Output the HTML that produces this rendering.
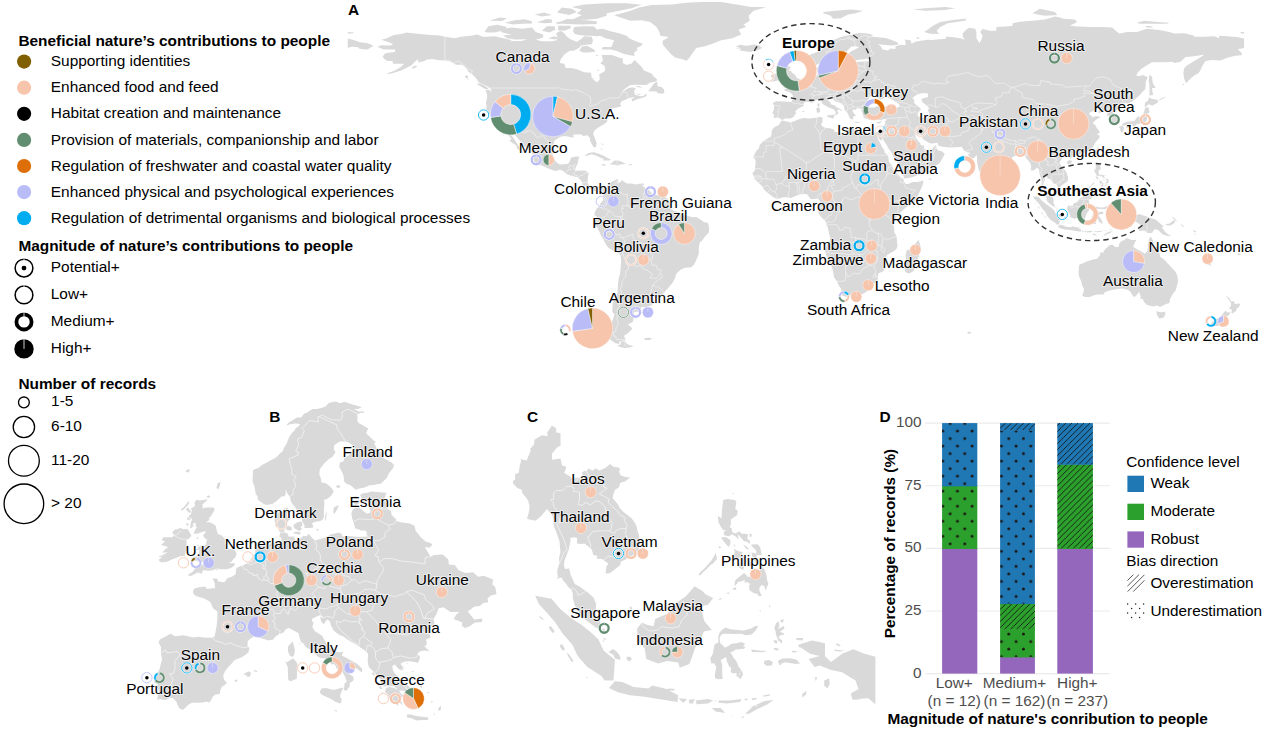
<!DOCTYPE html>
<html><head><meta charset="utf-8"><title>figure</title>
<style>
html,body{margin:0;padding:0;background:#fff;}
body{width:1268px;height:734px;overflow:hidden;position:relative;font-family:"Liberation Sans",sans-serif;}
svg{position:absolute;left:0;top:0;}
text{font-family:"Liberation Sans",sans-serif;fill:#000;}
.b{font-weight:bold;}
</style></head><body>
<svg width="1268" height="734" viewBox="0 0 1268 734">
<rect width="1268" height="734" fill="#fff"/>

<g id="world">
<path fill="#d9d9d9" d="M377.3 46.7 L381.8 45.2 L388.0 45.4 L393.0 44.9 L391.3 43.2 L388.0 41.9 L381.3 39.7 L386.3 38.4 L390.0 36.7 L393.8 35.0 L402.5 33.7 L406.2 32.5 L417.4 33.7 L427.4 34.7 L439.8 35.5 L444.8 36.7 L454.8 38.2 L461.0 36.7 L472.2 35.5 L477.2 34.5 L483.4 36.9 L494.6 36.2 L504.6 38.4 L512.0 40.2 L509.5 41.2 L522.0 40.9 L527.0 39.2 L532.0 38.7 L541.9 41.2 L551.9 41.2 L556.9 40.2 L557.4 36.9 L556.1 33.2 L560.6 30.7 L564.3 33.2 L566.8 36.4 L570.6 39.2 L576.8 41.7 L580.5 39.4 L584.2 36.2 L591.7 36.7 L593.0 40.7 L591.7 44.2 L584.2 44.9 L580.5 45.7 L579.3 47.7 L574.3 50.6 L569.3 51.1 L564.3 54.4 L560.6 59.4 L559.8 63.1 L564.3 63.8 L565.6 68.1 L571.8 68.1 L576.8 69.3 L584.2 72.3 L591.0 72.8 L591.7 78.0 L594.2 80.5 L597.4 82.3 L599.7 79.3 L599.2 74.3 L604.2 71.8 L605.4 69.3 L604.2 65.6 L600.4 63.6 L602.9 60.6 L601.7 54.9 L611.6 54.9 L619.1 57.4 L622.8 58.6 L622.8 63.1 L626.6 65.1 L631.6 63.6 L634.5 59.9 L641.5 66.8 L644.0 70.6 L651.5 73.5 L654.0 76.8 L657.0 79.3 L656.5 81.5 L650.2 82.5 L646.5 85.0 L636.5 84.8 L630.3 85.0 L625.3 88.5 L620.4 93.0 L624.1 90.7 L629.1 87.7 L634.0 87.5 L635.8 88.5 L634.0 91.0 L634.8 94.5 L639.0 96.0 L642.8 96.2 L646.5 93.5 L646.5 96.0 L643.5 97.5 L637.8 98.9 L632.1 101.4 L631.6 99.2 L635.3 97.0 L629.1 97.9 L625.3 99.7 L621.6 101.2 L619.9 104.2 L621.6 105.9 L617.9 107.2 L612.1 108.4 L611.6 109.7 L610.4 112.1 L607.9 114.1 L606.7 117.9 L607.4 121.4 L604.2 124.1 L601.7 125.6 L597.9 127.8 L594.2 130.8 L593.2 134.1 L595.5 139.8 L596.7 143.3 L596.0 147.0 L593.7 147.5 L592.2 144.8 L590.0 140.8 L590.0 137.8 L587.2 135.3 L583.5 136.0 L580.5 134.3 L576.8 134.6 L573.0 134.8 L573.8 137.5 L570.6 137.3 L566.8 136.3 L561.8 136.3 L558.9 137.8 L554.4 140.8 L553.4 145.3 L552.4 150.2 L552.4 154.5 L553.9 159.0 L556.9 162.7 L559.8 164.4 L564.3 164.2 L568.1 163.7 L569.8 161.4 L570.8 157.7 L575.5 156.5 L579.3 156.5 L578.0 161.4 L577.3 164.7 L576.0 166.4 L574.8 170.4 L578.0 170.7 L581.8 170.4 L585.5 170.7 L588.7 172.7 L588.0 176.4 L587.5 181.4 L588.0 183.9 L590.5 186.8 L594.2 188.1 L597.2 186.3 L600.4 186.6 L603.4 188.8 L604.7 189.6 L607.2 186.1 L608.4 183.1 L611.1 182.1 L615.4 180.1 L617.9 179.1 L618.1 181.9 L616.9 185.1 L618.4 183.1 L621.1 181.4 L621.6 179.9 L624.6 181.9 L626.6 183.6 L631.6 183.6 L635.3 184.6 L641.5 183.4 L642.0 185.1 L644.5 187.6 L645.3 188.6 L649.0 190.1 L652.7 194.6 L657.7 195.3 L661.4 195.6 L666.4 198.0 L668.4 199.5 L671.4 205.5 L671.4 209.5 L675.1 211.2 L677.6 211.7 L685.1 215.7 L687.6 216.0 L692.6 217.2 L696.3 217.0 L700.0 219.2 L703.8 222.0 L708.0 222.9 L709.2 227.9 L708.8 232.4 L705.0 236.4 L702.5 239.9 L699.8 242.4 L698.8 247.3 L698.8 253.6 L697.0 258.6 L694.3 264.3 L691.3 267.3 L685.1 267.8 L680.6 269.8 L676.4 273.5 L674.9 278.5 L672.6 282.7 L668.9 287.2 L665.7 290.4 L662.7 294.7 L659.2 296.9 L655.2 296.7 L650.7 295.2 L653.2 298.4 L654.0 300.9 L652.0 305.1 L646.5 306.9 L641.0 307.1 L640.8 311.6 L634.0 312.1 L634.0 315.3 L637.3 315.8 L633.6 318.3 L632.8 322.1 L627.8 324.5 L631.6 327.5 L632.1 329.0 L627.8 333.3 L624.1 335.7 L625.6 340.2 L622.8 340.7 L619.6 341.5 L619.1 344.0 L615.4 343.2 L611.6 340.7 L609.1 338.2 L607.9 332.0 L607.7 326.5 L611.6 323.3 L613.4 318.3 L614.6 314.6 L612.4 312.1 L612.4 308.4 L612.9 302.6 L614.9 298.4 L617.4 293.4 L617.9 285.9 L618.4 279.7 L620.1 273.5 L620.6 268.0 L621.1 261.0 L620.6 255.6 L617.9 253.1 L612.9 250.6 L608.4 247.8 L605.9 244.4 L603.7 239.9 L600.9 234.9 L598.4 229.9 L596.7 226.7 L593.7 224.7 L593.5 221.0 L596.0 218.5 L596.9 216.2 L594.5 215.5 L594.7 212.5 L596.5 208.8 L597.9 207.5 L599.7 206.0 L600.4 203.5 L602.9 200.5 L603.2 196.3 L602.9 193.1 L601.9 192.1 L600.7 190.1 L597.9 187.6 L596.0 189.3 L596.2 191.6 L593.7 191.1 L592.5 189.8 L589.7 189.3 L587.7 188.8 L587.5 187.6 L585.0 186.1 L582.5 185.1 L582.3 182.6 L580.5 180.1 L578.3 177.9 L577.3 176.9 L573.8 176.6 L570.6 175.4 L566.3 173.9 L563.1 170.7 L559.8 169.7 L555.6 170.9 L550.6 169.4 L546.9 167.7 L542.4 165.7 L538.2 164.4 L534.4 161.4 L533.0 159.0 L533.7 156.5 L532.0 152.7 L528.2 149.0 L524.5 146.3 L523.2 143.5 L520.8 141.5 L518.3 139.0 L515.8 135.8 L514.0 132.3 L510.0 131.1 L510.3 134.1 L513.3 137.8 L515.8 141.5 L518.3 145.3 L520.8 149.0 L523.2 152.2 L522.2 153.0 L520.8 151.5 L517.0 148.5 L516.3 145.3 L512.0 142.8 L509.5 140.8 L511.5 139.0 L508.3 135.3 L505.6 130.8 L504.1 128.8 L501.1 125.3 L495.9 124.1 L492.6 119.1 L490.9 116.1 L487.6 111.6 L486.4 109.4 L486.6 105.4 L485.9 102.9 L487.1 97.9 L487.1 95.0 L485.6 89.7 L490.1 90.2 L490.9 92.2 L491.4 89.7 L489.6 88.0 L485.9 85.5 L479.7 83.0 L478.4 81.8 L475.9 78.0 L472.2 74.3 L468.5 71.8 L466.0 68.1 L462.2 64.8 L456.0 64.8 L453.5 63.1 L448.5 61.1 L443.6 60.6 L437.3 60.1 L432.4 58.9 L427.4 59.4 L423.6 61.3 L417.9 62.6 L418.7 58.6 L422.4 57.6 L416.2 60.6 L413.7 63.1 L411.2 65.6 L406.2 68.1 L401.2 70.6 L396.3 72.1 L391.3 73.5 L386.3 74.3 L390.0 72.3 L395.0 70.6 L401.2 66.8 L404.2 63.8 L400.0 63.8 L393.0 63.8 L392.5 61.1 L387.5 61.1 L384.3 59.1 L382.6 56.4 L385.0 53.6 L390.0 52.6 L395.0 51.9 L395.0 49.4 L390.0 49.4 L383.8 49.4 L381.3 48.6 L377.3 46.7Z M488.6 89.5 L484.2 88.5 L476.4 83.8 L479.7 83.5 L484.6 85.5 L488.1 88.2Z M469.2 80.0 L464.7 76.8 L466.0 75.3 L468.0 76.0 L467.7 78.0Z M411.2 68.1 L414.9 65.6 L417.4 66.6 L413.7 68.6Z M648.2 91.2 L650.7 88.0 L654.0 83.5 L657.2 81.8 L657.7 85.5 L656.5 86.0 L661.4 87.0 L663.9 89.2 L664.4 92.2 L662.7 93.7 L657.7 93.2 L656.5 91.5Z M635.3 85.7 L640.3 86.5 L642.3 87.7 L637.8 87.2Z M636.0 93.5 L641.5 94.5 L639.0 95.2Z M584.5 155.5 L589.2 152.7 L594.2 152.2 L599.2 154.0 L604.2 156.0 L607.9 158.2 L611.1 159.7 L609.1 160.4 L602.9 160.4 L603.7 158.7 L600.4 157.7 L596.7 155.7 L591.7 154.2 L586.7 155.7Z M610.6 163.7 L614.6 160.4 L619.1 160.7 L622.1 161.9 L625.6 163.7 L622.8 164.2 L619.1 164.7 L617.4 165.7 L615.4 164.7 L610.6 164.4Z M600.9 164.4 L604.2 163.9 L606.2 165.2 L603.7 165.7Z M628.6 164.2 L632.3 164.2 L632.1 165.2 L628.6 165.2Z M600.4 143.8 L603.7 143.8 L604.2 144.8 L601.7 144.3Z M601.2 147.8 L602.4 149.7 L601.9 150.2 L600.9 148.7Z M642.0 183.4 L644.0 183.4 L644.0 184.9 L642.0 184.9Z M644.0 338.2 L649.0 337.7 L652.0 338.5 L650.2 340.0 L645.3 340.0Z M625.1 341.2 L626.1 342.7 L627.8 344.5 L633.6 346.2 L630.3 347.2 L625.3 347.9 L621.6 347.4 L617.1 345.7 L620.4 344.5 L620.9 342.7 L620.9 341.5Z M634.5 55.9 L631.6 55.6 L624.1 53.9 L616.6 51.1 L610.4 49.4 L601.7 49.4 L602.9 46.9 L611.6 46.9 L612.9 43.2 L614.1 40.2 L605.4 38.2 L600.4 35.7 L596.7 36.2 L591.7 35.7 L585.5 35.7 L579.3 35.0 L574.3 33.7 L573.0 30.7 L574.3 27.0 L584.2 26.2 L594.2 26.5 L596.7 29.5 L602.9 28.7 L610.4 31.2 L619.1 33.2 L626.6 35.7 L629.1 38.2 L636.5 41.4 L642.8 43.7 L641.5 45.7 L636.5 48.1 L637.8 49.4 L634.0 53.1Z M543.2 37.4 L536.9 39.4 L527.0 39.2 L514.5 39.4 L507.1 38.2 L503.3 35.2 L512.0 35.0 L500.8 32.0 L503.3 28.7 L512.0 27.5 L522.0 28.7 L532.0 27.5 L535.7 32.0 L543.2 34.5Z M484.6 32.0 L488.4 26.2 L497.1 24.7 L507.1 27.0 L502.1 30.7 L494.6 32.5 L488.4 32.5Z M504.6 22.8 L514.5 20.3 L524.5 19.3 L532.0 21.3 L532.0 23.5 L522.0 23.7 L513.3 24.5Z M489.6 20.8 L499.6 17.5 L507.1 18.3 L502.1 21.0Z M536.9 22.3 L546.9 19.0 L551.9 19.5 L551.9 22.8 L544.4 23.2Z M541.9 30.7 L546.9 26.2 L554.4 26.2 L555.6 29.5 L549.4 32.5Z M558.1 30.2 L558.1 25.7 L570.6 25.7 L570.6 28.2 L564.3 30.7Z M548.1 38.2 L554.4 36.2 L558.1 37.7 L555.6 39.4Z M556.9 23.2 L566.8 19.0 L576.8 19.5 L596.7 21.3 L596.7 24.0 L581.8 24.5 L566.8 24.0Z M555.6 22.5 L560.6 21.5 L563.1 23.2 L558.1 24.2Z M571.8 19.8 L581.8 15.3 L576.8 13.3 L581.8 9.6 L571.8 7.1 L584.2 4.6 L606.7 3.3 L626.6 3.3 L641.5 4.8 L631.6 8.3 L616.6 11.3 L606.7 13.3 L606.7 15.8 L596.7 18.8 L586.7 19.8Z M556.9 12.5 L561.8 7.6 L571.8 8.8 L576.8 12.0 L569.3 15.0Z M534.4 14.5 L544.4 12.5 L551.9 15.0 L541.9 16.5Z M579.3 50.6 L581.8 46.4 L586.7 45.7 L594.2 49.4 L595.5 51.4 L589.2 52.6 L583.0 52.6Z M595.5 54.6 L598.4 55.6 L596.7 56.6Z M591.7 78.0 L595.5 78.0 L593.7 78.8Z M596.7 69.3 L599.2 70.6 L597.7 71.1Z M614.1 15.3 L629.1 11.3 L639.0 7.6 L651.5 5.1 L671.4 4.6 L686.3 2.8 L701.3 2.1 L721.2 2.1 L741.1 5.3 L751.1 7.1 L766.0 7.1 L753.6 10.8 L748.6 15.8 L749.8 20.8 L743.6 24.5 L746.1 27.0 L738.6 29.5 L741.1 34.5 L732.4 38.2 L721.2 40.2 L713.7 43.2 L705.0 46.2 L696.3 48.1 L692.6 53.1 L689.3 58.1 L686.6 60.8 L681.4 58.9 L675.1 57.4 L671.4 54.4 L667.7 50.6 L662.7 44.4 L662.7 40.7 L668.9 36.9 L660.2 35.7 L659.4 32.0 L656.5 27.0 L650.2 22.0 L641.5 20.3 L630.3 20.8 L622.8 18.3 L614.1 15.3Z M735.4 46.9 L739.9 44.7 L746.1 45.7 L754.8 44.4 L759.8 45.7 L762.0 48.1 L758.5 49.9 L749.8 51.9 L743.6 51.1 L739.4 50.6 L741.1 48.6 L736.1 48.4 L739.9 47.2Z M781.2 120.9 L782.7 120.6 L788.4 122.1 L790.9 122.6 L795.9 120.6 L799.6 119.1 L803.4 118.1 L809.6 118.4 L814.6 117.9 L820.3 117.1 L823.3 117.9 L822.0 119.6 L822.8 121.6 L821.0 124.8 L823.3 127.1 L827.0 128.3 L828.8 128.1 L833.7 129.6 L834.5 131.6 L839.5 133.1 L843.7 134.6 L845.7 132.8 L845.7 129.6 L849.4 128.1 L853.2 128.8 L858.1 130.8 L863.1 132.1 L868.1 132.8 L870.6 131.8 L873.1 131.3 L876.3 132.1 L877.1 135.3 L878.1 139.8 L880.1 142.8 L881.8 146.5 L884.3 150.2 L884.8 152.7 L887.8 155.2 L888.5 157.7 L888.8 161.4 L891.8 165.2 L893.8 170.9 L896.7 173.1 L900.5 176.9 L903.5 178.9 L903.7 181.1 L905.5 183.9 L908.0 183.9 L912.9 182.1 L917.9 181.9 L923.4 180.4 L922.9 184.1 L921.6 187.6 L919.2 192.6 L916.7 197.6 L914.2 201.3 L910.4 204.5 L906.7 207.0 L903.0 210.0 L900.5 212.5 L898.0 215.0 L896.0 217.5 L894.5 221.2 L893.0 224.9 L894.3 227.4 L894.3 232.4 L896.5 236.1 L897.0 241.1 L897.5 246.1 L896.7 248.6 L894.3 251.1 L890.5 253.1 L887.5 254.8 L883.8 259.3 L883.8 263.5 L884.3 268.5 L883.8 271.0 L878.1 273.5 L877.8 278.5 L876.6 281.7 L873.1 284.7 L870.6 287.9 L866.9 291.4 L863.1 293.7 L859.9 294.7 L854.4 294.9 L850.7 295.2 L845.7 296.7 L842.0 295.4 L841.5 292.2 L841.2 288.9 L839.0 285.9 L837.0 281.2 L834.0 277.2 L833.2 272.2 L832.0 267.3 L829.5 262.3 L827.0 256.8 L825.3 252.8 L825.3 249.3 L827.0 244.9 L829.5 241.1 L830.3 237.4 L828.8 232.4 L827.8 227.4 L826.5 224.9 L826.3 222.4 L825.3 220.7 L823.3 219.2 L820.1 215.7 L818.3 212.5 L819.1 209.3 L819.8 207.0 L820.3 203.8 L820.1 201.0 L818.1 198.8 L816.6 198.8 L813.3 199.0 L810.8 199.3 L808.4 196.1 L807.1 194.3 L804.4 194.1 L799.6 194.6 L795.9 195.8 L790.9 198.0 L787.2 197.3 L783.4 197.3 L777.2 199.0 L773.0 197.1 L769.0 193.8 L767.3 192.8 L763.5 188.8 L762.3 186.3 L759.3 183.4 L757.3 181.4 L754.3 179.1 L754.1 176.4 L752.3 173.4 L754.8 170.2 L755.3 165.2 L755.8 161.7 L754.8 158.5 L753.3 158.0 L753.6 156.5 L756.1 151.0 L758.8 148.5 L759.8 144.8 L763.5 141.0 L768.0 138.3 L771.0 136.5 L771.7 134.1 L771.5 131.6 L772.7 129.1 L774.7 127.1 L778.5 125.3 L780.2 122.8Z M918.7 239.9 L921.1 248.6 L919.9 252.3 L918.7 256.1 L916.7 262.3 L913.7 271.0 L909.2 273.5 L905.5 272.2 L903.7 266.0 L906.2 259.8 L905.5 254.8 L906.7 250.3 L911.2 249.1 L915.4 243.6Z M772.7 102.9 L776.0 101.2 L782.2 101.4 L787.2 101.7 L791.4 101.9 L792.7 99.2 L792.9 95.5 L790.4 92.5 L784.7 90.7 L784.2 89.2 L788.4 88.5 L791.9 88.7 L792.2 86.2 L795.4 87.2 L796.4 86.2 L799.6 85.0 L799.9 83.3 L802.1 82.8 L804.6 81.8 L806.4 80.0 L807.9 78.0 L810.8 76.8 L813.3 76.5 L816.6 76.0 L817.8 74.8 L817.3 71.8 L816.1 69.3 L817.1 67.6 L822.0 66.3 L821.5 69.3 L822.8 70.1 L820.8 72.3 L819.6 73.0 L820.8 74.3 L823.3 75.5 L826.5 74.8 L829.5 74.5 L831.5 75.8 L836.5 74.5 L842.0 73.5 L843.2 74.8 L845.5 74.3 L848.2 72.6 L848.2 68.6 L850.2 66.6 L852.2 66.3 L854.4 68.1 L856.4 67.6 L856.7 64.8 L854.4 63.8 L854.4 62.6 L858.1 61.8 L865.6 61.6 L871.1 60.8 L867.4 59.1 L860.6 59.6 L853.2 60.8 L849.4 59.1 L848.9 56.4 L848.9 53.1 L851.9 51.1 L856.9 48.6 L858.9 46.9 L855.2 46.2 L851.4 46.4 L848.9 48.9 L846.9 51.1 L842.0 53.1 L839.0 55.1 L838.7 58.1 L839.5 59.4 L842.0 60.1 L842.7 61.6 L840.2 63.6 L837.5 64.3 L837.0 67.3 L835.7 70.1 L832.0 70.6 L831.3 72.1 L828.0 72.1 L827.5 70.1 L825.3 66.8 L823.8 63.6 L822.3 62.3 L822.0 61.1 L819.6 63.3 L815.8 65.3 L813.3 65.6 L809.8 63.6 L808.4 60.6 L808.4 56.9 L808.8 55.1 L813.3 53.4 L817.1 51.9 L820.8 50.6 L823.3 48.6 L826.5 46.2 L828.3 43.7 L832.0 41.4 L833.2 39.9 L837.0 38.7 L840.7 36.9 L845.7 35.7 L850.7 35.0 L855.7 33.5 L860.1 33.0 L865.6 33.2 L870.6 34.2 L873.1 35.0 L870.6 36.4 L878.1 37.2 L885.5 37.9 L891.8 39.9 L898.0 42.7 L898.0 44.7 L891.8 45.4 L883.0 44.7 L878.1 43.9 L880.6 46.2 L882.6 49.4 L888.0 50.6 L890.5 48.6 L895.5 49.1 L895.5 46.2 L900.5 44.7 L905.5 45.2 L905.5 41.2 L904.2 39.4 L910.4 40.2 L911.7 43.7 L915.4 41.7 L920.4 40.7 L927.9 39.7 L931.6 39.9 L939.1 39.2 L945.3 38.9 L946.5 36.4 L955.3 37.4 L960.2 38.2 L965.2 39.7 L962.7 36.9 L962.7 33.2 L966.5 29.5 L969.0 27.7 L975.2 28.7 L976.4 32.0 L976.4 38.2 L979.7 43.2 L981.4 39.4 L982.6 35.7 L980.2 32.0 L982.6 29.0 L990.1 30.7 L996.3 30.7 L996.3 27.0 L1005.1 26.5 L1012.5 26.0 L1012.5 23.2 L1020.0 21.8 L1032.5 20.8 L1044.9 19.5 L1054.9 16.5 L1059.8 17.5 L1063.6 18.8 L1074.8 19.5 L1077.3 22.0 L1069.8 25.7 L1077.3 26.5 L1089.7 27.0 L1102.2 27.0 L1112.1 27.5 L1117.1 32.0 L1119.6 33.5 L1127.1 32.0 L1137.0 32.0 L1144.5 29.5 L1147.0 28.7 L1159.4 30.0 L1169.4 32.0 L1174.4 33.5 L1184.3 33.2 L1194.3 35.7 L1194.3 36.7 L1204.3 36.7 L1214.2 36.2 L1219.2 38.2 L1219.2 35.7 L1226.7 36.2 L1236.6 36.9 L1244.1 38.4 L1244.1 48.1 L1241.6 48.6 L1237.9 48.9 L1241.6 53.1 L1242.1 54.9 L1234.1 56.1 L1226.7 58.1 L1220.4 60.6 L1211.7 59.9 L1205.5 61.1 L1202.5 65.6 L1200.5 70.1 L1198.8 73.0 L1194.3 75.5 L1191.1 78.0 L1186.1 83.3 L1184.3 79.3 L1183.3 73.0 L1184.3 68.1 L1186.8 65.6 L1191.8 62.6 L1196.8 59.4 L1201.8 56.6 L1204.3 54.4 L1199.3 55.6 L1195.0 56.1 L1191.8 56.4 L1185.6 56.9 L1180.6 61.8 L1174.4 63.1 L1171.9 61.8 L1165.7 62.3 L1158.2 62.3 L1152.0 62.3 L1145.7 66.1 L1140.8 69.3 L1137.0 73.5 L1136.5 76.0 L1139.5 76.0 L1143.3 75.0 L1147.7 77.5 L1145.7 81.8 L1145.7 85.5 L1145.2 89.2 L1142.0 92.2 L1139.5 95.5 L1135.8 98.4 L1132.0 101.7 L1127.1 103.7 L1124.6 102.4 L1121.3 104.7 L1119.1 106.7 L1118.9 108.4 L1115.9 110.4 L1113.4 111.6 L1113.1 112.4 L1115.9 114.6 L1118.1 117.9 L1118.4 120.9 L1117.1 122.6 L1113.9 123.3 L1110.9 124.3 L1110.4 121.6 L1111.4 118.4 L1111.1 116.4 L1108.4 115.9 L1106.9 115.4 L1107.9 112.1 L1105.7 110.6 L1102.2 111.4 L1098.4 113.4 L1098.9 110.4 L1100.2 108.9 L1097.2 108.2 L1093.5 110.9 L1089.7 112.4 L1089.0 114.1 L1091.7 115.9 L1092.7 117.4 L1095.9 116.1 L1100.9 116.9 L1097.2 118.9 L1095.2 120.4 L1093.0 122.4 L1093.0 123.3 L1095.4 125.3 L1096.9 128.3 L1099.2 130.8 L1099.4 133.1 L1096.7 134.6 L1099.7 135.5 L1099.2 138.3 L1097.2 140.3 L1094.7 143.5 L1093.5 146.5 L1091.0 148.7 L1088.0 151.2 L1084.7 153.0 L1080.5 154.2 L1078.5 155.0 L1074.8 156.0 L1071.8 157.0 L1070.5 159.2 L1069.3 156.7 L1066.1 156.0 L1062.3 157.7 L1061.1 160.2 L1059.3 162.7 L1061.1 165.7 L1063.6 168.9 L1066.1 171.4 L1067.8 176.4 L1068.1 180.1 L1066.8 182.1 L1063.6 183.9 L1061.6 185.6 L1058.1 188.3 L1057.1 185.6 L1056.1 183.9 L1053.6 183.4 L1051.9 180.9 L1049.9 178.9 L1047.4 178.4 L1047.1 176.4 L1044.9 176.9 L1044.9 180.1 L1043.7 182.6 L1042.9 185.6 L1044.4 187.1 L1045.6 189.3 L1046.1 191.8 L1048.6 193.1 L1050.6 194.6 L1052.9 197.6 L1053.6 200.0 L1053.4 203.0 L1055.4 206.3 L1053.4 206.5 L1050.6 204.5 L1048.4 202.8 L1046.6 200.0 L1045.9 196.3 L1045.4 193.8 L1043.9 192.6 L1041.7 189.6 L1040.7 187.6 L1041.4 183.9 L1041.7 180.1 L1040.4 176.4 L1039.4 172.7 L1038.9 168.9 L1036.9 167.7 L1033.7 170.4 L1030.7 170.2 L1031.2 166.4 L1030.0 162.7 L1028.0 160.2 L1025.7 157.7 L1024.5 154.5 L1021.2 154.7 L1017.5 155.7 L1015.0 156.0 L1012.5 156.7 L1012.0 159.0 L1008.8 160.9 L1005.6 163.9 L1001.3 167.7 L998.3 169.7 L995.6 171.4 L995.3 176.4 L994.6 181.4 L993.9 184.4 L992.6 186.8 L990.6 188.1 L988.9 189.8 L986.4 187.1 L985.1 183.9 L983.1 180.1 L981.4 175.1 L978.9 170.2 L977.7 165.7 L977.2 162.2 L976.9 157.7 L976.7 154.7 L973.9 158.2 L970.9 158.0 L967.7 154.5 L970.9 153.0 L967.2 152.2 L964.0 150.5 L962.7 148.2 L961.5 146.8 L956.5 147.3 L949.0 147.5 L942.8 146.8 L938.6 145.8 L937.3 142.8 L932.9 143.5 L930.4 143.5 L926.6 141.5 L922.9 139.0 L920.9 135.3 L917.9 134.3 L915.4 135.3 L915.4 136.8 L917.4 140.3 L920.4 143.5 L921.1 145.8 L923.6 145.0 L924.1 147.0 L924.4 149.5 L927.9 150.0 L931.6 149.2 L935.3 145.5 L936.3 144.5 L936.3 148.0 L937.8 150.2 L941.8 151.2 L944.8 154.0 L942.1 159.0 L939.8 162.7 L936.6 165.2 L932.9 167.7 L927.9 168.9 L924.1 171.9 L917.9 175.1 L912.9 176.9 L908.0 178.1 L904.2 178.4 L903.0 175.1 L902.2 171.4 L901.7 168.2 L899.2 165.2 L896.7 161.4 L893.5 157.0 L891.8 152.7 L888.8 149.0 L886.8 145.3 L883.8 140.8 L882.6 138.3 L883.0 136.5 L881.6 140.3 L881.1 140.8 L879.3 139.0 L877.1 135.5 L876.3 132.3 L880.6 132.1 L882.3 130.3 L883.0 127.8 L885.0 124.1 L885.3 120.9 L886.0 118.9 L883.8 118.9 L880.6 119.9 L876.8 120.1 L872.1 118.4 L869.4 119.9 L866.1 118.6 L863.9 117.9 L863.1 114.9 L861.9 112.1 L861.1 110.4 L864.4 109.4 L868.1 109.2 L868.6 107.4 L874.3 107.4 L879.3 105.4 L883.0 105.4 L886.8 107.2 L891.8 108.2 L896.7 107.9 L899.5 106.4 L899.2 104.2 L895.5 101.7 L891.8 99.4 L888.8 97.9 L887.3 97.2 L890.5 95.0 L893.0 92.5 L889.3 93.0 L884.3 94.2 L883.0 96.2 L886.8 97.2 L883.8 97.9 L880.6 99.4 L879.3 98.9 L876.8 97.0 L879.8 95.5 L875.6 94.7 L873.1 94.0 L870.1 96.7 L867.4 100.4 L865.6 102.9 L865.1 104.7 L866.1 106.7 L868.1 107.4 L865.6 107.9 L863.1 108.9 L861.1 109.7 L860.6 108.4 L856.9 108.2 L855.2 109.9 L852.7 109.2 L852.7 111.6 L854.4 114.1 L855.7 115.4 L855.7 116.1 L853.2 116.6 L853.2 119.1 L851.9 119.4 L849.9 118.4 L848.7 115.9 L848.2 114.1 L846.4 111.6 L844.5 109.7 L844.2 106.7 L843.2 104.9 L840.2 102.9 L835.7 101.4 L833.2 99.2 L831.5 97.2 L829.8 97.9 L830.0 96.2 L826.5 97.0 L826.8 99.7 L829.8 101.7 L831.3 104.4 L835.7 105.7 L835.7 106.9 L838.2 107.9 L842.0 109.9 L841.7 110.9 L838.2 109.2 L837.2 110.9 L838.5 112.9 L837.0 114.6 L835.0 115.6 L835.0 114.6 L836.0 112.9 L835.0 110.4 L832.8 108.9 L831.3 108.4 L828.3 107.2 L826.3 105.9 L823.3 104.4 L822.0 102.9 L821.3 100.7 L819.6 99.7 L817.6 99.4 L814.6 100.9 L812.1 102.7 L808.4 101.9 L805.9 101.7 L803.9 102.4 L803.6 104.4 L803.9 105.7 L801.4 106.9 L797.9 108.7 L795.2 111.6 L796.4 113.4 L794.7 114.6 L794.2 116.4 L791.4 117.9 L790.4 118.6 L784.9 118.6 L782.5 120.1 L780.5 119.1 L780.0 118.1 L777.5 117.4 L773.7 117.9 L774.0 114.1 L772.2 113.4 L773.7 109.9 L774.2 106.7 L773.5 104.2Z M347.7 38.4 L352.7 39.7 L360.1 42.2 L367.6 43.2 L372.6 45.2 L373.1 45.9 L367.6 49.4 L365.1 49.6 L358.9 48.6 L357.7 46.9 L351.4 46.7 L347.7 48.1Z M781.7 85.3 L787.2 84.8 L790.9 84.0 L795.9 83.5 L799.4 82.5 L797.9 81.8 L800.1 79.0 L796.6 78.0 L795.9 76.5 L795.4 75.0 L792.4 73.0 L790.9 71.1 L788.4 70.6 L789.7 69.3 L790.9 66.8 L787.2 66.3 L785.9 66.6 L787.9 64.1 L783.4 64.1 L782.2 66.1 L781.5 68.6 L782.2 70.6 L783.4 72.6 L783.9 73.5 L787.2 73.3 L787.9 75.5 L788.4 77.0 L784.7 77.3 L785.2 78.5 L785.4 80.0 L783.0 80.8 L785.4 81.5 L788.4 82.0 L787.2 82.5 L784.7 82.8Z M780.0 80.0 L780.7 77.3 L782.2 74.3 L780.2 72.6 L777.2 72.3 L774.7 74.0 L771.0 75.0 L771.0 77.0 L772.7 78.0 L770.3 80.5 L771.5 81.8 L775.2 81.0Z M823.3 12.0 L835.7 10.8 L850.7 9.6 L863.1 10.8 L855.7 13.3 L848.2 14.5 L840.7 18.3 L833.2 18.8 L830.8 15.8 L823.3 13.3Z M912.9 9.6 L925.4 8.3 L945.3 7.1 L955.3 8.3 L945.3 10.1 L925.4 10.8Z M924.1 32.0 L927.9 29.5 L932.9 25.7 L940.3 22.0 L952.8 20.0 L966.5 18.5 L965.2 20.8 L947.8 23.2 L940.3 27.0 L936.6 30.7 L939.1 34.0 L930.4 33.7Z M1032.5 13.3 L1039.9 8.8 L1054.9 12.0 L1057.3 15.0 L1044.9 15.8 L1037.4 14.5Z M1137.0 22.5 L1144.5 20.8 L1157.0 22.0 L1169.4 22.8 L1166.9 23.7 L1152.0 23.7 L1139.5 23.7Z M1144.5 26.0 L1150.7 26.0 L1153.2 27.5 L1147.0 27.5Z M1240.4 32.0 L1244.1 32.0 L1244.1 33.5 L1241.1 33.5Z M347.7 32.0 L353.9 32.5 L352.7 33.5 L347.7 33.5Z M916.7 36.9 L919.2 37.4 L919.2 38.7 L916.7 38.7Z M1149.5 74.8 L1152.0 76.8 L1152.7 83.0 L1155.7 88.0 L1152.0 88.0 L1152.7 93.0 L1153.2 95.0 L1149.5 95.5 L1149.5 91.7 L1149.5 85.5 L1148.7 80.5Z M1144.5 106.7 L1147.0 105.9 L1148.2 104.2 L1152.7 105.4 L1158.2 102.2 L1157.7 99.9 L1150.7 98.4 L1149.0 97.0 L1148.2 100.4 L1145.2 102.4Z M1148.2 107.2 L1149.5 111.6 L1147.0 115.4 L1147.0 118.4 L1146.5 121.1 L1144.5 122.8 L1142.0 122.8 L1139.5 123.8 L1137.0 123.8 L1136.5 124.6 L1134.5 126.6 L1132.5 126.3 L1132.5 124.1 L1128.3 124.6 L1124.6 125.3 L1122.1 125.3 L1122.1 124.1 L1125.8 121.9 L1129.6 121.4 L1134.5 121.1 L1136.5 117.9 L1137.8 116.6 L1140.8 117.1 L1143.3 114.1 L1144.5 110.4 L1145.2 107.4Z M1121.8 125.6 L1124.1 127.1 L1123.3 131.6 L1121.1 132.3 L1120.1 129.1 L1118.9 127.3Z M1125.8 125.8 L1130.8 124.8 L1130.1 127.1 L1127.1 128.3 L1125.8 127.1Z M1098.4 147.3 L1099.7 148.7 L1097.2 154.0 L1096.7 155.2 L1094.9 152.7 L1096.7 149.0Z M1069.8 160.2 L1072.3 160.9 L1071.0 163.4 L1068.6 164.7 L1066.6 162.7 L1068.1 160.4Z M995.1 185.6 L998.1 188.8 L999.8 191.8 L998.3 194.6 L995.6 195.1 L994.4 191.3 L994.9 187.6Z M1068.8 205.0 L1070.5 205.8 L1072.8 206.3 L1073.3 203.8 L1077.3 202.0 L1079.8 198.8 L1083.5 196.3 L1086.5 192.8 L1089.0 194.3 L1090.2 195.6 L1092.7 196.8 L1091.0 199.0 L1088.7 199.5 L1089.2 202.5 L1089.7 204.5 L1092.2 207.5 L1089.5 208.0 L1088.5 211.2 L1086.7 213.2 L1085.7 216.2 L1084.7 219.0 L1081.5 220.2 L1081.0 218.5 L1077.3 218.0 L1074.3 218.7 L1070.3 217.2 L1069.8 213.7 L1067.6 211.2 L1067.3 209.3 L1067.3 207.0Z M1033.2 196.1 L1038.7 197.1 L1041.7 200.5 L1045.6 203.8 L1048.6 205.8 L1052.4 208.8 L1054.4 210.7 L1056.1 214.5 L1059.8 217.5 L1059.6 221.2 L1059.3 224.4 L1056.4 224.4 L1055.4 222.9 L1050.6 220.0 L1047.4 216.2 L1045.6 212.5 L1042.4 208.8 L1039.9 205.0 L1037.4 202.0 L1034.4 198.8Z M1057.8 226.9 L1059.8 224.7 L1062.3 224.9 L1066.1 226.7 L1071.0 227.2 L1072.3 226.2 L1076.5 227.2 L1081.0 229.4 L1080.8 231.7 L1076.0 230.9 L1069.8 229.9 L1064.8 229.4 L1060.8 228.4Z M1081.0 230.4 L1084.0 230.7 L1082.7 231.9Z M1084.5 230.9 L1086.5 230.7 L1086.0 232.2 L1084.7 232.2Z M1086.7 231.2 L1091.0 230.7 L1092.7 231.2 L1091.0 232.2 L1087.2 232.4Z M1094.5 231.2 L1098.4 231.2 L1102.2 230.7 L1101.7 231.7 L1097.2 232.2 L1094.5 231.9Z M1092.2 233.7 L1095.2 233.7 L1096.7 235.4 L1093.5 234.9Z M1103.4 235.6 L1105.9 233.2 L1109.6 231.4 L1112.9 230.9 L1110.9 232.4 L1107.2 234.2 L1104.7 235.6Z M1121.8 212.2 L1125.8 211.0 L1130.1 212.0 L1130.1 216.2 L1132.0 218.2 L1135.8 215.5 L1139.5 214.0 L1143.3 215.5 L1147.0 216.5 L1152.0 218.5 L1155.7 219.5 L1158.9 222.4 L1161.9 224.9 L1163.9 226.2 L1161.9 227.2 L1163.7 229.9 L1165.7 232.4 L1168.2 234.4 L1171.4 235.6 L1168.2 235.9 L1163.9 235.1 L1161.4 233.2 L1158.2 229.9 L1155.0 229.2 L1153.2 230.9 L1152.0 232.9 L1147.5 232.9 L1144.5 230.4 L1140.8 230.7 L1138.8 228.7 L1141.3 227.4 L1140.3 224.4 L1135.8 221.7 L1132.0 221.0 L1128.3 219.5 L1126.6 220.0 L1124.6 217.2 L1128.3 216.2 L1125.1 215.5 L1122.1 213.5Z M1165.2 223.9 L1169.4 223.7 L1173.1 220.5 L1175.1 220.7 L1174.4 222.9 L1170.6 225.4 L1166.9 225.4Z M1171.4 216.5 L1174.4 218.0 L1176.9 221.2 L1176.1 221.5 L1173.1 218.2Z M1180.9 223.7 L1183.8 226.2 L1183.1 227.2 L1181.4 225.4Z M1193.1 229.9 L1196.3 231.4 L1195.5 232.4 L1193.3 231.2Z M1193.8 233.2 L1196.3 234.2 L1195.0 234.7Z M1210.7 247.3 L1212.2 248.6 L1213.0 251.1 L1211.7 249.8Z M1237.4 253.6 L1240.4 253.6 L1240.6 255.1 L1237.9 255.3Z M1241.1 250.8 L1244.1 250.3 L1242.9 251.8Z M1204.3 260.0 L1208.0 262.3 L1211.7 265.5 L1210.5 265.8 L1206.8 263.8 L1204.3 261.0Z M1150.7 236.6 L1153.2 241.1 L1154.0 245.6 L1157.7 247.3 L1159.4 253.1 L1160.2 256.8 L1164.4 259.8 L1167.7 263.5 L1171.4 267.3 L1175.6 271.8 L1177.4 276.0 L1178.1 281.0 L1176.9 285.9 L1175.6 290.4 L1172.6 294.2 L1170.1 299.1 L1169.4 302.9 L1164.9 304.4 L1160.2 307.1 L1157.0 305.4 L1153.2 306.6 L1147.0 304.9 L1144.0 302.1 L1142.8 299.1 L1140.0 298.6 L1140.8 296.7 L1139.0 291.7 L1137.0 294.7 L1134.5 296.9 L1132.8 295.9 L1130.8 292.2 L1128.3 289.9 L1122.6 288.4 L1115.9 289.2 L1109.6 290.4 L1104.7 292.2 L1103.4 294.4 L1097.2 294.4 L1093.5 295.4 L1089.7 297.1 L1084.7 296.9 L1082.2 295.4 L1083.5 292.2 L1084.0 289.2 L1082.2 285.4 L1081.0 281.0 L1079.0 276.0 L1078.5 272.2 L1078.8 268.5 L1079.3 264.8 L1080.3 264.3 L1083.5 263.0 L1087.2 261.3 L1092.2 259.8 L1097.2 258.8 L1100.2 254.8 L1100.2 252.3 L1103.4 252.8 L1103.7 251.1 L1105.9 248.6 L1109.1 245.6 L1112.1 244.4 L1115.4 246.9 L1118.4 246.9 L1119.6 243.1 L1121.6 240.9 L1124.6 239.9 L1126.1 237.9 L1132.0 239.9 L1136.5 239.9 L1134.5 243.1 L1133.3 246.9 L1137.0 249.3 L1142.0 251.8 L1144.5 253.8 L1147.0 251.8 L1148.2 247.3 L1148.2 242.4 L1149.5 238.1Z M1156.2 311.3 L1160.7 312.3 L1165.2 311.8 L1165.2 315.1 L1163.2 317.8 L1159.4 318.6 L1157.4 315.8Z M1225.9 295.7 L1229.2 297.9 L1231.2 301.6 L1233.6 301.1 L1234.9 303.9 L1239.1 303.6 L1240.4 303.9 L1238.6 307.6 L1236.6 308.4 L1236.4 310.8 L1232.4 313.6 L1231.2 312.8 L1232.1 310.1 L1228.7 307.9 L1230.7 306.6 L1231.2 303.4 L1229.7 300.9 L1226.7 297.1Z M1225.9 310.8 L1227.2 312.6 L1229.7 312.1 L1229.9 314.1 L1226.7 317.1 L1226.2 319.1 L1222.4 320.3 L1220.9 324.3 L1218.0 326.0 L1215.0 326.0 L1210.5 324.5 L1213.0 321.3 L1215.5 319.6 L1220.4 317.1 L1222.4 314.6 L1224.2 312.1Z M827.0 115.4 L834.7 114.6 L833.7 117.9 L833.2 118.6 L829.5 117.4 L827.0 116.4Z M816.3 107.9 L819.6 107.4 L820.1 111.6 L818.3 112.9 L816.8 112.4Z M817.3 104.2 L819.3 102.9 L819.6 105.4 L818.8 106.9 L817.6 105.9Z M854.4 121.6 L858.1 121.9 L861.4 122.4 L858.1 123.1 L854.7 122.4Z M876.3 122.8 L878.1 122.1 L882.1 121.1 L880.6 122.8 L878.1 123.8Z M801.9 111.4 L803.9 110.6 L804.4 111.6 L803.1 112.1Z M841.2 67.3 L843.2 65.6 L844.0 66.3 L842.0 68.1Z M823.8 71.3 L825.8 70.3 L827.3 71.3 L826.3 72.8 L824.0 72.6Z M820.3 71.8 L822.5 71.8 L822.5 72.8 L820.8 72.8Z M928.6 178.6 L931.6 178.6 L931.1 179.4 L929.1 179.4Z M1159.4 99.2 L1165.7 96.5 L1165.2 97.5 L1159.4 100.4Z M1181.8 84.8 L1184.3 83.5 L1183.8 85.0Z M893.5 224.4 L894.5 225.4 L894.0 226.2Z M903.5 238.6 L904.2 239.4 L903.7 239.9Z M933.6 262.0 L934.8 262.5 L934.1 263.3Z M938.8 259.8 L939.8 260.3 L939.1 261.0Z M1096.1 163.9 L1097.4 163.6 L1100.1 163.9 L1100.4 164.7 L1100.1 166.9 L1100.9 167.4 L1100.7 168.9 L1098.6 170.4 L1098.7 171.9 L1098.2 173.0 L1098.8 173.3 L1099.1 174.6 L1100.2 175.1 L1101.4 174.4 L1102.3 175.3 L1102.9 175.1 L1104.4 175.5 L1104.0 176.9 L1105.0 177.6 L1104.9 178.8 L1104.3 178.0 L1102.9 177.6 L1101.8 176.3 L1100.9 175.4 L1101.2 177.1 L1100.4 176.3 L1099.1 175.4 L1097.8 176.1 L1096.3 175.6 L1096.2 174.6 L1097.1 173.9 L1096.1 174.0 L1095.3 173.0 L1094.5 171.4 L1094.2 169.3 L1095.4 170.0 L1095.6 168.7 L1095.7 166.4Z M1095.4 176.4 L1097.1 176.4 L1098.4 177.4 L1098.4 178.6 L1097.8 179.6 L1096.7 178.4 L1095.7 177.1Z M1099.4 180.2 L1101.2 181.1 L1102.5 181.4 L1102.2 182.6 L1101.2 183.5 L1099.7 184.0 L1099.6 182.6 L1099.9 181.1Z M1101.8 182.7 L1103.5 183.0 L1102.9 184.6 L1102.9 186.6 L1102.7 187.5 L1101.2 186.3 L1100.7 185.6 L1101.8 184.9 L1101.7 183.9Z M1104.8 181.9 L1104.7 182.9 L1103.8 184.9 L1102.9 186.5 L1103.3 185.3 L1103.9 183.9Z M1104.2 185.3 L1105.0 184.7 L1106.2 185.1 L1105.7 186.0 L1104.7 186.1Z M1105.5 181.5 L1106.8 181.7 L1107.3 182.2 L1107.2 183.2 L1107.8 184.5 L1107.2 185.1 L1106.5 184.7 L1106.5 183.4 L1105.7 182.7Z M1105.4 178.9 L1107.5 178.8 L1108.4 179.7 L1108.9 182.4 L1107.2 182.2 L1107.0 180.7 L1105.5 179.4Z M1102.7 178.8 L1104.0 179.6 L1104.8 180.5 L1103.7 180.2Z M1099.8 192.8 L1099.9 191.3 L1100.3 190.6 L1101.3 189.8 L1103.0 188.3 L1104.3 189.7 L1105.3 189.6 L1106.3 188.8 L1106.7 187.7 L1107.6 187.3 L1108.4 187.6 L1108.3 185.7 L1109.8 187.1 L1110.5 189.1 L1110.8 191.1 L1111.1 191.9 L1110.1 194.3 L1109.9 192.9 L1108.9 192.3 L1108.1 193.3 L1108.1 194.3 L1108.9 196.1 L1107.9 196.2 L1107.5 195.4 L1106.2 195.1 L1104.8 194.1 L1104.7 192.6 L1105.2 192.1 L1103.9 191.4 L1103.3 191.7 L1103.2 190.7 L1101.7 191.3 L1101.2 191.2 L1100.6 192.1Z M1087.7 189.2 L1088.2 188.3 L1089.7 186.8 L1091.1 185.3 L1092.2 184.0 L1093.0 182.7 L1093.6 181.6 L1094.0 183.7 L1092.7 185.1 L1091.6 185.8 L1090.6 187.1 L1089.5 188.0 L1088.6 189.0Z M1099.2 193.6 L1100.4 193.2 L1100.2 194.1 L1099.3 193.9Z M1096.8 195.1 L1098.2 194.9 L1097.9 195.4Z M1094.2 197.3 L1095.3 196.7 L1095.4 197.3Z M1096.7 206.6 L1098.4 207.3 L1100.9 207.5 L1102.9 207.6 L1105.4 207.0 L1106.8 206.1 L1107.8 206.1 L1106.9 207.6 L1105.5 209.0 L1103.4 209.3 L1102.3 208.8 L1099.9 208.9 L1097.9 208.8 L1096.2 208.8 L1095.3 209.1 L1094.8 210.2 L1095.1 212.0 L1096.2 213.0 L1096.6 213.5 L1097.7 213.0 L1098.8 212.1 L1100.4 212.0 L1102.2 211.5 L1103.3 212.1 L1103.2 212.5 L1101.8 214.0 L1100.2 214.1 L1099.3 214.7 L1098.4 215.0 L1099.4 216.7 L1100.4 218.0 L1100.8 219.0 L1101.2 219.8 L1101.9 220.7 L1101.9 222.0 L1100.7 221.8 L1099.7 222.1 L1098.6 221.8 L1098.7 220.1 L1098.1 219.8 L1097.2 218.0 L1097.1 216.6 L1095.7 217.3 L1095.2 217.5 L1095.7 219.2 L1095.7 221.5 L1095.8 223.9 L1094.3 224.1 L1093.3 223.7 L1093.2 222.8 L1093.5 221.5 L1093.7 220.0 L1093.0 218.6 L1092.1 218.8 L1091.7 217.1 L1092.0 216.6 L1092.6 215.5 L1093.0 213.2 L1093.1 212.5 L1094.1 211.7 L1094.3 212.2 L1094.5 211.2 L1094.3 210.0 L1094.7 208.6 L1095.3 207.8Z M1113.7 205.3 L1114.5 204.5 L1114.9 206.0 L1114.4 207.1 L1116.4 206.1 L1116.5 207.0 L1115.0 208.1 L1116.2 208.6 L1116.4 209.1 L1115.1 209.3 L1114.5 210.0 L1115.7 211.0 L1115.6 212.1 L1114.4 210.9 L1113.7 209.3 L1113.5 207.8 L1113.1 206.8Z M1114.4 217.7 L1115.9 217.1 L1118.4 217.0 L1120.6 217.5 L1121.7 218.7 L1120.3 219.0 L1118.4 218.6 L1116.9 218.3 L1115.1 219.0 L1114.5 218.7Z M1109.8 217.8 L1111.4 217.6 L1112.6 218.2 L1112.4 219.3 L1110.6 219.6 L1109.6 218.7Z M1057.7 214.9 L1059.2 213.9 L1060.2 214.6 L1061.6 216.2 L1061.7 217.6 L1059.8 217.1 L1059.3 215.9 L1058.1 215.2Z M1037.7 206.5 L1038.4 206.3 L1039.7 207.9 L1039.2 208.6 L1038.3 207.6Z M1034.3 202.9 L1034.9 203.0 L1036.2 204.0 L1035.4 204.0Z M1041.4 212.5 L1042.3 212.4 L1043.2 214.0 L1042.5 214.5 L1041.7 213.5Z M1043.8 215.1 L1044.5 215.7 L1046.0 218.0 L1045.4 218.2 L1044.2 216.2Z M1050.1 223.2 L1050.9 223.4 L1050.5 223.7Z M1063.8 216.5 L1064.9 216.5 L1065.6 217.2 L1064.7 218.1 L1063.8 217.5Z M1055.6 207.0 L1056.4 207.0 L1056.5 207.8 L1055.7 207.8Z M1054.6 207.1 L1055.2 207.1 L1055.1 207.6 L1054.6 207.5Z M1055.9 210.1 L1057.1 210.5 L1056.4 210.9Z M1055.6 211.0 L1056.4 211.1 L1056.1 211.6Z M1064.8 199.5 L1065.7 200.0 L1065.3 200.8 L1064.8 200.4Z M1076.5 227.6 L1078.0 227.2 L1080.0 227.3 L1079.5 227.8 L1077.0 227.9Z M1102.3 221.0 L1102.7 222.4 L1101.8 224.1 L1101.2 223.4 L1101.8 222.0Z M1100.4 221.6 L1101.4 221.7 L1101.4 223.2 L1100.6 223.2Z M1101.8 213.0 L1103.5 213.1 L1102.9 213.9 L1101.9 213.7Z M1105.4 214.1 L1108.4 214.5 L1110.4 214.5 L1109.6 215.0 L1105.7 214.9Z M1112.9 213.5 L1114.6 213.7 L1114.4 214.4 L1113.1 214.2Z M1115.1 204.3 L1116.2 203.8 L1116.1 204.9 L1115.2 204.9Z M1112.9 210.9 L1114.2 211.1 L1113.9 212.1 L1113.0 211.7Z M1114.5 219.1 L1115.5 218.8 L1115.4 219.3Z M1126.6 223.4 L1127.4 223.3 L1127.1 224.8Z M1129.8 224.4 L1131.4 223.7 L1131.7 225.7 L1130.8 227.2 L1129.8 226.2Z M1122.3 229.2 L1123.8 227.8 L1123.7 229.2 L1122.6 230.2Z M1109.3 229.5 L1111.6 229.0 L1111.8 229.5 L1109.6 229.9Z M1105.5 230.4 L1107.4 230.3 L1106.9 230.9 L1105.7 231.0Z M1133.9 211.9 L1135.4 212.7 L1134.5 213.0 L1133.8 212.5Z M1133.2 214.1 L1136.7 214.5 L1135.3 214.7 L1133.3 214.6Z M1120.3 210.2 L1122.8 210.2 L1122.6 211.0 L1120.6 210.9Z M1118.9 214.5 L1120.6 214.6 L1120.3 215.1 L1119.1 215.0Z M1121.1 212.4 L1122.3 212.5 L1122.0 213.5 L1121.2 213.2Z M1138.6 228.9 L1140.3 228.3 L1141.8 229.5 L1141.6 230.8 L1139.3 230.9Z M1108.1 200.8 L1108.6 201.0 L1108.4 201.5Z M1111.4 199.0 L1111.9 199.5 L1111.5 200.0Z M1099.2 161.4 L1099.7 161.7 L1099.3 162.1Z M1104.9 175.1 L1105.7 175.4 L1105.4 176.3 L1104.8 176.1Z M1109.6 185.1 L1110.0 185.6 L1109.6 185.8Z M1108.4 184.1 L1108.8 184.9 L1108.5 185.2Z M1099.7 178.6 L1100.1 179.4 L1099.6 179.6Z M1094.5 179.4 L1095.4 179.7 L1094.7 180.2Z M1093.2 231.2 L1093.6 231.0 L1093.5 231.8Z M1101.9 237.1 L1103.2 236.1 L1102.7 237.0Z M1099.1 236.1 L1099.6 236.1 L1099.3 236.4Z M1102.9 230.7 L1104.4 230.5 L1103.7 231.3Z M967.2 332.0 L969.2 331.5 L971.4 332.5 L970.2 333.8 L967.7 333.5Z"/>
<path fill="#fff" d="M914.2 96.2 L917.9 94.2 L922.9 93.0 L927.9 93.5 L927.9 97.2 L923.6 97.9 L921.1 99.2 L922.9 102.4 L926.6 105.4 L929.1 107.9 L927.9 110.4 L929.1 112.9 L929.9 117.1 L925.4 118.4 L921.1 117.1 L917.9 116.4 L917.7 114.1 L918.7 111.6 L921.1 109.4 L919.2 107.2 L916.7 105.4 L914.2 102.9 L914.2 99.7 L912.4 98.4Z"/>
<path stroke="#f6f6f6" stroke-width="0.65" fill="none" stroke-linejoin="round" stroke-opacity="0.95" d="M489.6 88.0 L558.9 88.0 L559.8 87.2 L560.3 88.7 L566.8 89.7 L573.0 90.5 L575.5 89.7 L584.7 93.2 L585.7 94.2 L588.0 95.5 L590.5 97.2 L590.7 102.9 L589.0 104.9 L590.5 106.2 L599.2 103.4 L599.1 102.2 L600.4 101.4 L605.4 99.9 L609.1 97.9 L617.9 97.9 L619.6 97.2 L620.9 95.0 L623.6 91.8 L625.8 92.1 L627.1 92.8 L627.1 96.2 L628.1 97.5 L629.1 98.2 M444.8 36.7 L444.8 59.9 L449.3 60.4 L453.5 63.1 L456.0 61.8 L458.5 61.1 L462.2 63.3 L463.7 64.6 L467.7 68.8 L472.2 70.6 L472.0 72.6 L470.5 73.8 M504.3 129.1 L510.3 128.6 L519.5 132.1 L526.5 132.1 L526.5 130.8 L530.7 130.8 L534.7 133.8 L535.7 136.3 L538.9 137.8 L540.7 135.8 L543.4 135.8 L546.2 139.5 L548.1 141.5 L549.1 144.3 L553.9 145.5 M566.3 173.9 L566.3 171.9 L567.6 169.9 L570.8 169.9 L570.8 169.2 L568.3 167.2 L569.3 167.0 L569.3 165.7 L573.9 165.7 L576.0 163.9 M573.9 165.7 L573.8 170.4 M576.3 170.9 L573.4 174.1 L571.6 175.8 M573.4 174.1 L575.5 175.4 L577.5 175.4 L577.3 176.6 M578.5 177.6 L580.0 175.6 L582.5 175.4 L584.5 173.1 L588.7 172.7 M582.5 182.4 L585.0 182.5 L587.6 182.9 M589.5 190.0 L590.2 186.2 M601.9 192.1 L603.3 188.5 M617.4 160.9 L617.2 165.1 M618.4 180.5 L615.9 182.4 L614.1 185.6 L614.6 187.3 L615.6 189.1 L615.5 191.6 L616.9 192.6 L621.4 192.6 L623.0 194.8 L627.8 194.6 L627.1 196.8 L627.1 199.3 L628.3 201.5 L627.0 202.9 L628.8 207.0 L629.4 207.0 M629.4 207.0 L628.8 205.6 L626.8 205.6 L622.0 205.8 L622.0 207.3 L623.7 208.4 L621.5 208.6 L621.5 210.5 L623.0 212.5 L621.7 220.5 M621.7 220.5 L619.9 219.5 L621.5 216.7 L614.4 216.1 L612.5 213.2 L608.4 210.4 M608.4 210.4 L605.9 209.0 L603.2 209.0 L599.7 206.4 M608.4 210.4 L607.7 213.9 L605.2 216.5 L600.8 218.5 L599.9 221.5 L597.7 222.4 L595.6 221.1 L596.0 218.5 M646.5 188.8 L643.8 193.3 L643.0 195.2 L644.7 197.1 M644.7 197.1 L641.9 199.7 L639.7 199.9 L636.3 199.8 L635.0 199.7 L636.4 203.8 L638.0 204.6 L632.8 208.4 L629.4 207.0 M644.7 197.1 L646.5 197.6 L647.6 200.2 L646.6 203.5 L647.4 205.6 L649.5 207.0 L655.2 205.1 M653.6 195.2 L653.2 196.7 L651.4 200.0 L655.2 205.1 M661.4 195.7 L660.3 197.6 L661.4 201.0 L659.9 204.1 M655.2 205.1 L656.7 205.4 L659.9 204.1 M659.9 204.1 L664.2 204.5 L667.3 199.9 M621.7 220.5 L614.4 222.9 L611.6 228.4 L614.1 232.7 L616.1 234.9 L620.1 233.9 L620.1 237.4 L622.7 237.3 M622.7 237.3 L624.8 241.1 L624.1 243.9 L624.3 245.6 L623.2 246.9 L623.6 248.1 L621.8 248.1 L624.1 250.3 L622.6 253.1 L622.8 253.6 M622.8 253.6 L620.6 255.7 M622.7 237.3 L624.7 237.4 L633.1 234.2 L633.3 238.6 L635.5 241.0 L639.5 242.4 L644.0 243.6 L645.3 244.4 L646.0 250.5 L650.5 250.6 L650.6 253.0 L652.7 255.3 L651.9 259.7 L651.1 260.2 M651.1 260.2 L648.7 258.2 L642.1 258.9 L639.9 265.4 M639.9 265.4 L635.8 266.9 L633.6 265.0 L630.8 264.3 L628.6 266.8 M628.6 266.8 L626.1 263.5 L625.3 260.0 L624.6 258.3 L622.8 253.6 M628.6 266.8 L628.3 269.8 L625.6 271.0 L625.8 277.0 L622.3 280.7 L621.6 285.7 L620.4 288.4 L621.6 292.7 L622.1 295.4 L620.6 297.9 L619.1 300.9 L618.7 303.6 L619.5 306.1 L617.6 308.6 L617.0 313.6 L617.2 316.8 L616.9 319.8 L618.4 321.6 L617.4 326.0 L615.9 328.0 L615.9 331.3 L612.9 332.8 L613.9 336.2 L615.9 336.1 L615.9 338.7 L616.9 339.5 L621.7 339.5 L625.5 340.4 M625.1 341.1 L625.1 346.7 M639.9 265.4 L644.0 269.3 L646.5 269.9 L649.5 271.8 L652.5 273.7 L650.0 278.0 L655.5 278.4 L656.7 278.1 L659.9 273.7 M651.1 260.2 L651.9 265.0 L656.5 265.5 L657.5 269.5 L660.8 269.9 L659.9 273.7 M659.9 273.7 L662.3 275.2 L661.9 277.6 L657.2 280.7 L652.5 285.2 M652.5 285.2 L656.5 286.7 L657.5 286.8 L661.9 289.8 L663.4 291.4 L662.9 294.0 M652.5 285.2 L651.0 290.9 L650.5 294.4 M790.4 122.6 L791.7 126.1 L792.9 129.8 L786.9 132.3 L786.8 133.1 L783.0 135.5 L774.3 138.5 L774.3 141.1 M763.0 141.1 L774.3 141.1 M774.3 142.0 L774.3 145.3 L766.0 145.3 L766.0 151.6 L763.5 152.7 L763.3 156.9 L753.6 156.9 M774.3 142.0 L783.9 147.8 L798.8 157.5 L803.9 160.7 L804.1 162.3 L806.5 162.3 M806.5 162.3 L810.2 161.6 L814.5 158.1 L825.7 151.5 M825.7 151.5 L820.7 149.0 L820.8 144.0 L820.4 140.3 L819.7 134.8 M819.7 134.8 L818.4 130.1 L816.6 129.1 L814.6 125.8 L816.3 123.7 L816.7 119.2 L817.3 118.0 M819.7 134.8 L821.5 133.1 L821.5 131.1 L824.5 129.3 L824.7 127.5 M858.5 131.2 L857.4 134.9 L858.1 137.2 L858.1 155.2 M858.1 155.2 L858.1 160.2 L855.7 160.2 L855.7 161.4 M855.7 161.4 L835.7 151.6 L833.2 152.7 L831.3 153.7 L825.7 151.5 M858.1 155.2 L887.8 155.2 M783.9 147.8 L779.5 147.8 L781.1 160.2 L782.0 168.9 L782.6 169.4 L782.2 171.4 L772.6 171.4 L769.3 171.7 L767.3 171.2 L765.5 173.3 M765.5 173.3 L762.3 169.9 L759.8 168.5 L755.3 168.9 L754.8 170.0 M765.5 173.3 L766.0 176.4 L767.5 179.1 M767.5 179.1 L761.8 178.5 L754.3 179.2 M754.1 176.1 L758.5 175.6 L761.5 176.6 L758.5 176.9 L754.2 177.4 M761.8 178.5 L761.8 180.9 L758.5 182.6 M767.5 179.1 L773.5 179.1 L775.2 182.6 L776.0 184.6 M762.8 187.5 L767.3 185.1 L769.5 187.5 L770.3 188.8 M770.3 188.8 L772.5 191.6 L774.7 191.1 M770.3 188.8 L767.3 192.7 M774.7 191.1 L776.7 189.1 L776.0 184.6 M774.7 191.1 L777.2 195.6 L777.1 199.2 M776.0 184.6 L780.5 183.4 L782.2 184.0 M782.2 184.0 L782.2 181.6 L784.9 179.9 L785.9 176.6 L788.4 175.9 L790.9 174.6 L794.0 172.5 L796.5 172.7 M796.5 172.7 L804.6 171.8 L806.4 167.9 L806.5 162.3 M782.2 184.0 L784.4 185.8 L789.2 186.3 M789.2 186.3 L789.7 189.6 L787.9 193.1 L789.1 196.1 L788.2 197.3 M789.2 186.3 L788.8 182.6 L795.9 182.4 M795.9 182.4 L796.9 184.4 L797.4 189.3 L797.1 192.8 L798.9 194.8 M795.9 182.4 L798.1 182.6 L799.4 186.8 L799.9 192.8 L800.0 194.4 M798.1 182.6 L801.9 180.4 M801.9 180.4 L801.1 178.4 L798.4 176.6 L796.5 172.7 M802.6 194.2 L802.7 190.6 L804.9 184.6 L804.9 180.9 M801.9 180.4 L804.9 180.9 M804.9 180.9 L806.1 176.4 L812.8 177.4 L817.6 177.9 L822.5 176.8 L827.0 177.4 L829.8 175.9 M829.8 175.9 L829.3 174.1 L834.5 167.9 L834.6 160.2 L833.2 152.7 M817.1 198.3 L818.3 195.3 L820.3 193.1 L823.5 193.8 L825.3 192.3 L827.8 188.3 L830.3 182.6 L832.3 181.4 L831.0 178.9 L831.0 177.6 M831.0 177.6 L833.0 179.6 L833.2 182.6 L834.5 185.1 L830.8 185.3 L833.7 191.3 L834.5 191.3 M829.8 175.9 L831.0 177.6 M834.5 191.3 L842.2 190.1 L843.2 187.6 L848.2 185.6 L852.9 182.6 M855.7 161.4 L855.7 170.9 L852.9 171.4 L850.7 177.6 L852.9 182.6 M834.5 191.3 L831.8 195.1 L832.3 197.6 L836.2 204.5 M836.2 204.5 L829.0 204.5 L824.0 204.5 L820.3 204.3 M820.3 207.5 L824.0 207.5 L824.0 204.5 M829.0 204.5 L828.8 206.8 L832.0 211.2 L831.8 214.7 L828.3 216.0 L827.0 218.5 L823.5 219.8 M836.2 204.5 L842.2 201.3 M842.2 201.3 L841.0 204.5 L840.0 211.2 L836.2 215.5 L835.5 220.0 L833.7 220.7 L831.8 222.2 L828.5 221.5 L826.3 224.4 M842.2 201.3 L842.2 199.0 L844.5 197.3 L851.9 199.8 L856.9 197.3 L864.1 197.3 M852.9 182.6 L854.9 188.3 L856.2 188.3 M856.2 188.3 L858.9 191.8 L864.1 197.3 M856.2 188.3 L858.1 184.4 L865.6 186.6 L870.6 184.4 L875.6 180.1 L878.6 179.6 L878.1 185.1 L880.8 186.3 M880.8 186.3 L880.6 188.8 L878.1 190.6 L883.8 196.6 L885.4 198.5 M880.8 186.3 L881.3 183.6 L883.0 180.6 L885.8 178.4 L886.8 174.4 M886.8 174.4 L888.0 167.7 L892.0 165.2 M886.8 174.4 L890.5 173.4 L895.5 173.9 L899.2 176.4 L901.5 178.9 M901.5 178.9 L900.0 182.6 L903.0 182.6 L903.6 181.4 M903.0 182.6 L905.5 187.6 L912.9 190.1 L915.4 190.1 L908.0 197.6 L900.5 199.5 L900.2 200.2 M900.2 200.2 L894.3 201.5 L890.8 201.0 L885.5 198.9 L885.4 198.5 M900.2 200.2 L898.0 203.0 L898.0 212.2 L899.4 214.1 M885.4 198.5 L880.4 199.5 M880.4 199.5 L881.8 202.5 L883.0 205.8 L880.6 209.5 L880.3 212.5 M880.3 212.5 L889.8 217.6 L889.5 218.7 L893.5 221.6 M872.7 201.3 L875.6 201.0 L880.4 199.5 M872.7 201.3 L868.1 199.0 L864.1 197.3 M872.7 201.3 L873.8 204.6 L870.6 207.0 L869.9 210.2 L869.6 213.5 L868.1 216.7 L868.6 217.5 L869.1 221.1 M869.6 213.5 L871.8 212.6 L880.3 212.5 M871.8 212.6 L872.6 215.9 L871.6 217.1 L872.6 218.2 L870.6 220.7 L869.1 221.1 M868.1 216.7 L871.6 217.1 M869.1 221.1 L869.6 226.2 L872.5 230.4 M872.5 230.4 L873.1 231.4 L877.9 233.4 M877.9 233.4 L880.6 233.7 L882.9 238.8 M882.9 238.8 L889.3 239.1 L896.6 236.1 M872.5 230.4 L867.9 231.2 L866.6 233.2 L867.1 236.1 L866.5 239.6 L868.1 240.9 L870.1 240.3 L870.1 243.5 L867.4 242.4 L863.6 238.9 L856.7 238.4 L855.7 237.1 M855.7 237.1 L851.2 237.9 L851.4 236.1 L850.2 228.2 L844.5 227.4 L843.2 229.9 L839.7 230.2 L837.2 224.7 L828.3 224.7 L826.5 225.2 M855.7 237.1 L855.7 242.4 L850.7 242.4 L850.6 250.3 L853.9 253.8 M825.2 253.0 L829.5 252.3 L831.3 253.3 L842.0 253.3 L849.2 254.8 L853.9 253.8 L858.8 254.3 M848.2 255.6 L848.2 264.8 L845.7 264.8 L845.7 271.6 M845.7 271.6 L845.7 280.7 L839.2 281.5 L836.9 281.2 M845.7 271.6 L847.7 276.7 L852.2 275.0 L853.2 273.0 L859.4 274.0 L862.9 269.0 L869.0 265.3 M869.0 265.3 L864.9 261.0 L861.1 257.3 L858.8 254.3 M858.8 254.3 L863.1 254.7 L867.9 249.8 L871.6 249.0 M871.6 249.0 L871.1 247.2 L878.6 244.9 M878.6 244.9 L877.8 243.6 L878.1 241.1 L878.8 237.4 L878.1 233.9 L877.9 233.4 M871.6 249.0 L877.8 251.6 L877.8 256.1 L877.3 261.0 L873.8 265.8 M869.0 265.3 L873.8 265.8 M873.8 265.8 L875.6 271.0 L875.5 274.6 L875.8 276.9 L877.8 276.9 M882.9 238.8 L881.8 245.9 L885.0 249.8 L883.8 252.6 L881.3 250.6 L881.3 245.9 L878.6 244.9 M863.1 283.7 L865.6 281.5 L867.9 281.2 L869.1 283.2 L868.4 284.7 L866.1 286.2 L864.1 285.4 L863.1 283.7 M872.6 276.7 L874.1 274.1 L875.6 274.7 L875.8 276.9 L873.8 278.0 L872.6 276.7 M918.4 94.6 L916.7 91.7 L912.9 90.5 L911.7 89.5 L913.7 84.8 L917.2 85.5 L922.4 81.3 L929.1 82.5 L932.9 84.0 L939.1 83.0 L944.3 84.0 L949.0 82.5 L945.3 80.5 L947.8 76.5 L952.8 75.3 L958.2 74.8 L967.7 72.3 L972.7 75.0 L978.9 76.8 L986.4 75.5 L989.9 77.3 L995.1 83.5 L1003.6 83.0 L1008.8 86.5 L1013.3 87.5 M1013.3 87.5 L1018.8 85.7 L1025.0 83.5 L1031.2 85.5 L1039.9 85.5 L1040.7 80.5 L1050.4 82.3 L1050.6 84.0 L1061.6 84.8 L1066.1 87.2 L1077.3 86.5 L1086.5 85.9 M1086.5 85.9 L1089.2 86.7 L1094.0 80.3 L1096.4 78.0 L1103.4 76.8 L1109.6 79.0 L1113.4 85.5 L1121.1 88.2 L1122.1 91.2 L1131.3 89.5 L1127.6 97.7 L1122.6 98.2 L1122.6 101.9 L1121.1 104.4 M1013.3 87.5 L1015.0 89.0 L1022.2 93.2 L1022.5 97.5 L1033.4 99.7 L1035.9 103.7 L1044.9 103.9 L1057.3 106.4 L1068.6 104.2 L1074.5 101.2 L1073.3 99.4 L1078.8 98.4 L1084.7 96.2 L1083.5 93.2 L1094.2 93.7 L1089.2 91.2 L1083.5 90.7 L1086.5 85.9 M1013.3 87.5 L1009.5 89.5 L1009.3 93.0 L1002.6 92.5 L1000.8 96.7 L995.1 97.9 L997.1 102.4 L995.6 104.9 M995.6 104.9 L992.6 103.4 L984.4 103.4 L978.9 102.9 L972.7 104.2 L971.2 105.2 L965.2 108.7 L961.5 107.7 L960.2 102.9 L947.8 99.4 L941.8 96.7 L935.3 97.9 L935.3 107.2 M935.3 107.2 L930.4 104.7 L926.6 106.0 M935.3 107.2 L938.1 107.2 L941.8 103.4 L945.3 104.9 L950.0 107.7 L951.3 110.4 L956.3 113.0 L961.6 116.9 M930.1 117.0 L934.1 115.4 L938.3 114.8 L943.6 116.6 L948.3 118.9 L948.3 121.4 M948.3 121.4 L952.8 121.9 L956.5 119.6 L961.6 116.9 M961.6 116.9 L965.2 117.9 L969.0 116.4 L970.9 114.9 L973.9 115.6 L974.2 118.6 L978.4 116.7 L982.4 117.2 M971.2 105.2 L972.7 107.4 L977.7 108.4 L971.7 109.9 L971.2 111.4 L979.4 111.9 M965.2 108.7 L966.7 111.4 L963.7 112.1 L966.2 114.9 L965.2 117.9 M948.3 121.4 L946.5 125.3 L947.5 130.3 L949.5 131.8 L947.5 135.6 M947.5 135.6 L951.5 136.8 L961.0 135.5 L961.2 133.1 L964.7 131.8 L968.5 130.6 L969.0 127.8 L970.9 126.8 L972.9 124.6 L974.2 120.4 L977.7 118.2 L982.4 117.2 M947.5 135.6 L949.8 138.8 L953.3 142.3 L949.3 147.3 M965.7 151.0 L970.7 149.5 L972.7 149.2 L971.4 146.0 L969.0 142.8 L971.2 140.3 L977.7 135.5 L981.4 132.8 L981.7 129.1 L983.6 129.6 L980.2 127.8 L980.2 123.6 L989.6 121.6 M989.6 121.6 L992.6 124.6 L991.9 128.8 L992.6 132.3 L997.6 134.8 L1005.1 138.0 L1010.0 140.3 L1015.3 140.5 L1017.3 142.0 L1019.3 139.8 L1024.2 140.8 L1025.2 140.8 L1030.0 137.8 L1034.9 136.8 L1038.3 139.7 M997.6 134.8 L995.3 138.3 L1000.1 140.5 L1005.1 141.8 L1009.5 143.8 L1015.3 144.3 L1015.3 140.5 M1017.3 142.0 L1019.5 143.5 L1025.0 143.1 L1024.2 140.8 M1017.6 155.2 L1017.0 149.5 L1015.3 148.5 L1016.0 144.0 L1019.5 145.3 L1019.5 147.0 L1026.0 147.8 L1023.0 150.0 L1023.0 151.5 L1024.0 153.0 L1025.7 151.0 L1026.5 155.2 M995.6 104.9 L987.4 107.9 L979.7 110.6 L979.4 111.9 L982.4 114.1 L982.4 117.2 L984.9 118.9 L989.6 121.6 M1105.7 110.6 L1109.6 107.9 L1112.1 106.2 L1114.9 106.9 L1115.4 105.4 L1118.9 104.3 L1121.1 104.4 M1109.9 116.0 L1112.1 114.6 L1115.5 113.9 M916.7 135.4 L914.7 132.8 L915.0 130.8 L910.7 127.8 L908.9 125.3 L910.9 122.6 L908.9 120.4 L907.5 117.5 M907.5 117.5 L907.0 114.4 L905.6 111.9 L907.5 111.1 M907.5 117.5 L901.4 117.6 L897.5 117.6 L891.8 118.2 L887.2 118.4 L885.9 120.6 M901.4 117.6 L898.5 119.4 L898.0 124.3 L892.5 126.8 M892.5 126.8 L893.5 129.9 L888.0 131.6 L890.5 134.1 L889.3 135.3 L885.8 137.3 L883.0 136.9 M893.5 129.9 L896.5 130.6 L900.7 132.6 L907.2 137.3 L911.8 137.5 L914.1 137.8 L914.7 139.0 L916.4 138.9 M911.8 137.5 L914.7 135.1 L915.4 135.3 M881.2 132.3 L882.8 136.5 M883.0 136.5 L884.3 131.6 L884.5 128.6 L883.3 127.6 M884.5 128.6 L887.5 129.6 L892.5 126.8 M883.3 127.6 L884.5 127.1 L887.0 124.8 L885.5 123.7 M902.5 169.2 L903.5 166.7 L906.0 166.7 L912.2 167.0 L914.2 167.4 L915.9 164.7 L918.2 163.7 L925.4 162.7 M925.4 162.7 L932.9 160.2 L934.5 155.2 L933.3 153.5 M933.3 153.5 L926.9 152.9 L924.4 150.0 M933.3 153.5 L934.8 149.7 L935.5 148.0 L936.2 146.3 M925.4 162.7 L928.1 168.5 M922.9 148.7 L923.4 148.7 M895.5 101.9 L901.7 102.4 L906.7 103.7 L911.4 105.7 M911.4 105.7 L914.9 107.4 L916.9 105.8 M899.4 106.6 L902.5 106.5 L904.1 107.7 M904.1 107.7 L908.0 107.3 L911.4 105.7 M904.1 107.7 L904.7 110.2 L907.5 111.1 M907.5 111.1 L911.7 113.1 L915.4 111.3 L917.7 114.3 M908.0 107.3 L909.4 108.4 L910.4 111.1 L911.7 113.1 M1147.0 216.5 L1147.0 232.7 M1104.8 233.3 L1105.8 232.9 L1107.0 232.5 L1107.4 233.4 M773.8 105.7 L775.5 105.2 L775.9 105.9 L779.5 105.5 L780.5 106.4 L778.7 107.9 L779.0 109.7 L778.5 111.1 L777.2 111.3 L778.5 112.6 L777.7 114.3 L778.5 114.9 L777.2 116.5 L777.5 117.4 M791.4 102.0 L792.4 102.8 L794.0 103.1 L795.9 103.7 L797.6 103.3 L799.5 103.9 L800.3 104.2 L802.1 104.5 L803.9 104.3 M814.7 101.0 L815.1 100.2 L813.2 99.4 L813.3 97.9 L812.5 97.7 L813.6 96.8 L812.8 96.0 L813.5 95.7 M813.5 95.7 L812.8 94.5 L811.5 94.7 L810.8 95.0 L811.1 94.1 L812.0 93.6 L813.3 92.2 L814.8 91.5 M814.8 91.5 L814.7 90.2 L815.3 89.1 L816.3 88.1 L814.3 87.6 L812.7 87.6 L811.8 86.8 M811.8 86.8 L810.3 86.6 L809.5 86.7 L808.0 86.0 L808.0 85.1 L806.2 85.5 L806.4 84.9 L805.0 84.8 L804.0 83.8 L803.1 83.8 L802.2 82.8 M804.3 82.1 L805.6 82.5 L806.5 82.1 L807.9 81.8 L808.5 81.8 L810.5 82.6 L810.0 83.5 L810.9 83.6 M810.9 83.6 L811.6 84.3 L811.2 85.2 L811.5 85.9 L812.1 86.1 L811.8 86.8 M811.2 85.2 L810.2 85.9 L810.3 86.6 M810.9 83.6 L811.1 82.5 L811.3 82.0 L810.8 80.9 L812.7 80.8 L813.5 79.9 L812.6 79.3 L813.5 78.9 L813.8 77.5 L813.8 77.3 M817.4 73.3 L819.4 73.5 M831.4 75.7 L831.8 77.3 L831.1 78.4 L832.4 79.2 L832.6 80.4 L832.3 81.0 L833.1 82.3 L833.2 83.3 L832.8 83.3 M832.8 83.3 L831.5 83.0 L828.8 84.1 L826.7 84.9 L826.0 84.8 L827.0 85.7 L827.1 86.2 L828.3 87.2 L830.4 88.6 M830.4 88.6 L829.4 89.1 L827.6 90.2 L828.3 90.9 L828.4 91.5 L826.3 91.5 L823.3 92.0 L821.9 91.6 L821.3 92.2 L819.8 91.6 M819.8 91.6 L817.3 91.2 L816.8 91.5 L814.8 91.5 M819.8 91.6 L819.7 92.7 L821.9 93.2 L822.0 93.3 M813.5 95.7 L815.4 95.6 L816.2 94.7 L816.9 94.3 L817.7 95.2 L818.3 95.9 L819.1 94.2 L820.9 94.8 L821.9 94.1 L822.0 93.3 M822.0 93.3 L823.3 93.5 L823.8 93.0 L824.5 93.0 L826.3 92.8 L826.8 93.7 L830.0 94.2 M830.0 94.2 L829.3 95.0 L829.8 95.6 L829.8 96.0 L830.5 96.5 L830.1 96.5 M830.0 94.2 L832.1 94.5 L833.2 93.9 L834.9 93.7 L836.0 93.3 M836.0 93.3 L837.0 93.0 L836.9 92.0 L837.5 91.2 L838.5 91.2 L838.6 90.5 M838.6 90.5 L838.1 88.9 M838.1 88.9 L836.0 88.6 L833.2 88.0 L832.5 89.0 L830.4 88.6 M832.8 83.3 L834.0 83.4 L836.6 83.9 L836.2 84.5 L837.5 85.3 L838.0 84.4 L840.0 84.8 L839.8 85.3 L840.7 85.5 L842.2 85.7 L842.8 86.7 M842.8 86.7 L841.0 87.9 L838.7 88.3 L838.1 88.9 M842.8 86.7 L844.3 86.5 L845.2 87.5 L845.9 87.5 L847.2 87.0 L848.4 86.9 L850.7 87.5 L852.0 87.8 M852.0 87.8 L852.4 86.7 L854.4 85.0 L855.7 84.0 L855.9 83.4 L854.7 81.8 M854.7 81.8 L854.8 80.3 L853.7 79.9 L855.4 78.8 L855.5 78.0 L854.4 75.7 M854.4 75.7 L852.7 74.6 M854.4 75.7 L856.7 75.8 L859.4 74.8 L860.1 73.4 L862.6 72.4 L862.1 71.4 M848.3 70.4 L850.9 69.6 L855.7 69.8 L857.9 69.4 L860.6 70.7 L862.1 71.4 M862.1 71.4 L864.6 71.1 L866.0 70.2 M856.5 65.9 L858.9 65.5 L861.9 66.7 L864.0 66.8 M854.7 81.8 L856.9 80.8 L860.1 80.8 L863.6 81.5 L867.6 81.8 L872.0 82.3 L873.0 80.4 L875.0 80.3 M838.6 90.5 L840.2 91.1 L842.7 91.0 L843.2 90.4 L845.5 90.1 L846.9 89.2 L849.2 89.1 L851.1 89.5 M851.1 89.5 L852.0 87.8 M851.1 89.5 L852.9 90.5 M852.9 90.5 L854.4 90.6 L857.9 91.2 L858.9 90.7 L861.1 90.5 L862.3 89.9 M862.3 89.9 L863.6 91.0 L865.1 92.6 L865.9 94.5 L866.1 96.8 M862.3 89.9 L864.4 89.4 L866.6 90.1 L868.5 90.6 L868.6 91.8 L870.5 93.5 L870.8 94.5 L868.0 95.5 L866.9 96.7 L866.1 96.8 L869.7 97.1 M852.9 90.5 L850.7 92.0 L848.9 94.0 L848.6 94.7 L846.3 95.2 M846.3 95.2 L844.6 95.1 L842.8 95.7 M842.8 95.7 L839.8 95.8 L839.1 95.6 L837.0 94.2 L836.6 94.1 L836.0 93.3 M829.8 96.8 L830.8 96.7 L832.3 96.3 L834.0 96.8 L834.9 95.8 L835.0 95.0 L836.6 94.1 M835.1 97.6 L835.1 98.4 L836.1 99.9 L838.2 101.6 L839.8 102.9 L841.8 104.1 L842.1 104.3 M835.1 97.6 L836.5 97.9 L838.0 97.3 L840.3 97.8 L842.2 97.7 L843.3 98.3 M843.3 98.3 L843.2 97.0 L844.2 97.5 L842.8 95.7 M843.3 98.3 L844.1 99.7 L843.5 99.7 L844.7 100.6 L843.8 101.7 M843.8 101.7 L842.5 102.3 L841.8 104.1 M843.8 101.7 L846.6 103.3 L845.8 104.1 L844.7 104.1 L844.2 105.2 L844.1 105.8 M846.3 95.2 L848.9 97.5 L849.4 98.3 L851.1 99.2 L852.3 99.9 M852.3 99.9 L851.7 100.9 L853.2 102.4 L851.8 104.4 L851.6 104.7 M852.3 99.9 L853.0 100.8 L856.9 101.1 L859.1 101.3 L860.9 100.6 L863.1 100.1 L867.1 101.1 M851.6 104.7 L849.6 104.8 L847.2 105.7 L847.2 105.7 M845.8 104.1 L846.9 104.9 L847.2 105.7 M847.2 105.7 L846.9 107.2 L847.6 108.2 L848.1 108.3 M848.1 108.3 L847.3 110.2 L845.7 111.1 M848.1 108.3 L850.2 108.0 L852.4 107.5 L853.0 107.1 M853.0 107.1 L852.8 105.5 L851.6 104.7 M853.0 107.1 L855.7 106.7 L858.6 107.3 L860.9 107.0 L861.5 106.2 M823.7 63.1 L825.3 62.3 L825.5 61.1 L827.0 60.1 L826.5 58.1 L827.9 57.2 L826.2 56.4 L826.5 55.0 L826.0 53.1 L826.2 51.6 L830.6 50.5 L831.0 49.5 L829.9 49.1 L832.0 47.4 L832.3 45.3 L834.4 44.9 L836.7 42.7 L836.0 41.9 L839.0 40.4 L841.1 39.3 L845.6 39.8 L846.2 38.1 L847.1 38.0 M847.1 38.0 L849.7 38.9 L854.8 40.8 L854.2 42.0 L855.0 43.7 L855.7 45.7 L856.0 46.2 M847.1 38.0 L848.9 37.4 L851.6 38.6 L853.7 39.1 L857.9 39.2 L860.0 37.7 L860.6 36.4 L863.1 35.8 L865.4 35.5 L866.9 36.2 L868.9 36.9 L867.9 38.1 M777.8 72.9 L777.1 73.7 L775.6 74.4 L777.7 75.2 L779.3 75.4 L780.3 75.3 M865.7 61.9 L866.1 62.2 L865.4 62.4 L864.9 63.1 L864.2 63.6 L864.3 64.3 L864.5 65.2 L864.6 65.8 L864.0 66.8 L865.2 67.3 L864.9 68.4 L866.1 69.6 L866.0 70.2 L867.6 70.6 L869.1 70.7 L871.2 70.9 L872.8 71.6 L872.6 73.0 L873.1 73.8 L873.8 74.9 L875.1 76.0 L876.8 76.4 L877.3 76.9 L875.8 77.8 L874.1 77.5 L875.0 80.3 L876.6 79.8 L880.1 79.6 L881.6 81.0 L881.1 82.4 L883.3 82.5 L884.0 84.0 L886.3 84.8 L889.3 84.5 L890.5 85.7 L892.8 85.5 L895.7 86.5 L894.8 87.9 L895.5 88.5 L895.0 90.5 L892.8 90.9 L891.1 91.6 L891.0 92.7 M865.1 59.2 L868.6 57.5 L870.6 56.0 L873.6 54.4 L874.5 53.4 L873.6 52.6 L870.6 51.3 L872.0 50.4 L870.5 49.1 L869.9 48.6 L869.7 46.7 L870.8 46.4 L869.6 45.2 L868.1 43.4 L870.5 41.9 L868.1 40.7 L866.9 40.2 L866.7 39.3 L867.6 38.6 L867.9 38.1 L869.0 37.1 L871.0 36.7 L872.8 36.8 L872.7 36.2 M844.8 74.4 L845.2 74.5 L846.9 74.6 L849.4 74.7 L852.7 74.6 L852.4 73.8 L852.8 73.3 L852.2 72.9 L850.7 72.9 L849.2 72.4 L848.4 72.3 M865.7 105.5 L864.1 105.3 L863.0 105.4 L862.0 105.7 L861.5 106.2 L862.1 107.0 L861.4 108.0 L860.8 108.6 M1041.3 185.1 L1041.9 183.6 L1042.9 181.4 L1043.9 180.6 L1042.8 177.1 L1041.4 174.1 L1040.4 172.2 L1041.3 171.7 L1041.4 169.9 L1042.2 169.2 L1041.2 168.0 L1039.4 166.2 L1039.2 164.7 L1038.3 163.8 L1039.4 163.7 L1039.3 161.7 L1040.2 160.7 L1042.4 160.7 L1043.7 159.3 L1045.1 159.3 M1045.1 159.3 L1046.4 158.2 L1047.8 156.3 M1045.1 159.3 L1046.3 159.8 L1045.9 160.9 L1048.0 161.3 L1048.0 163.9 L1047.5 165.4 L1048.8 165.7 L1050.1 164.7 L1051.6 165.6 L1053.4 164.2 L1054.9 164.4 L1056.7 166.4 L1056.7 168.9 L1057.5 169.9 L1058.6 170.8 L1058.8 171.9 L1058.6 173.8 L1057.8 174.3 M1057.8 174.3 L1054.9 174.3 L1052.9 174.4 L1052.2 174.6 L1051.2 176.1 L1050.8 176.3 L1051.7 179.0 L1051.6 179.7 L1052.1 180.7 M1057.8 174.3 L1059.6 175.1 L1060.1 174.3 L1061.2 173.6 L1063.7 173.4 M1050.2 154.2 L1051.4 156.0 L1052.2 155.8 L1052.7 158.1 L1056.4 158.6 L1055.9 159.3 L1057.2 160.0 L1054.6 161.8 L1057.8 163.6 L1057.6 164.6 L1058.8 166.1 L1061.0 167.8 L1061.2 168.7 L1063.5 170.0 L1062.8 170.5 L1063.9 172.4 L1063.7 173.4 M1063.7 173.4 L1063.3 175.1 L1063.8 176.4 L1063.8 179.4 L1061.0 180.9 L1059.5 181.2 L1060.3 183.1 L1057.6 182.7 L1056.1 184.1 M1045.3 193.9 L1045.6 193.3 L1047.0 194.4 L1047.6 195.9 L1048.9 195.3 L1050.1 194.4 M1068.8 205.0 L1068.9 206.0 L1071.3 207.9 L1074.3 207.5 L1075.3 206.4 L1079.0 206.9 L1081.3 206.4 L1082.2 204.0 L1084.0 202.5 L1083.7 199.5 L1086.0 199.2 L1088.7 199.5 M1080.0 198.5 L1081.5 200.0 L1082.2 199.2 L1083.1 199.3 L1082.6 197.8 M1025.9 158.5 L1025.7 157.6 L1026.5 157.0 L1026.5 155.2 L1027.7 154.7 L1028.0 152.7 L1028.5 151.0 L1028.3 150.1 L1030.3 150.6 L1031.7 147.4 L1031.5 146.8 L1032.8 145.3 L1032.9 143.6 L1035.4 142.1 L1037.4 142.5 L1037.2 141.3 L1038.3 139.7 L1038.8 138.9 L1040.3 139.9 L1040.2 141.3 L1041.7 141.4 L1041.7 144.8 L1041.8 145.5 L1040.4 146.4 L1038.8 148.4 L1038.8 150.4 L1041.7 150.0 L1042.2 152.2 L1043.7 152.9 L1042.9 154.8 L1044.9 156.0 L1045.4 156.6 L1047.8 156.3 L1049.3 157.2 L1049.5 156.2 L1048.8 154.7 L1049.6 154.1 L1050.2 154.2 L1051.1 153.4 L1052.5 154.1 L1053.2 153.2 L1054.7 154.0 L1055.9 153.5 L1056.9 153.0 L1058.2 151.9 L1059.5 152.9 L1061.2 153.0 L1061.6 153.7 L1061.2 154.3 L1061.7 155.6 L1063.2 156.2 L1064.9 156.3"/>
</g>
<g id="europe">
<path fill="#d9d9d9" d="M157.1 699.8 L159.0 691.1 L156.3 686.1 L157.9 684.2 L154.2 682.7 L155.3 676.8 L159.6 669.0 L162.0 659.3 L160.8 652.3 L161.0 647.2 L158.6 642.4 L159.7 639.5 L166.0 636.2 L170.5 633.8 L175.3 636.2 L183.6 635.2 L193.2 637.6 L198.2 636.8 L203.9 637.6 L212.5 637.8 L214.7 636.2 L216.6 626.1 L217.4 617.6 L217.4 611.5 L213.0 608.2 L210.3 602.1 L208.3 600.7 L204.2 598.4 L195.8 596.1 L193.1 593.3 L193.1 590.5 L195.0 588.2 L201.8 586.8 L205.2 586.8 L207.2 589.1 L211.9 588.2 L215.0 588.2 L214.7 583.1 L212.5 578.4 L217.1 578.6 L218.1 581.5 L224.1 582.2 L226.1 580.4 L226.8 578.4 L232.8 576.3 L235.7 574.0 L236.0 569.0 L237.6 567.2 L242.1 565.8 L247.0 563.5 L249.5 561.3 L251.3 558.1 L254.7 553.6 L255.7 549.2 L260.0 546.5 L263.4 544.7 L269.1 544.7 L270.3 543.4 L275.9 542.3 L277.9 544.3 L279.2 540.7 L282.0 540.7 L280.7 537.2 L279.1 536.3 L280.6 532.8 L278.9 531.0 L278.2 527.1 L275.1 526.2 L274.6 518.0 L274.7 516.2 L276.8 512.8 L282.6 511.5 L284.3 508.7 L288.0 507.4 L288.0 509.8 L287.1 514.1 L287.1 517.1 L291.2 518.4 L287.9 521.0 L286.5 524.9 L285.2 526.6 L284.6 529.3 L284.0 532.3 L287.5 533.6 L288.8 536.7 L293.8 536.5 L295.1 539.8 L297.6 539.8 L301.2 538.2 L303.3 535.8 L306.5 536.3 L308.7 534.1 L311.3 537.2 L315.0 540.5 L318.3 539.4 L322.8 538.2 L326.6 537.2 L330.5 534.5 L338.8 532.5 L341.9 534.1 L341.8 536.3 L346.5 536.7 L347.9 535.8 L348.9 536.1 L353.3 536.5 L359.7 536.9 L367.7 536.6 L366.4 533.6 L366.9 531.9 L365.0 530.6 L361.2 530.4 L357.1 528.8 L355.2 528.4 L354.4 524.9 L353.3 521.7 L352.1 518.0 L351.3 513.6 L352.5 510.2 L354.1 508.5 L358.8 507.2 L362.7 510.6 L366.5 513.6 L369.4 513.2 L370.7 511.5 L368.8 506.2 L368.5 502.1 L363.8 502.1 L362.0 500.0 L361.2 497.0 L360.0 494.9 L362.9 493.2 L367.1 492.8 L371.5 491.6 L377.4 492.0 L385.1 492.8 L385.9 492.7 L387.0 493.5 L385.6 494.2 L385.4 496.6 L384.3 498.3 L385.3 500.8 L386.9 503.8 L387.9 505.9 L387.5 509.1 L391.1 511.1 L391.5 514.9 L395.8 518.8 L396.2 521.0 L400.5 522.3 L404.3 522.7 L409.8 523.6 L414.5 525.8 L415.7 531.0 L417.9 533.6 L421.1 537.6 L425.6 541.6 L430.5 542.9 L432.4 544.7 L429.6 547.8 L424.9 546.9 L430.5 556.8 L433.9 555.0 L442.8 554.5 L448.4 559.5 L448.8 564.4 L454.8 564.9 L458.6 570.3 L465.5 573.1 L473.1 572.2 L478.1 576.7 L483.8 575.8 L493.1 579.5 L492.3 584.5 L495.2 586.8 L496.5 594.2 L490.9 595.6 L487.4 598.4 L488.4 602.6 L483.7 602.8 L479.8 605.9 L473.9 606.8 L470.6 609.6 L467.6 611.3 L474.2 619.5 L482.4 618.6 L482.0 621.9 L475.1 622.4 L469.2 626.6 L465.0 628.0 L462.0 626.1 L462.4 622.4 L453.7 619.0 L456.1 614.8 L459.5 612.0 L450.4 612.0 L443.6 607.3 L438.6 608.2 L436.4 614.3 L433.7 619.0 L434.5 623.8 L429.7 629.0 L429.7 634.3 L430.6 637.6 L426.0 639.5 L427.0 644.3 L424.5 646.2 L429.4 651.2 L424.7 650.6 L421.5 651.0 L418.8 652.0 L417.7 653.9 L420.2 657.3 L418.7 661.2 L417.3 663.3 L416.0 662.2 L409.9 661.2 L404.8 661.4 L401.4 663.1 L400.5 664.1 L402.7 666.5 L406.1 669.2 L402.4 667.0 L403.5 670.9 L400.8 668.5 L401.6 671.1 L398.2 668.5 L394.7 664.6 L392.3 666.1 L393.0 670.4 L395.9 674.8 L399.8 678.3 L396.7 677.3 L396.9 681.2 L400.3 683.7 L402.9 685.6 L406.7 688.6 L407.6 693.5 L404.4 690.8 L400.6 690.6 L399.2 691.1 L401.1 694.0 L403.6 695.5 L401.3 697.5 L397.8 694.5 L401.5 701.9 L402.8 705.4 L399.2 701.9 L397.5 705.9 L394.0 700.0 L392.4 702.4 L390.8 701.9 L389.2 698.0 L386.7 693.5 L384.9 691.5 L386.3 688.1 L389.2 687.1 L394.2 688.1 L398.3 690.1 L393.9 686.1 L389.4 686.3 L386.0 686.1 L384.2 686.6 L381.0 682.2 L380.5 679.2 L378.0 677.3 L375.7 673.9 L374.1 673.4 L373.5 671.4 L368.8 667.0 L367.7 661.7 L367.9 657.8 L368.0 653.5 L366.6 652.5 L364.3 650.1 L359.9 647.2 L356.3 644.8 L352.3 642.4 L347.6 639.5 L343.3 636.6 L339.1 634.7 L333.6 630.4 L330.9 625.2 L330.0 621.4 L327.4 619.5 L325.5 621.4 L323.7 624.3 L321.2 621.4 L320.1 617.6 L321.7 616.2 L319.8 615.3 L317.2 616.2 L312.5 618.6 L311.6 620.5 L313.6 622.8 L312.3 627.1 L315.0 631.3 L322.1 635.7 L325.6 641.9 L328.3 646.7 L332.6 650.1 L336.9 652.0 L343.3 652.2 L341.6 655.4 L346.3 657.8 L349.2 659.5 L357.4 664.1 L362.4 669.0 L361.7 672.4 L358.8 670.0 L352.4 665.9 L350.0 667.0 L348.6 670.9 L348.5 673.4 L353.4 676.8 L353.6 680.2 L349.6 683.2 L349.9 686.1 L346.6 690.8 L343.5 690.1 L344.3 686.6 L344.4 683.7 L346.8 681.7 L345.2 677.3 L342.3 671.4 L341.0 669.8 L336.5 668.5 L335.8 666.1 L334.1 664.1 L331.3 664.6 L330.3 662.2 L327.0 659.3 L325.1 658.3 L321.1 658.3 L317.6 656.4 L314.8 653.5 L311.2 650.1 L305.9 647.2 L303.0 642.9 L301.1 641.9 L299.2 636.6 L298.6 633.3 L295.6 631.4 L290.8 629.0 L288.6 628.0 L285.5 629.5 L283.2 632.8 L279.4 634.0 L277.7 634.9 L274.9 637.1 L273.2 639.5 L268.3 640.5 L263.9 639.0 L260.3 638.1 L254.5 636.2 L250.6 638.5 L247.8 640.9 L247.5 645.7 L249.4 648.1 L248.4 652.5 L245.9 654.4 L241.6 657.3 L234.3 660.2 L231.7 663.6 L228.8 666.5 L225.1 670.9 L223.2 675.8 L224.0 679.7 L226.9 682.7 L224.7 685.1 L222.1 686.6 L220.2 690.6 L219.8 694.0 L215.6 694.5 L212.9 696.5 L211.0 700.4 L208.7 702.7 L206.8 701.6 L202.6 702.4 L198.0 702.7 L191.9 702.7 L188.0 704.9 L184.5 708.6 L182.5 709.9 L179.1 707.9 L177.3 704.4 L176.7 701.9 L172.7 698.0 L169.2 698.2 L165.3 700.0 L160.1 699.0Z M363.2 411.3 L359.6 411.7 L353.7 409.1 L358.1 409.1 L361.9 407.3 L358.0 405.9 L353.5 404.8 L348.1 403.0 L343.8 401.7 L341.7 403.0 L339.5 403.0 L335.8 401.6 L331.8 402.3 L328.8 403.0 L327.3 404.4 L325.9 406.2 L322.1 407.7 L319.4 408.4 L316.6 409.1 L313.0 409.1 L310.0 410.6 L306.4 413.1 L304.3 413.5 L301.0 417.6 L296.9 417.6 L292.5 420.2 L288.5 422.8 L286.3 425.4 L291.1 423.9 L295.7 423.5 L300.0 423.9 L298.8 426.2 L295.9 428.1 L294.6 430.3 L291.5 433.4 L289.3 436.8 L288.0 439.9 L286.7 443.4 L283.9 447.7 L282.9 450.9 L280.2 453.2 L277.6 456.0 L275.2 458.0 L271.3 460.0 L267.8 462.0 L262.8 464.4 L258.5 467.7 L253.1 470.1 L252.8 473.8 L252.8 477.5 L252.4 479.9 L253.1 483.2 L254.2 485.7 L255.0 489.5 L255.5 493.2 L257.5 496.6 L257.7 499.6 L260.5 501.7 L264.2 504.2 L266.9 505.1 L272.3 504.0 L276.4 501.3 L279.8 497.9 L281.4 496.6 L284.5 496.2 L285.7 494.1 L285.6 489.1 L287.0 492.8 L288.7 495.3 L289.8 496.6 L290.4 499.1 L291.1 502.1 L293.0 504.7 L295.4 507.6 L297.4 511.1 L300.0 514.5 L302.7 516.7 L301.7 519.7 L302.6 521.9 L304.7 525.8 L304.2 527.7 L307.8 527.9 L312.7 527.7 L313.3 526.2 L311.9 523.2 L314.7 521.9 L320.1 521.0 L322.5 519.7 L324.1 516.7 L323.9 512.8 L324.1 507.6 L324.4 503.4 L324.0 500.0 L327.5 498.7 L329.2 497.4 L331.8 494.9 L333.6 491.6 L332.4 489.1 L330.5 487.0 L328.4 485.3 L325.9 483.2 L321.5 482.4 L320.8 478.3 L319.3 474.2 L319.8 469.3 L321.7 466.4 L324.2 463.6 L327.3 460.4 L329.2 458.8 L331.7 457.6 L334.0 454.8 L335.6 451.7 L333.9 449.7 L334.0 445.4 L336.6 443.4 L339.7 441.6 L345.9 441.5 L348.2 442.2 L353.2 445.4 L354.8 447.7 L353.3 449.7 L351.5 451.7 L349.2 455.2 L346.1 456.8 L344.0 458.4 L343.6 461.2 L339.8 462.4 L339.3 466.9 L340.4 468.9 L342.0 472.1 L343.5 475.4 L343.9 478.7 L344.2 481.6 L346.6 484.1 L350.2 484.9 L353.2 487.4 L355.8 489.7 L359.2 488.6 L363.5 487.8 L366.2 486.8 L369.7 485.3 L374.0 484.9 L376.6 484.3 L379.6 484.1 L381.2 483.6 L386.7 477.9 L389.1 473.0 L393.3 467.7 L393.9 464.4 L390.8 462.0 L382.5 457.6 L384.1 454.8 L379.2 450.9 L377.2 449.3 L374.0 443.0 L375.9 442.2 L371.5 438.4 L366.0 433.0 L368.3 428.4 L361.9 424.7 L358.8 423.2 L357.2 420.5 L357.7 418.3 L357.5 416.8 L357.9 413.9 L360.9 412.8 L364.4 413.1Z M187.6 575.2 L190.9 576.1 L197.7 572.6 L201.6 573.8 L203.1 570.2 L209.3 570.8 L212.6 570.3 L216.9 568.5 L220.5 569.2 L227.1 569.2 L231.8 567.4 L234.6 565.3 L234.8 563.3 L231.3 563.3 L229.0 562.4 L231.6 561.7 L232.9 559.6 L235.6 556.9 L236.7 553.2 L233.7 549.3 L228.6 549.0 L226.1 550.0 L227.6 547.5 L224.8 543.4 L224.9 538.8 L221.7 535.4 L218.0 534.1 L216.8 531.0 L215.7 525.8 L213.3 524.0 L209.6 522.3 L206.0 522.3 L209.7 519.7 L208.6 518.4 L210.7 516.2 L213.2 512.4 L214.8 509.4 L213.6 507.6 L206.0 507.6 L201.8 508.5 L203.2 506.2 L201.9 505.1 L207.9 499.6 L205.7 499.4 L199.9 500.4 L196.4 499.8 L194.4 503.0 L195.1 505.9 L191.1 508.5 L191.8 511.1 L190.7 514.5 L188.2 516.2 L192.2 518.8 L190.7 523.2 L190.1 528.4 L192.3 527.5 L193.1 523.6 L195.6 522.7 L195.7 526.2 L196.9 527.1 L194.6 531.0 L193.8 534.1 L198.1 533.6 L203.5 531.5 L206.3 531.5 L203.0 535.4 L205.4 538.9 L207.6 539.4 L206.3 541.6 L206.2 544.7 L203.9 545.6 L199.5 546.0 L196.0 546.0 L198.1 547.8 L195.1 550.5 L199.3 549.6 L199.1 554.1 L195.1 556.8 L191.2 558.6 L192.3 560.8 L197.5 560.8 L198.1 561.7 L200.7 561.7 L204.6 562.6 L207.9 561.3 L205.9 564.0 L205.2 564.9 L200.6 564.6 L198.0 564.9 L195.6 566.7 L194.2 569.9 L192.1 572.2 L189.0 574.0Z M184.5 556.1 L185.8 551.8 L187.2 548.7 L186.8 545.6 L186.2 539.8 L188.5 538.9 L191.5 535.8 L190.1 533.2 L187.6 529.0 L183.0 529.3 L180.3 527.7 L177.4 529.3 L174.3 529.7 L172.1 533.2 L174.5 534.5 L172.4 537.2 L168.0 537.2 L163.0 537.2 L162.0 540.3 L165.0 541.6 L160.9 545.1 L168.3 546.9 L165.2 549.2 L162.0 552.7 L167.8 552.3 L162.0 555.4 L158.0 556.8 L162.2 557.2 L158.7 559.5 L159.5 561.3 L161.6 562.6 L166.9 561.7 L171.7 559.5 L176.3 557.7 L180.3 556.3Z M293.3 524.9 L296.6 522.7 L300.1 521.4 L302.0 522.0 L302.5 525.3 L300.3 527.1 L302.1 528.8 L299.6 531.0 L298.0 530.6 L294.0 528.1Z M285.5 526.6 L288.5 525.8 L291.4 527.1 L292.0 529.7 L290.3 530.6 L287.1 530.1 L285.4 528.4Z M293.6 532.3 L297.2 531.5 L300.7 532.3 L299.8 534.7 L296.3 534.1 L293.7 533.2Z M316.1 529.7 L316.5 528.4 L318.8 529.7 L318.1 531.0Z M333.2 511.5 L334.0 507.2 L336.7 505.9 L338.9 505.5 L337.0 509.8 L335.2 512.4 L334.1 514.3Z M324.8 520.6 L325.3 515.4 L327.1 510.6 L326.8 513.6 L325.9 519.7Z M352.7 500.8 L354.6 500.4 L359.1 500.0 L361.2 501.3 L358.3 503.4 L355.9 505.1 L355.2 505.9 L354.0 502.5Z M352.8 497.0 L355.6 495.8 L358.8 497.9 L356.0 499.1Z M336.0 486.6 L337.8 484.9 L340.3 485.7 L339.7 487.8 L336.9 487.8Z M287.8 647.2 L288.7 645.5 L292.8 641.4 L294.9 650.1 L294.1 654.9 L292.8 657.1 L289.7 655.4 L288.0 651.5Z M285.3 661.2 L287.2 662.2 L292.9 658.3 L296.4 661.7 L297.8 665.6 L297.1 671.4 L296.8 678.8 L292.8 680.2 L291.7 681.2 L288.3 680.2 L287.8 671.4 L287.9 667.5Z M319.6 692.0 L321.5 688.6 L326.0 688.1 L333.4 690.1 L339.3 688.6 L343.3 687.4 L340.5 694.0 L340.1 697.0 L341.8 699.5 L340.7 703.4 L335.6 701.9 L331.1 699.0 L325.6 696.5 L321.3 694.5Z M242.9 674.4 L248.5 671.2 L251.1 672.9 L249.7 676.8 L247.5 676.8 L245.5 674.8Z M253.6 670.0 L257.3 670.9 L257.0 672.2 L254.0 671.2Z M234.4 680.7 L237.4 679.2 L237.4 681.2 L235.6 681.9Z M406.7 714.4 L411.0 714.4 L415.8 715.9 L420.6 716.6 L424.1 716.9 L428.4 717.4 L428.0 719.9 L423.4 719.9 L416.9 720.4 L410.7 717.9 L407.2 717.4Z M396.9 681.2 L400.5 680.2 L406.3 683.7 L410.5 688.6 L411.2 690.6 L407.9 689.1 L403.6 685.6 L399.4 682.7Z M438.1 708.4 L441.0 705.4 L440.9 709.4 L438.5 710.9Z M418.8 677.8 L422.3 676.8 L424.4 679.7 L420.7 680.2Z M420.0 684.6 L421.9 684.6 L422.1 688.1 L420.5 687.6Z M426.5 692.0 L430.0 692.5 L428.3 693.5Z M418.4 698.0 L420.1 699.0 L419.2 700.4Z M411.9 690.6 L414.1 692.5 L413.1 693.0Z M430.8 701.4 L433.4 701.4 L431.4 702.9Z M433.6 711.4 L434.9 714.9 L434.2 715.4Z M411.3 670.9 L413.9 671.4 L412.6 672.4Z M406.2 663.1 L407.8 663.6 L407.2 664.6Z M371.5 672.9 L373.6 672.4 L375.3 676.3 L373.3 675.3Z M379.0 687.1 L380.3 685.6 L382.3 689.1 L380.4 689.1Z M381.5 691.5 L383.9 692.5 L382.9 693.5Z M185.3 470.9 L188.2 469.3 L190.2 470.1 L188.4 472.5 L186.3 472.1Z M216.4 488.2 L217.6 483.2 L220.4 482.0 L219.8 485.7 L218.4 489.1Z M206.4 497.0 L208.2 495.3 L210.4 496.6 L208.7 497.9Z M184.2 506.8 L188.8 500.8 L189.2 503.0 L187.2 505.9 L183.3 509.8 L181.4 511.1 L181.3 508.9Z M185.7 509.4 L188.2 507.6 L190.9 511.5 L189.6 513.2 L187.4 511.1Z M187.5 517.5 L191.1 518.0 L189.8 519.7 L187.0 519.7Z M185.8 523.6 L188.3 523.2 L188.5 525.3 L186.9 525.8Z M192.8 524.9 L194.2 525.8 L193.5 527.3Z M195.7 538.9 L198.3 536.3 L197.9 538.5Z M215.3 569.6 L218.2 569.2 L217.5 570.5Z M196.0 546.0 L197.6 545.0 L199.5 546.0 L198.1 547.4Z M255.7 548.3 L256.6 547.4 L256.3 548.7Z M307.4 535.8 L308.7 533.8 L310.9 536.3 L309.2 537.6Z M316.5 701.9 L317.3 702.4 L316.6 702.6Z M334.3 709.4 L336.7 710.4 L337.2 711.7 L335.6 711.2Z M298.3 643.3 L300.5 643.1 L300.2 644.1Z"/>
<path stroke="#f6f6f6" stroke-width="0.8" fill="none" stroke-linejoin="round" stroke-opacity="0.95" d="M160.8 652.3 L165.9 650.1 L166.8 653.0 L177.4 651.5 L180.2 654.9 L174.8 660.7 L175.2 667.5 L173.4 673.4 L169.7 673.9 L173.1 679.2 L170.6 685.6 L172.7 688.1 L168.6 694.5 L169.2 698.2 M212.5 637.8 L215.4 640.9 L220.0 641.9 L225.4 644.3 L230.5 642.9 L235.9 645.3 L238.1 646.2 L243.6 647.7 L248.6 646.9 M279.4 634.0 L280.3 630.9 L274.8 628.0 L274.8 622.4 L272.3 621.4 L275.3 618.1 L273.0 614.8 L274.7 613.7 M274.7 613.7 L272.6 609.2 L268.9 610.1 L267.0 611.0 L267.7 607.8 L270.0 605.9 L273.5 600.7 L277.5 598.1 M277.5 598.1 L276.8 593.3 L278.2 589.1 L280.6 585.3 L275.1 583.6 L270.8 583.6 L268.0 580.7 M268.0 580.7 L264.2 579.9 L261.9 580.4 L257.7 577.6 L257.6 574.4 L253.0 576.0 L253.2 573.5 L249.6 573.1 L246.8 569.4 L244.5 569.4 L242.1 566.0 M247.4 563.3 L250.9 564.9 L253.2 563.3 L256.7 562.2 L258.3 562.4 L263.7 565.3 L262.6 568.3 L265.0 569.0 M265.0 569.0 L267.0 571.2 L266.1 574.6 L267.0 577.2 L268.8 578.1 L268.0 580.7 M266.1 574.6 L263.7 577.2 L264.2 579.9 M265.0 569.0 L265.3 564.9 L265.9 563.1 L264.1 559.2 L269.1 558.6 L270.8 555.4 L268.4 553.2 L270.6 551.8 L271.2 546.9 L271.1 546.0 M279.0 531.9 L284.0 532.6 M315.0 540.5 L316.8 546.0 L315.8 550.0 L319.4 552.7 L320.7 557.2 L320.1 559.5 L323.0 564.0 L323.9 567.6 L322.7 567.9 M322.7 567.9 L319.1 566.7 L312.5 570.8 L307.2 573.5 L305.5 573.1 L308.6 576.7 L309.1 578.6 L312.6 582.2 L318.9 587.1 M318.9 587.1 L316.4 589.1 L312.2 593.3 L314.1 595.6 L314.8 597.9 L308.9 597.9 L300.9 599.8 L297.0 598.4 L295.5 600.7 L291.2 598.4 M291.2 598.4 L284.2 597.0 L282.9 597.9 L277.5 598.1 M291.2 598.4 L291.2 602.6 L297.6 604.5 L297.7 604.8 M274.7 613.7 L280.2 613.6 L282.1 610.1 L284.1 608.7 L286.4 612.0 L288.3 614.5 L289.9 608.2 L295.3 610.6 L297.9 607.8 L297.7 604.8 M297.7 604.8 L301.5 605.7 L302.6 603.5 L304.7 603.5 L309.5 602.8 L311.2 606.3 L320.4 608.0 M320.4 608.0 L318.7 611.0 L320.3 613.4 L320.5 614.8 L322.8 616.7 L321.5 616.7 M320.4 608.0 L326.4 609.2 L329.3 607.1 L333.7 606.3 L336.6 604.8 M336.6 604.8 L339.2 603.5 L338.3 599.8 L339.6 597.0 L342.3 597.0 L342.2 594.2 M342.2 594.2 L340.0 588.5 M340.0 588.5 L334.1 587.3 L326.3 585.0 L324.8 588.7 L318.9 587.1 M322.7 567.9 L325.9 568.1 L333.1 569.9 L332.5 572.2 L336.2 574.9 L337.0 571.7 L342.5 573.1 L342.5 574.9 L345.0 575.8 L349.1 576.7 L351.4 580.2 M351.4 580.2 L347.1 584.5 L341.3 586.2 L340.0 588.5 M351.4 580.2 L355.3 579.5 L358.3 583.1 L360.3 583.1 L363.3 581.3 L366.6 581.0 L373.1 583.1 L377.0 584.2 M377.0 584.2 L377.2 580.4 L381.1 574.0 L383.6 570.3 L383.7 568.1 L379.0 562.2 M379.0 562.2 L378.1 556.8 L374.8 555.4 L378.3 551.4 L378.0 548.7 L373.0 540.3 M373.0 540.3 L367.7 536.6 M373.0 540.3 L378.8 540.7 L384.7 537.2 L385.2 532.3 L390.4 528.8 L388.0 525.1 M353.3 521.7 L358.9 518.8 L370.6 519.7 L375.7 518.4 L383.7 522.7 L388.0 525.1 M388.0 525.1 L393.8 524.0 L396.2 521.0 M368.8 506.2 L374.0 504.7 L382.4 508.9 L387.5 509.1 M379.0 562.2 L384.0 558.6 L392.4 558.6 L402.2 561.3 L412.9 562.2 L424.8 564.0 L425.3 557.2 L430.5 556.8 M342.2 594.2 L347.0 596.5 L353.8 596.1 L354.8 593.8 L360.7 592.8 L364.2 589.6 L370.2 589.1 L375.6 590.5 M375.6 590.5 L377.0 584.2 M375.6 590.5 L381.4 594.2 M381.4 594.2 L385.6 594.7 L395.6 596.8 L398.0 595.2 L403.9 594.2 L406.4 591.9 M406.4 591.9 L411.1 596.1 L416.7 602.1 L420.5 609.2 L423.3 618.1 M406.4 591.9 L411.7 590.1 L418.5 592.8 L424.1 594.7 L425.6 599.3 L432.4 605.4 L434.4 609.2 L427.3 612.9 L425.3 617.6 L423.3 618.1 L433.7 619.0 M381.4 594.2 L376.4 599.8 L373.0 607.3 L372.4 610.1 L366.5 611.8 M366.5 611.8 L361.5 611.5 L357.0 613.9 M357.0 613.9 L348.7 614.3 L346.5 613.4 L339.8 608.2 L338.7 607.8 L336.6 604.8 M320.8 617.8 L323.6 617.6 L327.7 616.2 L332.8 618.1 L334.8 614.3 L334.7 611.0 L338.7 607.8 M336.3 620.9 L336.7 624.3 L340.3 630.0 L347.2 636.2 L352.6 641.4 L358.9 645.7 L359.8 646.7 M336.3 620.9 L340.4 622.4 L344.3 620.0 L351.2 621.9 L356.5 621.4 L360.0 623.6 M360.0 623.6 L358.8 618.6 L361.9 620.5 L357.0 613.9 M360.0 623.6 L362.9 629.0 L361.2 629.0 L365.2 632.3 L363.4 636.6 M363.4 636.6 L359.8 639.0 L358.9 645.7 M363.4 636.6 L372.2 642.9 L370.5 645.7 L367.3 645.7 L366.4 650.1 L366.6 652.5 M366.5 611.8 L375.3 620.5 L377.3 623.8 L382.5 627.1 L386.5 630.0 M386.5 630.0 L385.4 633.8 L390.8 639.5 L388.1 647.2 L387.6 648.1 M386.5 630.0 L389.3 633.3 L400.5 634.2 L407.2 635.2 L411.6 632.3 L417.6 630.4 L429.7 634.3 M387.6 648.1 L381.8 648.6 L375.5 652.0 L375.5 652.3 M370.5 645.7 L374.3 649.1 L375.5 652.3 M375.5 652.3 L375.6 657.8 L378.0 661.7 L379.8 662.2 M379.8 662.2 L378.4 669.5 L374.1 673.4 M379.8 662.2 L385.7 661.2 L391.9 659.3 L393.5 657.5 M393.5 657.5 L391.8 651.5 L387.6 648.1 M393.5 657.5 L400.9 655.9 L410.1 658.3 L416.5 657.3 L417.7 653.9 M289.8 496.6 L293.2 494.1 L293.1 489.9 L295.9 486.6 L293.7 479.9 L296.3 477.0 L291.9 474.2 L292.0 469.7 L289.9 463.6 L289.3 458.8 L298.0 455.2 L298.1 452.1 L295.5 450.9 L298.6 445.4 L297.6 438.8 L301.5 437.6 L304.3 430.7 L302.2 428.4 L306.6 423.9 L309.5 420.5 L318.4 422.0 L317.7 416.8 L319.2 416.8 M319.2 416.8 L325.1 419.4 L336.9 425.0 L337.2 428.8 L340.9 433.8 L344.5 439.9 L345.9 441.5 M319.2 416.8 L322.0 415.0 L328.1 418.3 L332.6 419.8 L340.6 420.2 L342.5 415.7 L341.9 412.0 L345.4 410.2 L348.9 409.3 L352.7 411.3 L357.4 413.5 L357.5 416.8 M180.7 530.4 L178.6 533.2 L174.7 535.8 L179.7 538.5 L183.8 539.4 L186.2 538.9"/>
</g>
<g id="sea">
<path fill="#d9d9d9" d="M513.2 483.8 L512.8 481.2 L515.1 479.4 L515.1 474.2 L518.8 472.7 L519.5 466.7 L521.0 461.5 L520.7 458.9 L526.6 460.4 L530.7 450.8 L530.0 448.9 L534.1 444.5 L534.4 439.7 L541.9 435.2 L547.8 436.3 L547.1 432.6 L550.5 427.8 L551.9 425.6 L556.4 428.5 L556.0 432.6 L560.5 433.0 L560.5 443.0 L560.9 445.2 L556.8 447.8 L551.9 453.8 L551.9 459.7 L560.5 458.6 L562.0 465.3 L566.5 467.1 L564.2 473.0 L570.2 476.4 L571.7 478.2 L578.8 477.4 L583.2 480.1 L584.0 477.1 L581.7 472.7 L584.4 470.8 L586.1 471.2 L588.8 468.6 L592.9 470.8 L595.2 468.2 L599.6 470.4 L603.0 469.0 L606.0 467.5 L610.1 464.1 L613.8 467.1 L619.0 467.5 L620.1 469.7 L619.0 471.6 L620.5 475.3 L625.0 477.1 L630.2 477.5 L625.3 481.2 L622.3 482.3 L620.1 483.1 L619.0 487.5 L614.9 489.7 L613.4 494.2 L612.7 498.3 L617.9 504.2 L619.7 507.9 L623.5 512.0 L626.8 514.6 L631.3 517.9 L635.0 523.1 L636.5 526.1 L637.6 531.3 L639.1 535.4 L639.5 540.9 L640.6 543.5 L638.7 546.9 L638.7 549.5 L637.2 552.4 L632.0 555.8 L630.5 556.5 L624.6 559.9 L623.1 560.6 L620.5 562.1 L620.5 565.1 L617.9 566.9 L613.4 570.6 L609.7 573.2 L605.6 573.6 L606.3 566.9 L608.2 563.6 L603.7 560.2 L602.2 559.1 L599.3 558.7 L596.6 558.7 L597.4 555.8 L593.3 555.0 L592.5 551.7 L591.8 550.2 L589.2 547.2 L584.4 543.5 L581.0 543.9 L576.9 543.5 L577.3 538.3 L574.3 537.2 L570.2 538.0 L570.6 540.9 L569.8 544.3 L568.7 549.8 L566.8 554.7 L564.6 559.9 L563.9 565.4 L565.0 569.1 L569.1 568.4 L570.6 574.7 L572.8 579.5 L574.7 584.0 L579.1 586.2 L583.6 589.5 L586.6 591.4 L589.6 594.0 L593.7 597.7 L595.9 603.3 L595.9 608.8 L595.9 615.1 L598.9 618.9 L602.1 627.2 L599.6 627.4 L596.3 628.0 L591.8 624.4 L587.0 621.1 L583.6 618.5 L580.3 615.1 L577.3 609.2 L574.7 605.5 L572.8 597.7 L572.8 592.9 L571.3 589.5 L569.8 588.4 L568.0 586.6 L565.7 583.2 L562.8 580.3 L562.0 577.7 L558.7 578.0 L557.2 573.6 L557.5 569.1 L558.7 565.4 L559.4 563.2 L559.0 558.0 L560.5 552.1 L559.8 545.0 L559.4 540.9 L556.8 533.5 L553.8 526.1 L553.4 519.8 L552.3 515.0 L549.3 512.0 L547.1 509.0 L542.6 514.2 L541.5 515.7 L535.9 520.5 L534.4 520.5 L529.6 519.4 L527.0 518.7 L528.9 512.0 L529.6 506.8 L528.1 500.5 L525.1 496.4 L522.1 492.7 L521.8 489.7 L517.3 487.9Z M557.5 576.6 L558.5 577.7 L557.9 579.7 L557.3 578.8Z M641.7 622.6 L646.9 624.8 L653.6 626.3 L655.1 618.9 L667.0 613.7 L674.5 604.0 L685.7 596.6 L694.6 586.2 L702.1 590.7 L705.8 594.4 L713.2 598.1 L708.0 604.8 L701.3 606.2 L702.8 615.1 L704.3 621.1 L711.8 630.0 L703.6 631.5 L700.6 641.1 L695.4 647.0 L692.4 655.9 L689.4 664.1 L679.7 667.8 L678.2 662.6 L667.0 661.1 L658.1 663.4 L646.2 658.9 L644.7 648.5 L638.0 641.1 L637.2 635.2 L637.2 628.5Z M535.2 595.8 L551.6 598.8 L560.5 609.2 L572.4 618.9 L581.4 624.8 L592.5 633.7 L598.5 639.6 L603.7 650.8 L614.9 659.7 L614.2 670.8 L613.4 680.4 L604.5 680.4 L601.5 676.0 L587.3 667.1 L577.7 655.9 L572.4 644.8 L562.8 633.7 L555.3 622.6 L547.8 613.7 L538.9 604.0Z M608.9 687.9 L614.9 681.2 L622.3 681.9 L633.5 687.1 L648.4 688.6 L652.2 685.6 L664.8 688.6 L678.2 695.3 L677.5 702.0 L663.3 699.7 L644.7 696.8 L629.8 695.3 L617.9 692.3Z M678.2 698.2 L687.2 699.0 L683.4 702.7Z M688.7 699.7 L694.6 699.0 L693.1 703.4 L689.4 703.4Z M695.4 700.5 L708.0 699.0 L713.2 700.5 L708.0 703.4 L696.8 704.2Z M718.5 700.5 L730.4 700.5 L741.5 699.0 L740.1 702.0 L726.7 703.4 L718.5 702.7Z M711.8 707.9 L720.7 707.9 L725.2 713.1 L715.5 711.6Z M745.3 713.8 L752.7 706.4 L763.9 701.2 L773.6 699.7 L767.6 704.2 L756.5 709.4 L749.0 713.8Z M723.3 500.1 L727.4 499.0 L735.2 500.1 L736.3 502.4 L735.2 509.0 L737.8 510.5 L737.1 515.0 L730.7 519.4 L731.1 523.9 L729.6 527.2 L731.5 528.0 L732.2 532.0 L735.6 533.5 L739.3 531.3 L741.9 533.9 L743.8 533.5 L748.3 534.6 L747.1 538.7 L750.1 540.9 L749.7 544.3 L747.9 542.1 L743.8 540.9 L740.4 536.9 L737.8 534.3 L738.6 539.5 L736.3 536.9 L732.2 534.3 L728.5 536.5 L724.0 535.0 L723.7 532.0 L726.3 529.8 L723.3 530.2 L721.1 527.2 L718.5 522.4 L717.7 516.1 L721.4 518.3 L721.8 514.2 L722.2 507.5Z M721.4 537.2 L726.3 537.2 L730.4 540.2 L730.4 543.9 L728.5 546.9 L725.2 543.2 L722.2 539.5Z M733.4 548.7 L738.6 551.3 L742.7 552.1 L741.5 555.8 L738.6 558.4 L734.1 559.9 L733.7 555.8 L734.8 551.3Z M740.4 556.2 L745.6 556.9 L743.8 561.7 L743.8 567.7 L743.0 570.2 L738.6 566.9 L737.1 564.7 L740.4 562.5 L740.1 559.5Z M749.4 553.6 L749.0 556.5 L746.4 562.5 L743.8 567.3 L744.9 563.9 L746.8 559.5Z M747.5 563.9 L750.1 562.1 L753.5 563.2 L752.0 565.8 L749.0 566.2Z M751.6 552.4 L755.3 553.2 L756.8 554.7 L756.5 557.6 L758.3 561.3 L756.5 563.2 L754.6 562.1 L754.6 558.0 L752.0 556.2Z M751.2 544.6 L757.6 544.3 L760.2 547.2 L761.7 555.0 L756.5 554.7 L756.1 550.2 L751.6 546.1Z M743.0 544.3 L747.1 546.9 L749.4 549.5 L746.0 548.7Z M734.5 586.2 L734.8 581.8 L736.0 579.5 L738.9 577.3 L744.2 572.8 L747.9 576.9 L750.9 576.6 L753.8 574.3 L755.0 571.0 L757.9 569.9 L760.2 570.6 L759.8 565.1 L764.3 569.1 L766.5 575.1 L767.3 581.0 L768.4 583.6 L765.4 590.7 L764.6 586.6 L761.7 584.7 L759.4 587.7 L759.4 590.7 L761.7 595.8 L758.7 596.2 L757.6 594.0 L753.5 592.9 L749.4 589.9 L749.0 585.5 L750.5 584.0 L746.8 582.1 L744.9 582.9 L744.5 579.9 L740.1 581.8 L738.6 581.4 L736.7 584.0Z M698.3 575.4 L699.8 572.8 L704.3 568.4 L708.4 563.9 L711.8 559.9 L714.0 556.2 L715.8 552.8 L717.0 559.1 L713.2 563.2 L709.9 565.4 L706.9 569.1 L703.6 571.7 L700.9 574.7Z M732.6 588.4 L736.3 587.3 L735.6 589.9 L733.0 589.5Z M725.5 592.9 L729.6 592.5 L728.9 594.0Z M717.7 599.6 L721.1 597.7 L721.4 599.6Z M725.2 627.4 L730.4 629.2 L737.8 630.0 L743.8 630.4 L751.2 628.5 L755.3 625.9 L758.3 625.9 L755.7 630.4 L751.6 634.4 L745.3 635.2 L741.9 633.7 L734.8 634.1 L728.9 633.7 L723.7 633.7 L721.1 634.8 L719.6 638.1 L720.3 643.3 L723.7 646.3 L724.8 647.8 L728.1 646.3 L731.5 643.7 L736.3 643.3 L741.5 641.9 L744.9 643.7 L744.5 644.8 L740.4 649.3 L735.6 649.6 L733.0 651.5 L730.4 652.2 L733.4 657.4 L736.3 661.1 L737.5 664.1 L738.6 666.7 L740.8 669.3 L740.8 673.0 L737.1 672.6 L734.1 673.4 L730.7 672.6 L731.1 667.5 L729.3 666.7 L726.7 661.1 L726.3 657.1 L722.2 659.3 L720.7 659.7 L722.2 664.9 L722.2 671.5 L722.6 679.0 L718.1 679.3 L715.1 678.2 L714.7 675.6 L715.5 671.5 L716.2 667.1 L714.0 663.0 L711.4 663.7 L710.3 658.5 L711.0 657.1 L712.9 653.7 L714.0 647.0 L714.4 644.8 L717.3 642.6 L718.1 644.1 L718.5 641.1 L718.1 637.4 L719.2 633.3 L721.1 630.7Z M776.2 623.3 L778.4 621.1 L779.5 625.5 L778.1 628.9 L784.0 625.9 L784.4 628.5 L779.9 631.8 L783.6 633.3 L784.0 634.8 L780.3 635.2 L778.4 637.4 L782.2 640.4 L781.8 643.7 L778.1 640.0 L776.2 635.2 L775.4 630.7 L774.3 627.8Z M778.1 660.4 L782.5 658.5 L790.0 658.2 L796.7 659.7 L800.0 663.4 L795.9 664.1 L790.0 663.0 L785.5 662.3 L780.3 664.1 L778.4 663.4Z M764.3 660.8 L769.1 660.0 L772.8 661.9 L772.1 665.2 L766.9 666.0 L763.9 663.4Z M608.6 651.9 L613.0 648.9 L616.0 651.1 L620.1 655.9 L620.5 660.0 L614.9 658.5 L613.4 654.8 L609.7 653.0Z M812.3 640.4 L825.0 643.3 L825.0 655.9 L831.0 661.9 L842.1 653.7 L853.3 649.3 L864.5 653.7 L875.7 656.7 L875.7 704.4 L868.2 698.2 L857.0 699.0 L851.1 693.0 L858.5 689.3 L855.5 680.4 L842.1 672.3 L831.0 670.0 L819.8 665.6 L814.6 667.1 L808.6 658.9 L819.8 655.9 L810.1 653.7 L801.2 647.8 L800.4 644.1Z M548.6 627.0 L550.8 626.3 L554.6 631.1 L553.1 633.3 L550.5 630.4Z M538.5 616.3 L540.4 616.6 L544.1 619.6 L541.9 619.6Z M559.8 644.8 L562.4 644.4 L565.0 649.3 L563.1 650.8 L560.5 647.8Z M566.8 652.6 L569.1 654.5 L573.6 661.1 L571.7 661.9 L568.0 655.9Z M585.8 676.7 L588.1 677.5 L587.0 678.2Z M626.8 656.7 L630.2 656.7 L632.0 658.9 L629.4 661.5 L626.8 659.7Z M602.2 628.5 L604.5 628.5 L604.8 630.7 L602.6 630.7Z M599.3 628.9 L601.1 628.9 L600.7 630.4 L599.3 630.0Z M603.0 637.8 L606.7 638.9 L604.5 640.0Z M602.2 640.4 L604.5 640.7 L603.7 642.2Z M629.8 606.2 L632.4 607.7 L631.3 609.9 L629.8 608.8Z M664.8 689.7 L669.3 688.6 L675.2 689.0 L673.8 690.5 L666.3 690.8Z M741.9 670.0 L743.0 674.5 L740.4 679.3 L738.6 677.5 L740.4 673.0Z M736.3 671.9 L739.3 672.3 L739.3 676.7 L736.7 676.7Z M740.4 646.3 L745.6 646.7 L743.8 648.9 L740.8 648.5Z M751.2 649.6 L760.2 650.8 L766.1 650.8 L763.9 652.2 L752.0 651.9Z M773.6 647.8 L778.8 648.5 L778.1 650.4 L774.3 650.0Z M780.3 620.3 L783.6 618.9 L783.3 622.2 L780.7 622.2Z M773.6 640.0 L777.7 640.7 L776.6 643.7 L774.0 642.6Z M778.4 664.5 L781.4 663.7 L781.0 665.2Z M814.6 677.5 L817.2 677.1 L816.0 681.5Z M824.2 680.4 L829.1 678.2 L829.8 684.1 L827.2 688.6 L824.2 685.6Z M801.9 694.5 L806.4 690.5 L806.0 694.5 L802.6 697.5Z M762.8 695.6 L769.9 694.2 L770.2 695.6 L763.9 696.8Z M751.6 698.2 L757.2 697.9 L755.7 699.7 L752.0 700.1Z M836.5 643.0 L841.0 645.6 L838.4 646.3 L836.2 644.8Z M834.3 649.6 L844.7 650.8 L840.6 651.5 L834.7 651.1Z M795.9 638.1 L803.4 638.1 L802.6 640.4 L796.7 640.0Z M791.5 650.8 L796.7 651.1 L795.9 652.6 L792.2 652.2Z M798.2 644.4 L801.9 644.8 L800.8 647.8 L798.5 647.0Z M850.7 693.8 L855.5 691.9 L860.0 695.6 L859.6 699.4 L852.6 699.7Z M759.4 609.9 L760.9 610.7 L760.2 612.2Z M769.1 604.8 L770.6 606.2 L769.5 607.7Z M732.6 492.7 L734.1 493.5 L733.0 494.6Z M749.7 533.5 L752.0 534.3 L751.2 536.9 L749.4 536.5Z M763.9 563.2 L765.0 564.7 L763.9 565.4Z M760.2 560.2 L761.3 562.5 L760.5 563.6Z M734.1 543.9 L735.2 546.1 L733.7 546.9Z M718.5 546.1 L721.4 547.2 L719.2 548.7Z M714.7 700.5 L715.8 700.1 L715.5 702.3Z M740.8 718.3 L744.5 715.3 L743.0 717.9Z M732.2 715.3 L733.7 715.3 L733.0 716.1Z M743.8 699.0 L748.3 698.6 L746.0 700.8Z"/>
<path stroke="#f6f6f6" stroke-width="0.8" fill="none" stroke-linejoin="round" stroke-opacity="0.95" d="M559.4 563.2 L561.3 558.7 L564.2 552.1 L567.2 549.8 L563.9 539.5 L559.8 530.6 L556.8 524.6 L559.4 523.1 L559.8 517.9 L562.0 515.7 L559.0 512.4 L553.8 506.8 L553.1 502.4 L550.5 499.8 L553.8 499.4 L553.4 493.5 L556.0 490.5 L562.8 490.5 L566.5 486.4 L570.9 486.4 M570.9 486.4 L574.7 483.1 L578.8 477.4 M570.9 486.4 L574.3 487.9 L573.2 491.2 L579.5 492.3 L579.5 500.1 L578.0 504.6 L581.7 505.3 L585.8 502.4 L590.3 505.0 L595.5 500.9 L600.0 501.6 L605.6 507.5 L605.6 515.0 L607.8 517.9 L611.2 520.5 L611.9 523.9 L611.2 529.4 L608.9 530.9 M608.9 530.9 L600.0 530.9 L594.0 531.3 L592.2 532.0 L589.2 536.5 L587.7 536.9 L590.7 545.0 L590.3 547.2 L591.8 550.2 M608.9 530.9 L614.2 533.5 L615.6 530.9 L619.0 529.1 L626.4 528.3 M586.1 471.2 L589.6 476.4 L592.2 476.0 L593.7 482.7 L604.5 484.2 L603.0 486.4 L607.1 488.3 L599.3 493.8 L608.9 499.0 L608.2 502.0 L611.9 506.4 L618.3 511.6 L619.0 514.2 L625.7 518.3 L623.8 519.8 L627.2 525.4 L626.4 528.3 M626.4 528.3 L625.3 533.5 L626.8 537.2 L626.8 546.1 L618.3 550.6 L613.8 551.7 L616.4 557.3 L608.2 556.2 L603.7 560.2 M571.3 589.5 L572.4 587.7 L576.5 591.0 L578.4 595.5 L582.1 593.6 L585.8 591.0 M641.7 622.6 L642.1 625.5 L649.2 631.1 L658.1 630.0 L661.1 626.6 L672.3 628.1 L679.0 626.6 L682.0 619.6 L687.2 615.1 L686.4 606.2 L693.1 605.1 L701.3 606.2 M675.2 603.3 L679.7 607.7 L682.0 605.1 L684.6 605.5 L683.1 601.0 M749.4 706.8 L752.4 705.7 L756.1 704.6 L757.2 707.1 M875.7 656.7 L875.7 704.9"/>
</g>
<text transform="translate(18.4 46.0) scale(1.050 1)" font-size="14.67" font-weight="bold" text-anchor="start">Beneficial nature’s contributions to people</text>
<circle cx="24.1" cy="61.6" r="7.1" fill="#806000"/>
<text transform="translate(50.8 66.2) scale(1.050 1)" font-size="14.67" text-anchor="start">Supporting identities</text>
<circle cx="24.1" cy="87.7" r="7.1" fill="#F7C4AC"/>
<text transform="translate(50.8 92.3) scale(1.050 1)" font-size="14.67" text-anchor="start">Enhanced food and feed</text>
<circle cx="24.1" cy="113.8" r="7.1" fill="#000000"/>
<text transform="translate(50.8 118.4) scale(1.050 1)" font-size="14.67" text-anchor="start">Habitat creation and maintenance</text>
<circle cx="24.1" cy="139.9" r="7.1" fill="#618D70"/>
<text transform="translate(50.8 144.5) scale(1.050 1)" font-size="14.67" text-anchor="start">Provision of materials, companionship and labor</text>
<circle cx="24.1" cy="166.0" r="7.1" fill="#DE6E07"/>
<text transform="translate(50.8 170.6) scale(1.050 1)" font-size="14.67" text-anchor="start">Regulation of freshwater and coastal water quality</text>
<circle cx="24.1" cy="192.1" r="7.1" fill="#BABCF7"/>
<text transform="translate(50.8 196.7) scale(1.050 1)" font-size="14.67" text-anchor="start">Enhanced physical and psychological experiences</text>
<circle cx="24.1" cy="218.2" r="7.1" fill="#00ACF0"/>
<text transform="translate(50.8 222.8) scale(1.050 1)" font-size="14.67" text-anchor="start">Regulation of detrimental organisms and biological processes</text>
<text transform="translate(18.4 251.2) scale(1.050 1)" font-size="14.67" font-weight="bold" text-anchor="start">Magnitude of nature’s contributions to people</text>
<circle cx="24.0" cy="268.1" r="8.9" fill="#fff" stroke="#000" stroke-width="1.5"/>
<circle cx="24.0" cy="268.1" r="2.4" fill="#000"/>
<line x1="24.0" y1="257.8" x2="24.0" y2="260.6" stroke="#fff" stroke-width="0.8"/>
<text transform="translate(50.8 272.4) scale(1.050 1)" font-size="14.67" text-anchor="start">Potential+</text>
<circle cx="24.0" cy="294.9" r="8.9" fill="#fff" stroke="#000" stroke-width="1.5"/>
<line x1="24.0" y1="284.5" x2="24.0" y2="287.3" stroke="#fff" stroke-width="0.8"/>
<text transform="translate(50.8 299.2) scale(1.050 1)" font-size="14.67" text-anchor="start">Low+</text>
<circle cx="24.0" cy="321.9" r="7.6" fill="#fff" stroke="#000" stroke-width="3.8"/>
<line x1="24.0" y1="311.5" x2="24.0" y2="316.7" stroke="#fff" stroke-width="0.8"/>
<text transform="translate(50.8 326.2) scale(1.050 1)" font-size="14.67" text-anchor="start">Medium+</text>
<circle cx="24.0" cy="348.9" r="9.7" fill="#000"/>
<line x1="24.0" y1="338.5" x2="24.0" y2="348.9" stroke="#fff" stroke-width="0.8"/>
<text transform="translate(50.8 353.2) scale(1.050 1)" font-size="14.67" text-anchor="start">High+</text>
<text transform="translate(18.4 389.0) scale(1.050 1)" font-size="14.67" font-weight="bold" text-anchor="start">Number of records</text>
<circle cx="23.9" cy="402.4" r="5.4" fill="#fff" stroke="#000" stroke-width="1.3"/>
<text transform="translate(51.1 406.3) scale(1.050 1)" font-size="14.67" text-anchor="start">1-5</text>
<circle cx="23.9" cy="427.0" r="10.7" fill="#fff" stroke="#000" stroke-width="1.3"/>
<text transform="translate(51.1 430.9) scale(1.050 1)" font-size="14.67" text-anchor="start">6-10</text>
<circle cx="23.9" cy="460.7" r="15.4" fill="#fff" stroke="#000" stroke-width="1.3"/>
<text transform="translate(51.1 464.9) scale(1.050 1)" font-size="14.67" text-anchor="start">11-20</text>
<circle cx="23.9" cy="503.8" r="19.8" fill="#fff" stroke="#000" stroke-width="1.3"/>
<text transform="translate(51.1 508.2) scale(1.050 1)" font-size="14.67" text-anchor="start">&gt; 20</text>
<text transform="translate(347.9 14.6) scale(1.050 1)" font-size="14.67" font-weight="bold" text-anchor="start">A</text>
<text transform="translate(269.3 422.0) scale(1.050 1)" font-size="14.67" font-weight="bold" text-anchor="start">B</text>
<text transform="translate(526.9 422.0) scale(1.050 1)" font-size="14.67" font-weight="bold" text-anchor="start">C</text>
<text transform="translate(879.6 421.5) scale(1.050 1)" font-size="14.67" font-weight="bold" text-anchor="start">D</text>
<ellipse cx="810.9" cy="61.9" rx="59" ry="38.3" fill="none" stroke="#333" stroke-width="1.4" stroke-dasharray="5.4 3.8"/>
<ellipse cx="1091.7" cy="202" rx="63.7" ry="38.6" fill="none" stroke="#333" stroke-width="1.4" stroke-dasharray="5.4 3.8"/>
<circle cx="516.40" cy="68.50" r="4.45" fill="none" stroke="#fff" stroke-width="3.11"/>
<circle cx="516.40" cy="68.50" r="4.45" fill="none" stroke="#BABCF7" stroke-width="2.30"/>
<line x1="516.40" y1="65.20" x2="516.40" y2="62.90" stroke="#fff" stroke-width="0.45" stroke-opacity="0.85"/>
<path d="M529.30 68.50 L530.75 63.09 A5.60 5.60 0 1 1 524.55 71.47 Z" fill="#F7C4AC" stroke="#fff" stroke-width="0.40" stroke-linejoin="round"/>
<path d="M529.30 68.50 L524.55 71.47 A5.60 5.60 0 0 1 530.75 63.09 Z" fill="#BABCF7" stroke="#fff" stroke-width="0.40" stroke-linejoin="round"/>
<circle cx="483.60" cy="115.00" r="5.17" fill="none" stroke="#fff" stroke-width="1.66"/>
<circle cx="483.60" cy="115.00" r="5.17" fill="none" stroke="#00ACF0" stroke-width="0.85"/>
<line x1="483.60" y1="110.25" x2="483.60" y2="109.40" stroke="#fff" stroke-width="0.45" stroke-opacity="0.85"/>
<circle cx="483.60" cy="115.00" r="1.75" fill="#000"/>
<path d="M510.70 94.30 A20.30 20.30 0 0 1 516.64 134.01 L513.62 124.16 A10.00 10.00 0 0 0 510.70 104.60 Z" fill="#00ACF0" stroke="#fff" stroke-width="0.45" stroke-linejoin="round"/>
<path d="M516.64 134.01 A20.30 20.30 0 0 1 490.60 117.43 L500.80 115.99 A10.00 10.00 0 0 0 513.62 124.16 Z" fill="#618D70" stroke="#fff" stroke-width="0.45" stroke-linejoin="round"/>
<path d="M490.60 117.43 A20.30 20.30 0 0 1 495.15 101.55 L503.04 108.17 A10.00 10.00 0 0 0 500.80 115.99 Z" fill="#BABCF7" stroke="#fff" stroke-width="0.45" stroke-linejoin="round"/>
<path d="M495.15 101.55 A20.30 20.30 0 0 1 510.70 94.30 L510.70 104.60 A10.00 10.00 0 0 0 503.04 108.17 Z" fill="#F7C4AC" stroke="#fff" stroke-width="0.45" stroke-linejoin="round"/>
<path d="M552.90 116.50 L552.90 96.20 A20.30 20.30 0 0 1 557.47 96.72 Z" fill="#00ACF0" stroke="#fff" stroke-width="0.40" stroke-linejoin="round"/>
<path d="M552.90 116.50 L557.47 96.72 A20.30 20.30 0 0 1 572.51 121.75 Z" fill="#F7C4AC" stroke="#fff" stroke-width="0.40" stroke-linejoin="round"/>
<path d="M552.90 116.50 L572.51 121.75 A20.30 20.30 0 0 1 570.48 126.65 Z" fill="#618D70" stroke="#fff" stroke-width="0.40" stroke-linejoin="round"/>
<path d="M552.90 116.50 L570.48 126.65 A20.30 20.30 0 1 1 552.90 96.20 Z" fill="#BABCF7" stroke="#fff" stroke-width="0.40" stroke-linejoin="round"/>
<circle cx="536.20" cy="159.80" r="4.45" fill="none" stroke="#fff" stroke-width="3.11"/>
<circle cx="536.20" cy="159.80" r="4.45" fill="none" stroke="#BABCF7" stroke-width="2.30"/>
<line x1="536.20" y1="156.50" x2="536.20" y2="154.20" stroke="#fff" stroke-width="0.45" stroke-opacity="0.85"/>
<path d="M548.80 159.80 L548.80 154.20 A5.60 5.60 0 0 1 548.80 165.40 Z" fill="#F7C4AC" stroke="#fff" stroke-width="0.40" stroke-linejoin="round"/>
<path d="M548.80 159.80 L548.80 165.40 A5.60 5.60 0 0 1 548.80 154.20 Z" fill="#618D70" stroke="#fff" stroke-width="0.40" stroke-linejoin="round"/>
<circle cx="601.30" cy="201.40" r="5.17" fill="none" stroke="#fff" stroke-width="1.66"/>
<circle cx="601.30" cy="201.40" r="5.17" fill="none" stroke="#BABCF7" stroke-width="0.85"/>
<line x1="601.30" y1="196.65" x2="601.30" y2="195.80" stroke="#fff" stroke-width="0.45" stroke-opacity="0.85"/>
<circle cx="613.40" cy="201.40" r="5.60" fill="#BABCF7" stroke="#fff" stroke-width="0.40"/>
<line x1="613.40" y1="201.40" x2="613.40" y2="195.80" stroke="#fff" stroke-width="0.40" stroke-opacity="0.85"/>
<circle cx="650.50" cy="191.70" r="4.45" fill="none" stroke="#fff" stroke-width="3.11"/>
<circle cx="650.50" cy="191.70" r="4.45" fill="none" stroke="#BABCF7" stroke-width="2.30"/>
<line x1="650.50" y1="188.40" x2="650.50" y2="186.10" stroke="#fff" stroke-width="0.45" stroke-opacity="0.85"/>
<circle cx="662.80" cy="191.70" r="5.60" fill="#F7C4AC" stroke="#fff" stroke-width="0.40"/>
<line x1="662.80" y1="191.70" x2="662.80" y2="186.10" stroke="#fff" stroke-width="0.40" stroke-opacity="0.85"/>
<circle cx="609.20" cy="234.40" r="4.45" fill="none" stroke="#fff" stroke-width="3.11"/>
<circle cx="609.20" cy="234.40" r="4.45" fill="none" stroke="#BABCF7" stroke-width="2.30"/>
<line x1="609.20" y1="231.10" x2="609.20" y2="228.80" stroke="#fff" stroke-width="0.45" stroke-opacity="0.85"/>
<circle cx="643.30" cy="233.30" r="5.17" fill="none" stroke="#fff" stroke-width="1.66"/>
<circle cx="643.30" cy="233.30" r="5.17" fill="none" stroke="#F7C4AC" stroke-width="0.85"/>
<line x1="643.30" y1="228.55" x2="643.30" y2="227.70" stroke="#fff" stroke-width="0.45" stroke-opacity="0.85"/>
<circle cx="643.30" cy="233.30" r="1.75" fill="#000"/>
<path d="M661.20 222.70 A10.80 10.80 0 1 1 651.58 228.60 L655.85 230.78 A6.00 6.00 0 1 0 661.20 227.50 Z" fill="#BABCF7" stroke="#fff" stroke-width="0.45" stroke-linejoin="round"/>
<path d="M651.58 228.60 A10.80 10.80 0 0 1 661.20 222.70 L661.20 227.50 A6.00 6.00 0 0 0 655.85 230.78 Z" fill="#618D70" stroke="#fff" stroke-width="0.45" stroke-linejoin="round"/>
<path d="M684.40 233.50 L684.40 222.70 A10.80 10.80 0 1 1 678.68 224.34 Z" fill="#F7C4AC" stroke="#fff" stroke-width="0.40" stroke-linejoin="round"/>
<path d="M684.40 233.50 L678.68 224.34 A10.80 10.80 0 0 1 684.40 222.70 Z" fill="#618D70" stroke="#fff" stroke-width="0.40" stroke-linejoin="round"/>
<circle cx="631.10" cy="259.80" r="5.17" fill="none" stroke="#fff" stroke-width="1.66"/>
<circle cx="631.10" cy="259.80" r="5.17" fill="none" stroke="#F7C4AC" stroke-width="0.85"/>
<line x1="631.10" y1="255.05" x2="631.10" y2="254.20" stroke="#fff" stroke-width="0.45" stroke-opacity="0.85"/>
<circle cx="643.40" cy="259.80" r="5.60" fill="#F7C4AC" stroke="#fff" stroke-width="0.40"/>
<line x1="643.40" y1="259.80" x2="643.40" y2="254.20" stroke="#fff" stroke-width="0.40" stroke-opacity="0.85"/>
<path d="M565.40 324.30 A5.60 5.60 0 0 1 570.66 331.82 L568.50 331.03 A3.30 3.30 0 0 0 565.40 326.60 Z" fill="#F7C4AC" stroke="#fff" stroke-width="0.45" stroke-linejoin="round"/>
<path d="M568.20 334.75 A5.60 5.60 0 0 1 563.03 334.98 L564.01 332.89 A3.30 3.30 0 0 0 567.05 332.76 Z" fill="#000000" stroke="#fff" stroke-width="0.45" stroke-linejoin="round"/>
<path d="M563.03 334.98 A5.60 5.60 0 0 1 560.14 327.98 L562.30 328.77 A3.30 3.30 0 0 0 564.01 332.89 Z" fill="#618D70" stroke="#fff" stroke-width="0.45" stroke-linejoin="round"/>
<path d="M560.14 327.98 A5.60 5.60 0 0 1 565.40 324.30 L565.40 326.60 A3.30 3.30 0 0 0 562.30 328.77 Z" fill="#BABCF7" stroke="#fff" stroke-width="0.45" stroke-linejoin="round"/>
<path d="M592.50 328.40 L592.50 308.10 A20.30 20.30 0 1 1 572.40 331.23 Z" fill="#F7C4AC" stroke="#fff" stroke-width="0.40" stroke-linejoin="round"/>
<path d="M592.50 328.40 L572.40 331.23 A20.30 20.30 0 0 1 587.93 308.62 Z" fill="#BABCF7" stroke="#fff" stroke-width="0.40" stroke-linejoin="round"/>
<path d="M592.50 328.40 L587.93 308.62 A20.30 20.30 0 0 1 592.50 308.10 Z" fill="#806000" stroke="#fff" stroke-width="0.40" stroke-linejoin="round"/>
<circle cx="623.40" cy="312.30" r="5.17" fill="none" stroke="#fff" stroke-width="1.66"/>
<circle cx="623.40" cy="312.30" r="5.17" fill="none" stroke="#618D70" stroke-width="0.85"/>
<line x1="623.40" y1="307.55" x2="623.40" y2="306.70" stroke="#fff" stroke-width="0.45" stroke-opacity="0.85"/>
<circle cx="635.60" cy="312.30" r="4.45" fill="none" stroke="#fff" stroke-width="3.11"/>
<circle cx="635.60" cy="312.30" r="4.45" fill="none" stroke="#BABCF7" stroke-width="2.30"/>
<line x1="635.60" y1="309.00" x2="635.60" y2="306.70" stroke="#fff" stroke-width="0.45" stroke-opacity="0.85"/>
<circle cx="647.90" cy="312.30" r="5.60" fill="#BABCF7" stroke="#fff" stroke-width="0.40"/>
<line x1="647.90" y1="312.30" x2="647.90" y2="306.70" stroke="#fff" stroke-width="0.40" stroke-opacity="0.85"/>
<path d="M765.00 60.11 A5.60 5.60 0 0 1 773.86 62.48 L773.06 62.78 A4.75 4.75 0 0 0 765.55 60.76 Z" fill="#00ACF0" stroke="#fff" stroke-width="0.45" stroke-linejoin="round"/>
<path d="M773.86 62.48 A5.60 5.60 0 1 1 765.00 60.11 L765.55 60.76 A4.75 4.75 0 1 0 773.06 62.78 Z" fill="#F7C4AC" stroke="#fff" stroke-width="0.45" stroke-linejoin="round"/>
<circle cx="768.60" cy="64.40" r="1.75" fill="#000"/>
<circle cx="768.60" cy="76.20" r="5.17" fill="none" stroke="#fff" stroke-width="1.66"/>
<circle cx="768.60" cy="76.20" r="5.17" fill="none" stroke="#F7C4AC" stroke-width="0.85"/>
<line x1="768.60" y1="71.45" x2="768.60" y2="70.60" stroke="#fff" stroke-width="0.45" stroke-opacity="0.85"/>
<path d="M796.50 50.50 A20.30 20.30 0 0 1 799.33 90.90 L797.89 80.70 A10.00 10.00 0 0 0 796.50 60.80 Z" fill="#F7C4AC" stroke="#fff" stroke-width="0.45" stroke-linejoin="round"/>
<path d="M799.33 90.90 A20.30 20.30 0 0 1 776.89 65.55 L786.84 68.21 A10.00 10.00 0 0 0 797.89 80.70 Z" fill="#618D70" stroke="#fff" stroke-width="0.45" stroke-linejoin="round"/>
<path d="M776.89 65.55 A20.30 20.30 0 0 1 789.56 51.72 L793.08 61.40 A10.00 10.00 0 0 0 786.84 68.21 Z" fill="#BABCF7" stroke="#fff" stroke-width="0.45" stroke-linejoin="round"/>
<path d="M789.56 51.72 A20.30 20.30 0 0 1 794.03 50.65 L795.28 60.87 A10.00 10.00 0 0 0 793.08 61.40 Z" fill="#00ACF0" stroke="#fff" stroke-width="0.45" stroke-linejoin="round"/>
<path d="M794.03 50.65 A20.30 20.30 0 0 1 796.50 50.50 L796.50 60.80 A10.00 10.00 0 0 0 795.28 60.87 Z" fill="#806000" stroke="#fff" stroke-width="0.45" stroke-linejoin="round"/>
<path d="M838.20 70.80 L838.20 50.50 A20.30 20.30 0 0 1 847.73 52.88 Z" fill="#DE6E07" stroke="#fff" stroke-width="0.40" stroke-linejoin="round"/>
<path d="M838.20 70.80 L847.73 52.88 A20.30 20.30 0 1 1 819.25 78.07 Z" fill="#F7C4AC" stroke="#fff" stroke-width="0.40" stroke-linejoin="round"/>
<path d="M838.20 70.80 L819.25 78.07 A20.30 20.30 0 0 1 818.42 75.37 Z" fill="#618D70" stroke="#fff" stroke-width="0.40" stroke-linejoin="round"/>
<path d="M838.20 70.80 L818.42 75.37 A20.30 20.30 0 0 1 838.20 50.50 Z" fill="#BABCF7" stroke="#fff" stroke-width="0.40" stroke-linejoin="round"/>
<path d="M874.10 98.70 A10.80 10.80 0 0 1 884.37 112.84 L879.81 111.35 A6.00 6.00 0 0 0 874.10 103.50 Z" fill="#DE6E07" stroke="#fff" stroke-width="0.45" stroke-linejoin="round"/>
<path d="M884.37 112.84 A10.80 10.80 0 0 1 864.94 115.22 L869.01 112.68 A6.00 6.00 0 0 0 879.81 111.35 Z" fill="#F7C4AC" stroke="#fff" stroke-width="0.45" stroke-linejoin="round"/>
<path d="M864.94 115.22 A10.80 10.80 0 0 1 864.16 105.28 L868.58 107.16 A6.00 6.00 0 0 0 869.01 112.68 Z" fill="#618D70" stroke="#fff" stroke-width="0.45" stroke-linejoin="round"/>
<path d="M864.16 105.28 A10.80 10.80 0 0 1 874.10 98.70 L874.10 103.50 A6.00 6.00 0 0 0 868.58 107.16 Z" fill="#BABCF7" stroke="#fff" stroke-width="0.45" stroke-linejoin="round"/>
<circle cx="891.30" cy="109.50" r="5.60" fill="#F7C4AC" stroke="#fff" stroke-width="0.40"/>
<line x1="891.30" y1="109.50" x2="891.30" y2="103.90" stroke="#fff" stroke-width="0.40" stroke-opacity="0.85"/>
<path d="M882.22 125.94 A5.60 5.60 0 0 1 885.81 132.17 L884.98 132.02 A4.75 4.75 0 0 0 881.92 126.74 Z" fill="#00ACF0" stroke="#fff" stroke-width="0.45" stroke-linejoin="round"/>
<path d="M885.81 132.17 A5.60 5.60 0 1 1 882.22 125.94 L881.92 126.74 A4.75 4.75 0 1 0 884.98 132.02 Z" fill="#F7C4AC" stroke="#fff" stroke-width="0.45" stroke-linejoin="round"/>
<circle cx="880.30" cy="131.20" r="1.75" fill="#000"/>
<circle cx="891.70" cy="131.20" r="4.45" fill="none" stroke="#fff" stroke-width="3.11"/>
<circle cx="891.70" cy="131.20" r="4.45" fill="none" stroke="#F7C4AC" stroke-width="2.30"/>
<line x1="891.70" y1="127.90" x2="891.70" y2="125.60" stroke="#fff" stroke-width="0.45" stroke-opacity="0.85"/>
<circle cx="904.30" cy="131.20" r="5.60" fill="#F7C4AC" stroke="#fff" stroke-width="0.40"/>
<line x1="904.30" y1="131.20" x2="904.30" y2="125.60" stroke="#fff" stroke-width="0.40" stroke-opacity="0.85"/>
<circle cx="920.60" cy="131.20" r="5.17" fill="none" stroke="#fff" stroke-width="1.66"/>
<circle cx="920.60" cy="131.20" r="5.17" fill="none" stroke="#F7C4AC" stroke-width="0.85"/>
<line x1="920.60" y1="126.45" x2="920.60" y2="125.60" stroke="#fff" stroke-width="0.45" stroke-opacity="0.85"/>
<circle cx="920.60" cy="131.20" r="1.75" fill="#000"/>
<circle cx="932.90" cy="131.20" r="4.45" fill="none" stroke="#fff" stroke-width="3.11"/>
<circle cx="932.90" cy="131.20" r="4.45" fill="none" stroke="#F7C4AC" stroke-width="2.30"/>
<line x1="932.90" y1="127.90" x2="932.90" y2="125.60" stroke="#fff" stroke-width="0.45" stroke-opacity="0.85"/>
<circle cx="945.00" cy="131.20" r="5.60" fill="#F7C4AC" stroke="#fff" stroke-width="0.40"/>
<line x1="945.00" y1="131.20" x2="945.00" y2="125.60" stroke="#fff" stroke-width="0.40" stroke-opacity="0.85"/>
<path d="M870.80 148.20 L871.29 142.62 A5.60 5.60 0 0 1 876.21 146.75 Z" fill="#00ACF0" stroke="#fff" stroke-width="0.40" stroke-linejoin="round"/>
<path d="M870.80 148.20 L876.21 146.75 A5.60 5.60 0 1 1 871.29 142.62 Z" fill="#F7C4AC" stroke="#fff" stroke-width="0.40" stroke-linejoin="round"/>
<circle cx="911.50" cy="145.10" r="5.60" fill="#F7C4AC" stroke="#fff" stroke-width="0.40"/>
<line x1="911.50" y1="145.10" x2="911.50" y2="139.50" stroke="#fff" stroke-width="0.40" stroke-opacity="0.85"/>
<circle cx="864.80" cy="178.90" r="4.45" fill="none" stroke="#fff" stroke-width="3.11"/>
<circle cx="864.80" cy="178.90" r="4.45" fill="none" stroke="#00ACF0" stroke-width="2.30"/>
<line x1="864.80" y1="175.60" x2="864.80" y2="173.30" stroke="#fff" stroke-width="0.45" stroke-opacity="0.85"/>
<circle cx="814.30" cy="185.90" r="5.60" fill="#F7C4AC" stroke="#fff" stroke-width="0.40"/>
<line x1="814.30" y1="185.90" x2="814.30" y2="180.30" stroke="#fff" stroke-width="0.40" stroke-opacity="0.85"/>
<circle cx="827.00" cy="196.20" r="5.60" fill="#F7C4AC" stroke="#fff" stroke-width="0.40"/>
<line x1="827.00" y1="196.20" x2="827.00" y2="190.60" stroke="#fff" stroke-width="0.40" stroke-opacity="0.85"/>
<circle cx="874.40" cy="203.90" r="15.50" fill="#F7C4AC" stroke="#fff" stroke-width="0.40"/>
<line x1="874.40" y1="203.90" x2="874.40" y2="188.40" stroke="#fff" stroke-width="0.40" stroke-opacity="0.85"/>
<circle cx="859.10" cy="245.70" r="4.45" fill="none" stroke="#fff" stroke-width="3.11"/>
<circle cx="859.10" cy="245.70" r="4.45" fill="none" stroke="#00ACF0" stroke-width="2.30"/>
<line x1="859.10" y1="242.40" x2="859.10" y2="240.10" stroke="#fff" stroke-width="0.45" stroke-opacity="0.85"/>
<circle cx="871.70" cy="245.70" r="5.60" fill="#F7C4AC" stroke="#fff" stroke-width="0.40"/>
<line x1="871.70" y1="245.70" x2="871.70" y2="240.10" stroke="#fff" stroke-width="0.40" stroke-opacity="0.85"/>
<circle cx="870.90" cy="258.60" r="5.60" fill="#F7C4AC" stroke="#fff" stroke-width="0.40"/>
<line x1="870.90" y1="258.60" x2="870.90" y2="253.00" stroke="#fff" stroke-width="0.40" stroke-opacity="0.85"/>
<circle cx="915.40" cy="249.90" r="5.60" fill="#F7C4AC" stroke="#fff" stroke-width="0.40"/>
<line x1="915.40" y1="249.90" x2="915.40" y2="244.30" stroke="#fff" stroke-width="0.40" stroke-opacity="0.85"/>
<circle cx="868.30" cy="285.20" r="5.60" fill="#F7C4AC" stroke="#fff" stroke-width="0.40"/>
<line x1="868.30" y1="285.20" x2="868.30" y2="279.60" stroke="#fff" stroke-width="0.40" stroke-opacity="0.85"/>
<path d="M844.00 291.10 A5.60 5.60 0 0 1 849.26 294.78 L847.10 295.57 A3.30 3.30 0 0 0 844.00 293.40 Z" fill="#00ACF0" stroke="#fff" stroke-width="0.45" stroke-linejoin="round"/>
<path d="M849.26 294.78 A5.60 5.60 0 0 1 844.97 302.21 L844.57 299.95 A3.30 3.30 0 0 0 847.10 295.57 Z" fill="#F7C4AC" stroke="#fff" stroke-width="0.45" stroke-linejoin="round"/>
<path d="M844.97 302.21 A5.60 5.60 0 0 1 838.40 296.70 L840.70 296.70 A3.30 3.30 0 0 0 844.57 299.95 Z" fill="#618D70" stroke="#fff" stroke-width="0.45" stroke-linejoin="round"/>
<path d="M838.40 296.70 A5.60 5.60 0 0 1 844.00 291.10 L844.00 293.40 A3.30 3.30 0 0 0 840.70 296.70 Z" fill="#BABCF7" stroke="#fff" stroke-width="0.45" stroke-linejoin="round"/>
<circle cx="856.30" cy="296.70" r="5.60" fill="#F7C4AC" stroke="#fff" stroke-width="0.40"/>
<line x1="856.30" y1="296.70" x2="856.30" y2="291.10" stroke="#fff" stroke-width="0.40" stroke-opacity="0.85"/>
<path d="M964.70 155.70 A10.80 10.80 0 1 1 954.14 168.75 L958.83 167.75 A6.00 6.00 0 1 0 964.70 160.50 Z" fill="#F7C4AC" stroke="#fff" stroke-width="0.45" stroke-linejoin="round"/>
<path d="M954.14 168.75 A10.80 10.80 0 0 1 964.32 155.71 L964.49 160.50 A6.00 6.00 0 0 0 958.83 167.75 Z" fill="#00ACF0" stroke="#fff" stroke-width="0.45" stroke-linejoin="round"/>
<circle cx="1054.40" cy="58.10" r="4.45" fill="none" stroke="#fff" stroke-width="3.11"/>
<circle cx="1054.40" cy="58.10" r="4.45" fill="none" stroke="#618D70" stroke-width="2.30"/>
<line x1="1054.40" y1="54.80" x2="1054.40" y2="52.50" stroke="#fff" stroke-width="0.45" stroke-opacity="0.85"/>
<circle cx="1066.70" cy="58.10" r="5.60" fill="#F7C4AC" stroke="#fff" stroke-width="0.40"/>
<line x1="1066.70" y1="58.10" x2="1066.70" y2="52.50" stroke="#fff" stroke-width="0.40" stroke-opacity="0.85"/>
<circle cx="1000.00" cy="133.80" r="4.45" fill="none" stroke="#fff" stroke-width="3.11"/>
<circle cx="1000.00" cy="133.80" r="4.45" fill="none" stroke="#BABCF7" stroke-width="2.30"/>
<line x1="1000.00" y1="130.50" x2="1000.00" y2="128.20" stroke="#fff" stroke-width="0.45" stroke-opacity="0.85"/>
<circle cx="1025.50" cy="123.90" r="5.17" fill="none" stroke="#fff" stroke-width="1.66"/>
<circle cx="1025.50" cy="123.90" r="5.17" fill="none" stroke="#00ACF0" stroke-width="0.85"/>
<line x1="1025.50" y1="119.15" x2="1025.50" y2="118.30" stroke="#fff" stroke-width="0.45" stroke-opacity="0.85"/>
<circle cx="1025.50" cy="123.90" r="1.75" fill="#000"/>
<circle cx="1037.80" cy="123.90" r="5.17" fill="none" stroke="#fff" stroke-width="1.66"/>
<circle cx="1037.80" cy="123.90" r="5.17" fill="none" stroke="#F7C4AC" stroke-width="0.85"/>
<line x1="1037.80" y1="119.15" x2="1037.80" y2="118.30" stroke="#fff" stroke-width="0.45" stroke-opacity="0.85"/>
<path d="M1050.80 118.30 A5.60 5.60 0 1 1 1045.39 125.35 L1047.61 124.75 A3.30 3.30 0 1 0 1050.80 120.60 Z" fill="#618D70" stroke="#fff" stroke-width="0.45" stroke-linejoin="round"/>
<path d="M1045.39 125.35 A5.60 5.60 0 0 1 1049.35 118.49 L1049.95 120.71 A3.30 3.30 0 0 0 1047.61 124.75 Z" fill="#806000" stroke="#fff" stroke-width="0.45" stroke-linejoin="round"/>
<circle cx="1073.50" cy="123.90" r="15.50" fill="#F7C4AC" stroke="#fff" stroke-width="0.40"/>
<line x1="1073.50" y1="123.90" x2="1073.50" y2="108.40" stroke="#fff" stroke-width="0.40" stroke-opacity="0.85"/>
<circle cx="1114.30" cy="119.60" r="4.45" fill="none" stroke="#fff" stroke-width="3.11"/>
<circle cx="1114.30" cy="119.60" r="4.45" fill="none" stroke="#618D70" stroke-width="2.30"/>
<line x1="1114.30" y1="116.30" x2="1114.30" y2="114.00" stroke="#fff" stroke-width="0.45" stroke-opacity="0.85"/>
<circle cx="1145.50" cy="119.60" r="4.45" fill="none" stroke="#fff" stroke-width="3.11"/>
<circle cx="1145.50" cy="119.60" r="4.45" fill="none" stroke="#F7C4AC" stroke-width="2.30"/>
<line x1="1145.50" y1="116.30" x2="1145.50" y2="114.00" stroke="#fff" stroke-width="0.45" stroke-opacity="0.85"/>
<circle cx="986.40" cy="147.20" r="5.17" fill="none" stroke="#fff" stroke-width="1.66"/>
<circle cx="986.40" cy="147.20" r="5.17" fill="none" stroke="#00ACF0" stroke-width="0.85"/>
<line x1="986.40" y1="142.45" x2="986.40" y2="141.60" stroke="#fff" stroke-width="0.45" stroke-opacity="0.85"/>
<circle cx="986.40" cy="147.20" r="1.75" fill="#000"/>
<circle cx="998.80" cy="147.20" r="5.17" fill="none" stroke="#fff" stroke-width="1.66"/>
<circle cx="998.80" cy="147.20" r="5.17" fill="none" stroke="#F7C4AC" stroke-width="0.85"/>
<line x1="998.80" y1="142.45" x2="998.80" y2="141.60" stroke="#fff" stroke-width="0.45" stroke-opacity="0.85"/>
<circle cx="1000.10" cy="175.30" r="20.30" fill="#F7C4AC" stroke="#fff" stroke-width="0.40"/>
<line x1="1000.10" y1="175.30" x2="1000.10" y2="155.00" stroke="#fff" stroke-width="0.40" stroke-opacity="0.85"/>
<circle cx="1020.30" cy="151.40" r="4.45" fill="none" stroke="#fff" stroke-width="3.11"/>
<circle cx="1020.30" cy="151.40" r="4.45" fill="none" stroke="#F7C4AC" stroke-width="2.30"/>
<line x1="1020.30" y1="148.10" x2="1020.30" y2="145.80" stroke="#fff" stroke-width="0.45" stroke-opacity="0.85"/>
<circle cx="1037.70" cy="151.40" r="10.80" fill="#F7C4AC" stroke="#fff" stroke-width="0.40"/>
<line x1="1037.70" y1="151.40" x2="1037.70" y2="140.60" stroke="#fff" stroke-width="0.40" stroke-opacity="0.85"/>
<circle cx="1062.30" cy="214.40" r="5.17" fill="none" stroke="#fff" stroke-width="1.66"/>
<circle cx="1062.30" cy="214.40" r="5.17" fill="none" stroke="#00ACF0" stroke-width="0.85"/>
<line x1="1062.30" y1="209.65" x2="1062.30" y2="208.80" stroke="#fff" stroke-width="0.45" stroke-opacity="0.85"/>
<circle cx="1062.30" cy="214.40" r="1.75" fill="#000"/>
<path d="M1087.50 203.60 A10.80 10.80 0 1 1 1083.81 224.55 L1085.45 220.04 A6.00 6.00 0 1 0 1087.50 208.40 Z" fill="#F7C4AC" stroke="#fff" stroke-width="0.45" stroke-linejoin="round"/>
<path d="M1083.81 224.55 A10.80 10.80 0 0 1 1084.70 203.97 L1085.95 208.60 A6.00 6.00 0 0 0 1085.45 220.04 Z" fill="#618D70" stroke="#fff" stroke-width="0.45" stroke-linejoin="round"/>
<path d="M1084.70 203.97 A10.80 10.80 0 0 1 1087.50 203.60 L1087.50 208.40 A6.00 6.00 0 0 0 1085.95 208.60 Z" fill="#F7C4AC" stroke="#fff" stroke-width="0.45" stroke-linejoin="round"/>
<path d="M1121.20 214.40 L1121.20 198.90 A15.50 15.50 0 1 1 1110.83 202.88 Z" fill="#F7C4AC" stroke="#fff" stroke-width="0.40" stroke-linejoin="round"/>
<path d="M1121.20 214.40 L1110.83 202.88 A15.50 15.50 0 0 1 1121.20 198.90 Z" fill="#618D70" stroke="#fff" stroke-width="0.40" stroke-linejoin="round"/>
<path d="M1133.60 261.60 L1133.60 250.60 A11.00 11.00 0 0 1 1144.43 263.51 Z" fill="#F7C4AC" stroke="#fff" stroke-width="0.40" stroke-linejoin="round"/>
<path d="M1133.60 261.60 L1144.43 263.51 A11.00 11.00 0 1 1 1133.60 250.60 Z" fill="#BABCF7" stroke="#fff" stroke-width="0.40" stroke-linejoin="round"/>
<circle cx="1207.60" cy="258.70" r="5.60" fill="#F7C4AC" stroke="#fff" stroke-width="0.40"/>
<line x1="1207.60" y1="258.70" x2="1207.60" y2="253.10" stroke="#fff" stroke-width="0.40" stroke-opacity="0.85"/>
<path d="M1210.90 315.80 A5.60 5.60 0 1 1 1206.05 324.20 L1208.04 323.05 A3.30 3.30 0 1 0 1210.90 318.10 Z" fill="#00ACF0" stroke="#fff" stroke-width="0.45" stroke-linejoin="round"/>
<path d="M1206.05 324.20 A5.60 5.60 0 0 1 1210.90 315.80 L1210.90 318.10 A3.30 3.30 0 0 0 1208.04 323.05 Z" fill="#F7C4AC" stroke="#fff" stroke-width="0.45" stroke-linejoin="round"/>
<path d="M1223.40 321.40 L1223.40 315.80 A5.60 5.60 0 1 1 1218.32 323.77 Z" fill="#F7C4AC" stroke="#fff" stroke-width="0.40" stroke-linejoin="round"/>
<path d="M1223.40 321.40 L1218.32 323.77 A5.60 5.60 0 0 1 1223.40 315.80 Z" fill="#BABCF7" stroke="#fff" stroke-width="0.40" stroke-linejoin="round"/>
<text transform="translate(495.6 61.6) scale(1.050 1)" font-size="14.67" text-anchor="start" stroke="#fff" stroke-width="1.8" stroke-opacity="0.55" paint-order="stroke" stroke-linejoin="round">Canada</text>
<text transform="translate(575.1 119.1) scale(1.050 1)" font-size="14.67" text-anchor="start" stroke="#fff" stroke-width="1.8" stroke-opacity="0.55" paint-order="stroke" stroke-linejoin="round">U.S.A.</text>
<text transform="translate(518.8 153.2) scale(1.050 1)" font-size="14.67" text-anchor="start" stroke="#fff" stroke-width="1.8" stroke-opacity="0.55" paint-order="stroke" stroke-linejoin="round">Mexico</text>
<text transform="translate(554.1 194.2) scale(1.050 1)" font-size="14.67" text-anchor="start" stroke="#fff" stroke-width="1.8" stroke-opacity="0.55" paint-order="stroke" stroke-linejoin="round">Colombia</text>
<text transform="translate(629.9 208.4) scale(1.050 1)" font-size="14.67" text-anchor="start" stroke="#fff" stroke-width="1.8" stroke-opacity="0.55" paint-order="stroke" stroke-linejoin="round">French Guiana</text>
<text transform="translate(649.0 220.9) scale(1.050 1)" font-size="14.67" text-anchor="start" stroke="#fff" stroke-width="1.8" stroke-opacity="0.55" paint-order="stroke" stroke-linejoin="round">Brazil</text>
<text transform="translate(592.2 228.1) scale(1.050 1)" font-size="14.67" text-anchor="start" stroke="#fff" stroke-width="1.8" stroke-opacity="0.55" paint-order="stroke" stroke-linejoin="round">Peru</text>
<text transform="translate(613.5 252.3) scale(1.050 1)" font-size="14.67" text-anchor="start" stroke="#fff" stroke-width="1.8" stroke-opacity="0.55" paint-order="stroke" stroke-linejoin="round">Bolivia</text>
<text transform="translate(560.4 307.1) scale(1.050 1)" font-size="14.67" text-anchor="start" stroke="#fff" stroke-width="1.8" stroke-opacity="0.55" paint-order="stroke" stroke-linejoin="round">Chile</text>
<text transform="translate(608.8 302.8) scale(1.050 1)" font-size="14.67" text-anchor="start" stroke="#fff" stroke-width="1.8" stroke-opacity="0.55" paint-order="stroke" stroke-linejoin="round">Argentina</text>
<text transform="translate(1037.5 51.3) scale(1.050 1)" font-size="14.67" text-anchor="start" stroke="#fff" stroke-width="1.8" stroke-opacity="0.55" paint-order="stroke" stroke-linejoin="round">Russia</text>
<text transform="translate(861.7 97.3) scale(1.050 1)" font-size="14.67" text-anchor="start" stroke="#fff" stroke-width="1.8" stroke-opacity="0.55" paint-order="stroke" stroke-linejoin="round">Turkey</text>
<text transform="translate(836.9 134.5) scale(1.050 1)" font-size="14.67" text-anchor="start" stroke="#fff" stroke-width="1.8" stroke-opacity="0.55" paint-order="stroke" stroke-linejoin="round">Israel</text>
<text transform="translate(918.9 123.4) scale(1.050 1)" font-size="14.67" text-anchor="start" stroke="#fff" stroke-width="1.8" stroke-opacity="0.55" paint-order="stroke" stroke-linejoin="round">Iran</text>
<text transform="translate(823.0 151.7) scale(1.050 1)" font-size="14.67" text-anchor="start" stroke="#fff" stroke-width="1.8" stroke-opacity="0.55" paint-order="stroke" stroke-linejoin="round">Egypt</text>
<text transform="translate(893.3 161.0) scale(1.050 1)" font-size="14.67" text-anchor="start" stroke="#fff" stroke-width="1.8" stroke-opacity="0.55" paint-order="stroke" stroke-linejoin="round">Saudi</text>
<text transform="translate(893.3 173.5) scale(1.050 1)" font-size="14.67" text-anchor="start" stroke="#fff" stroke-width="1.8" stroke-opacity="0.55" paint-order="stroke" stroke-linejoin="round">Arabia</text>
<text transform="translate(842.3 171.3) scale(1.050 1)" font-size="14.67" text-anchor="start" stroke="#fff" stroke-width="1.8" stroke-opacity="0.55" paint-order="stroke" stroke-linejoin="round">Sudan</text>
<text transform="translate(786.9 178.5) scale(1.050 1)" font-size="14.67" text-anchor="start" stroke="#fff" stroke-width="1.8" stroke-opacity="0.55" paint-order="stroke" stroke-linejoin="round">Nigeria</text>
<text transform="translate(770.9 211.2) scale(1.050 1)" font-size="14.67" text-anchor="start" stroke="#fff" stroke-width="1.8" stroke-opacity="0.55" paint-order="stroke" stroke-linejoin="round">Cameroon</text>
<text transform="translate(890.7 205.0) scale(1.050 1)" font-size="14.67" text-anchor="start" stroke="#fff" stroke-width="1.8" stroke-opacity="0.55" paint-order="stroke" stroke-linejoin="round">Lake Victoria</text>
<text transform="translate(891.2 223.5) scale(1.050 1)" font-size="14.67" text-anchor="start" stroke="#fff" stroke-width="1.8" stroke-opacity="0.55" paint-order="stroke" stroke-linejoin="round">Region</text>
<text transform="translate(800.0 250.4) scale(1.050 1)" font-size="14.67" text-anchor="start" stroke="#fff" stroke-width="1.8" stroke-opacity="0.55" paint-order="stroke" stroke-linejoin="round">Zambia</text>
<text transform="translate(792.6 264.7) scale(1.050 1)" font-size="14.67" text-anchor="start" stroke="#fff" stroke-width="1.8" stroke-opacity="0.55" paint-order="stroke" stroke-linejoin="round">Zimbabwe</text>
<text transform="translate(882.4 267.9) scale(1.050 1)" font-size="14.67" text-anchor="start" stroke="#fff" stroke-width="1.8" stroke-opacity="0.55" paint-order="stroke" stroke-linejoin="round">Madagascar</text>
<text transform="translate(874.8 291.0) scale(1.050 1)" font-size="14.67" text-anchor="start" stroke="#fff" stroke-width="1.8" stroke-opacity="0.55" paint-order="stroke" stroke-linejoin="round">Lesotho</text>
<text transform="translate(807.0 315.2) scale(1.050 1)" font-size="14.67" text-anchor="start" stroke="#fff" stroke-width="1.8" stroke-opacity="0.55" paint-order="stroke" stroke-linejoin="round">South Africa</text>
<text transform="translate(958.9 127.0) scale(1.050 1)" font-size="14.67" text-anchor="start" stroke="#fff" stroke-width="1.8" stroke-opacity="0.55" paint-order="stroke" stroke-linejoin="round">Pakistan</text>
<text transform="translate(1018.2 115.9) scale(1.050 1)" font-size="14.67" text-anchor="start" stroke="#fff" stroke-width="1.8" stroke-opacity="0.55" paint-order="stroke" stroke-linejoin="round">China</text>
<text transform="translate(1093.2 99.1) scale(1.050 1)" font-size="14.67" text-anchor="start" stroke="#fff" stroke-width="1.8" stroke-opacity="0.55" paint-order="stroke" stroke-linejoin="round">South</text>
<text transform="translate(1093.6 111.5) scale(1.050 1)" font-size="14.67" text-anchor="start" stroke="#fff" stroke-width="1.8" stroke-opacity="0.55" paint-order="stroke" stroke-linejoin="round">Korea</text>
<text transform="translate(1124.1 134.8) scale(1.050 1)" font-size="14.67" text-anchor="start" stroke="#fff" stroke-width="1.8" stroke-opacity="0.55" paint-order="stroke" stroke-linejoin="round">Japan</text>
<text transform="translate(1048.4 156.7) scale(1.050 1)" font-size="14.67" text-anchor="start" stroke="#fff" stroke-width="1.8" stroke-opacity="0.55" paint-order="stroke" stroke-linejoin="round">Bangladesh</text>
<text transform="translate(984.9 208.2) scale(1.050 1)" font-size="14.67" text-anchor="start" stroke="#fff" stroke-width="1.8" stroke-opacity="0.55" paint-order="stroke" stroke-linejoin="round">India</text>
<text transform="translate(1148.4 252.0) scale(1.050 1)" font-size="14.67" text-anchor="start" stroke="#fff" stroke-width="1.8" stroke-opacity="0.55" paint-order="stroke" stroke-linejoin="round">New Caledonia</text>
<text transform="translate(1102.9 285.7) scale(1.050 1)" font-size="14.67" text-anchor="start" stroke="#fff" stroke-width="1.8" stroke-opacity="0.55" paint-order="stroke" stroke-linejoin="round">Australia</text>
<text transform="translate(1167.8 340.7) scale(1.050 1)" font-size="14.67" text-anchor="start" stroke="#fff" stroke-width="1.8" stroke-opacity="0.55" paint-order="stroke" stroke-linejoin="round">New Zealand</text>
<text transform="translate(781.9 48.4) scale(1.050 1)" font-size="14.67" font-weight="bold" text-anchor="start" stroke="#fff" stroke-width="1.8" stroke-opacity="0.55" paint-order="stroke" stroke-linejoin="round">Europe</text>
<text transform="translate(1037.3 195.8) scale(1.050 1)" font-size="14.67" font-weight="bold" text-anchor="start" stroke="#fff" stroke-width="1.8" stroke-opacity="0.55" paint-order="stroke" stroke-linejoin="round">Southeast Asia</text>
<line x1="925.3" x2="1109.8" y1="673.6" y2="673.6" stroke="#ebebeb" stroke-width="1.1"/>
<text transform="translate(921.5 677.5) scale(1.045 1)" font-size="14.67" text-anchor="end" fill="#4d4d4d" style="fill:#4d4d4d">0</text>
<line x1="925.3" x2="1109.8" y1="611.0" y2="611.0" stroke="#ebebeb" stroke-width="1.1"/>
<text transform="translate(921.5 614.9) scale(1.045 1)" font-size="14.67" text-anchor="end" fill="#4d4d4d" style="fill:#4d4d4d">25</text>
<line x1="925.3" x2="1109.8" y1="548.4" y2="548.4" stroke="#ebebeb" stroke-width="1.1"/>
<text transform="translate(921.5 552.2) scale(1.045 1)" font-size="14.67" text-anchor="end" fill="#4d4d4d" style="fill:#4d4d4d">50</text>
<line x1="925.3" x2="1109.8" y1="485.7" y2="485.7" stroke="#ebebeb" stroke-width="1.1"/>
<text transform="translate(921.5 489.6) scale(1.045 1)" font-size="14.67" text-anchor="end" fill="#4d4d4d" style="fill:#4d4d4d">75</text>
<line x1="925.3" x2="1109.8" y1="423.1" y2="423.1" stroke="#ebebeb" stroke-width="1.1"/>
<text transform="translate(921.5 427.0) scale(1.045 1)" font-size="14.67" text-anchor="end" fill="#4d4d4d" style="fill:#4d4d4d">100</text>
<defs>
<pattern id="dots" patternUnits="userSpaceOnUse" x="1016.1" y="431.0" width="14.66" height="15.04"><circle cx="0" cy="0" r="1.5" fill="#1c1512"/><circle cx="14.66" cy="0" r="1.5" fill="#1c1512"/><circle cx="0" cy="15.04" r="1.5" fill="#1c1512"/><circle cx="14.66" cy="15.04" r="1.5" fill="#1c1512"/><circle cx="7.33" cy="7.52" r="1.5" fill="#1c1512"/></pattern>
<pattern id="str" patternUnits="userSpaceOnUse" x="1057.27" y="425.6" width="6.04" height="6.04"><path d="M-1 1 L1 -1 M-1 7.04 L7.04 -1 M5.04 7.04 L7.04 5.04" stroke="#111" stroke-width="0.85"/></pattern>
</defs>
<rect x="942.1" y="548.35" width="35.2" height="125.25" fill="#9467BD"/>
<rect x="942.1" y="485.73" width="35.2" height="63.23" fill="#2CA02C"/>
<rect x="942.1" y="485.73" width="35.2" height="62.62" fill="url(#dots)"/>
<rect x="942.1" y="423.10" width="35.2" height="63.23" fill="#1F77B4"/>
<rect x="942.1" y="423.10" width="35.2" height="62.62" fill="url(#dots)"/>
<rect x="1000.1" y="656.82" width="34.8" height="16.78" fill="#9467BD"/>
<rect x="1000.1" y="629.26" width="34.8" height="28.15" fill="#2CA02C"/>
<rect x="1000.1" y="629.26" width="34.8" height="27.55" fill="url(#dots)"/>
<rect x="1000.1" y="603.46" width="34.8" height="26.40" fill="#2CA02C"/>
<rect x="1000.1" y="603.46" width="34.8" height="25.80" fill="url(#str)"/>
<rect x="1000.1" y="430.11" width="34.8" height="173.95" fill="#1F77B4"/>
<rect x="1000.1" y="430.11" width="34.8" height="173.35" fill="url(#dots)"/>
<rect x="1000.1" y="423.10" width="34.8" height="7.61" fill="#1F77B4"/>
<rect x="1000.1" y="423.10" width="34.8" height="7.01" fill="url(#str)"/>
<rect x="1057.3" y="548.35" width="35.6" height="125.25" fill="#9467BD"/>
<rect x="1057.3" y="464.18" width="35.6" height="84.77" fill="#2CA02C"/>
<rect x="1057.3" y="464.18" width="35.6" height="84.17" fill="url(#str)"/>
<rect x="1057.3" y="423.10" width="35.6" height="41.68" fill="#1F77B4"/>
<rect x="1057.3" y="423.10" width="35.6" height="41.08" fill="url(#str)"/>
<text transform="translate(954.2 688) scale(1.045 1)" font-size="14.67" text-anchor="middle" style="fill:#4d4d4d">Low+</text>
<text transform="translate(954.2 706) scale(1.045 1)" font-size="14.67" text-anchor="middle" style="fill:#4d4d4d">(n = 12)</text>
<text transform="translate(1014.5 688) scale(1.045 1)" font-size="14.67" text-anchor="middle" style="fill:#4d4d4d">Medium+</text>
<text transform="translate(1014.5 706) scale(1.045 1)" font-size="14.67" text-anchor="middle" style="fill:#4d4d4d">(n = 162)</text>
<text transform="translate(1077.3 688) scale(1.045 1)" font-size="14.67" text-anchor="middle" style="fill:#4d4d4d">High+</text>
<text transform="translate(1077.3 706) scale(1.045 1)" font-size="14.67" text-anchor="middle" style="fill:#4d4d4d">(n = 237)</text>
<text transform="translate(887.4 723.6) scale(1.049 1)" font-size="14.67" font-weight="bold" text-anchor="start">Magnitude of nature's conribution to people</text>
<text transform="translate(894.5 543.6) rotate(-90) scale(1.043 1)" font-size="14.67" font-weight="bold" text-anchor="middle">Percentage of records (%)</text>
<text transform="translate(1126.3 466.7) scale(1.045 1)" font-size="14.67" text-anchor="start">Confidence level</text>
<rect x="1127.4" y="475.7" width="16.6" height="16.3" fill="#1F77B4"/>
<text transform="translate(1150.4 487.9) scale(1.045 1)" font-size="14.67" text-anchor="start">Weak</text>
<rect x="1127.4" y="503.7" width="16.6" height="16.3" fill="#2CA02C"/>
<text transform="translate(1150.4 515.8) scale(1.045 1)" font-size="14.67" text-anchor="start">Moderate</text>
<rect x="1127.4" y="531.4" width="16.6" height="16.3" fill="#9467BD"/>
<text transform="translate(1150.4 543.5) scale(1.045 1)" font-size="14.67" text-anchor="start">Robust</text>
<text transform="translate(1126.3 566.1) scale(1.045 1)" font-size="14.67" text-anchor="start">Bias direction</text>
<text transform="translate(1150.4 587.6) scale(1.045 1)" font-size="14.67" text-anchor="start">Overestimation</text>
<text transform="translate(1150.4 615.5) scale(1.045 1)" font-size="14.67" text-anchor="start">Underestimation</text>
<g stroke="#333" stroke-width="0.8">
<line x1="1127.4" y1="580.6" x2="1133.4" y2="574.6"/>
<line x1="1127.4" y1="586.2" x2="1139.0" y2="574.6"/>
<line x1="1127.6" y1="591.6" x2="1144.4" y2="574.8"/>
<line x1="1133.2" y1="591.6" x2="1144.4" y2="580.4"/>
</g>
<circle cx="1127.6" cy="604.0" r="0.75" fill="#222"/>
<circle cx="1135.6" cy="604.0" r="0.75" fill="#222"/>
<circle cx="1143.6" cy="604.0" r="0.75" fill="#222"/>
<circle cx="1131.6" cy="608.5" r="0.75" fill="#222"/>
<circle cx="1139.6" cy="608.5" r="0.75" fill="#222"/>
<circle cx="1127.6" cy="613.0" r="0.75" fill="#222"/>
<circle cx="1135.6" cy="613.0" r="0.75" fill="#222"/>
<circle cx="1143.6" cy="613.0" r="0.75" fill="#222"/>
<circle cx="1131.6" cy="617.5" r="0.75" fill="#222"/>
<circle cx="1139.6" cy="617.5" r="0.75" fill="#222"/>
<circle cx="183.50" cy="562.80" r="5.17" fill="none" stroke="#fff" stroke-width="1.66"/>
<circle cx="183.50" cy="562.80" r="5.17" fill="none" stroke="#F7C4AC" stroke-width="0.85"/>
<line x1="183.50" y1="558.05" x2="183.50" y2="557.20" stroke="#fff" stroke-width="0.45" stroke-opacity="0.85"/>
<path d="M196.00 557.20 A5.60 5.60 0 1 1 190.74 560.88 L192.90 561.67 A3.30 3.30 0 1 0 196.00 559.50 Z" fill="#BABCF7" stroke="#fff" stroke-width="0.45" stroke-linejoin="round"/>
<path d="M190.74 560.88 A5.60 5.60 0 0 1 195.03 557.29 L195.43 559.55 A3.30 3.30 0 0 0 192.90 561.67 Z" fill="#806000" stroke="#fff" stroke-width="0.45" stroke-linejoin="round"/>
<circle cx="208.70" cy="562.80" r="5.60" fill="#BABCF7" stroke="#fff" stroke-width="0.40"/>
<line x1="208.70" y1="562.80" x2="208.70" y2="557.20" stroke="#fff" stroke-width="0.40" stroke-opacity="0.85"/>
<circle cx="247.90" cy="556.90" r="5.17" fill="none" stroke="#fff" stroke-width="1.66"/>
<circle cx="247.90" cy="556.90" r="5.17" fill="none" stroke="#F7C4AC" stroke-width="0.85"/>
<line x1="247.90" y1="552.15" x2="247.90" y2="551.30" stroke="#fff" stroke-width="0.45" stroke-opacity="0.85"/>
<circle cx="260.10" cy="556.90" r="4.45" fill="none" stroke="#fff" stroke-width="3.11"/>
<circle cx="260.10" cy="556.90" r="4.45" fill="none" stroke="#00ACF0" stroke-width="2.30"/>
<line x1="260.10" y1="553.60" x2="260.10" y2="551.30" stroke="#fff" stroke-width="0.45" stroke-opacity="0.85"/>
<circle cx="272.50" cy="556.90" r="5.60" fill="#F7C4AC" stroke="#fff" stroke-width="0.40"/>
<line x1="272.50" y1="556.90" x2="272.50" y2="551.30" stroke="#fff" stroke-width="0.40" stroke-opacity="0.85"/>
<circle cx="281.40" cy="524.20" r="5.17" fill="none" stroke="#fff" stroke-width="1.66"/>
<circle cx="281.40" cy="524.20" r="5.17" fill="none" stroke="#F7C4AC" stroke-width="0.85"/>
<line x1="281.40" y1="519.45" x2="281.40" y2="518.60" stroke="#fff" stroke-width="0.45" stroke-opacity="0.85"/>
<circle cx="366.80" cy="464.10" r="5.60" fill="#BABCF7" stroke="#fff" stroke-width="0.40"/>
<line x1="366.80" y1="464.10" x2="366.80" y2="458.50" stroke="#fff" stroke-width="0.40" stroke-opacity="0.85"/>
<circle cx="377.40" cy="513.80" r="4.45" fill="none" stroke="#fff" stroke-width="3.11"/>
<circle cx="377.40" cy="513.80" r="4.45" fill="none" stroke="#F7C4AC" stroke-width="2.30"/>
<line x1="377.40" y1="510.50" x2="377.40" y2="508.20" stroke="#fff" stroke-width="0.45" stroke-opacity="0.85"/>
<circle cx="344.50" cy="554.50" r="4.45" fill="none" stroke="#fff" stroke-width="3.11"/>
<circle cx="344.50" cy="554.50" r="4.45" fill="none" stroke="#F7C4AC" stroke-width="2.30"/>
<line x1="344.50" y1="551.20" x2="344.50" y2="548.90" stroke="#fff" stroke-width="0.45" stroke-opacity="0.85"/>
<circle cx="357.50" cy="554.50" r="5.60" fill="#F7C4AC" stroke="#fff" stroke-width="0.40"/>
<line x1="357.50" y1="554.50" x2="357.50" y2="548.90" stroke="#fff" stroke-width="0.40" stroke-opacity="0.85"/>
<circle cx="311.40" cy="580.20" r="5.60" fill="#F7C4AC" stroke="#fff" stroke-width="0.40"/>
<line x1="311.40" y1="580.20" x2="311.40" y2="574.60" stroke="#fff" stroke-width="0.40" stroke-opacity="0.85"/>
<path d="M326.60 574.60 A5.60 5.60 0 0 1 331.86 582.12 L329.70 581.33 A3.30 3.30 0 0 0 326.60 576.90 Z" fill="#F7C4AC" stroke="#fff" stroke-width="0.45" stroke-linejoin="round"/>
<path d="M331.86 582.12 A5.60 5.60 0 0 1 321.34 582.12 L323.50 581.33 A3.30 3.30 0 0 0 329.70 581.33 Z" fill="#618D70" stroke="#fff" stroke-width="0.45" stroke-linejoin="round"/>
<path d="M321.34 582.12 A5.60 5.60 0 0 1 326.60 574.60 L326.60 576.90 A3.30 3.30 0 0 0 323.50 581.33 Z" fill="#BABCF7" stroke="#fff" stroke-width="0.45" stroke-linejoin="round"/>
<circle cx="338.60" cy="580.20" r="5.60" fill="#F7C4AC" stroke="#fff" stroke-width="0.40"/>
<line x1="338.60" y1="580.20" x2="338.60" y2="574.60" stroke="#fff" stroke-width="0.40" stroke-opacity="0.85"/>
<path d="M288.80 564.70 A15.50 15.50 0 1 1 274.23 585.50 L282.13 582.63 A7.10 7.10 0 1 0 288.80 573.10 Z" fill="#618D70" stroke="#fff" stroke-width="0.45" stroke-linejoin="round"/>
<path d="M274.23 585.50 A15.50 15.50 0 0 1 285.58 565.04 L287.32 573.26 A7.10 7.10 0 0 0 282.13 582.63 Z" fill="#F7C4AC" stroke="#fff" stroke-width="0.45" stroke-linejoin="round"/>
<path d="M285.58 565.04 A15.50 15.50 0 0 1 288.80 564.70 L288.80 573.10 A7.10 7.10 0 0 0 287.32 573.26 Z" fill="#BABCF7" stroke="#fff" stroke-width="0.45" stroke-linejoin="round"/>
<circle cx="441.80" cy="592.10" r="5.60" fill="#F7C4AC" stroke="#fff" stroke-width="0.40"/>
<line x1="441.80" y1="592.10" x2="441.80" y2="586.50" stroke="#fff" stroke-width="0.40" stroke-opacity="0.85"/>
<circle cx="355.30" cy="610.80" r="5.60" fill="#F7C4AC" stroke="#fff" stroke-width="0.40"/>
<line x1="355.30" y1="610.80" x2="355.30" y2="605.20" stroke="#fff" stroke-width="0.40" stroke-opacity="0.85"/>
<circle cx="409.00" cy="616.70" r="4.45" fill="none" stroke="#fff" stroke-width="3.11"/>
<circle cx="409.00" cy="616.70" r="4.45" fill="none" stroke="#F7C4AC" stroke-width="2.30"/>
<line x1="409.00" y1="613.40" x2="409.00" y2="611.10" stroke="#fff" stroke-width="0.45" stroke-opacity="0.85"/>
<circle cx="227.50" cy="626.70" r="5.17" fill="none" stroke="#fff" stroke-width="1.66"/>
<circle cx="227.50" cy="626.70" r="5.17" fill="none" stroke="#F7C4AC" stroke-width="0.85"/>
<line x1="227.50" y1="621.95" x2="227.50" y2="621.10" stroke="#fff" stroke-width="0.45" stroke-opacity="0.85"/>
<circle cx="227.50" cy="626.70" r="1.75" fill="#000"/>
<circle cx="240.50" cy="626.70" r="4.45" fill="none" stroke="#fff" stroke-width="3.11"/>
<circle cx="240.50" cy="626.70" r="4.45" fill="none" stroke="#BABCF7" stroke-width="2.30"/>
<line x1="240.50" y1="623.40" x2="240.50" y2="621.10" stroke="#fff" stroke-width="0.45" stroke-opacity="0.85"/>
<path d="M258.20 626.70 L258.20 615.90 A10.80 10.80 0 0 1 267.99 631.26 Z" fill="#F7C4AC" stroke="#fff" stroke-width="0.40" stroke-linejoin="round"/>
<path d="M258.20 626.70 L267.99 631.26 A10.80 10.80 0 1 1 258.20 615.90 Z" fill="#BABCF7" stroke="#fff" stroke-width="0.40" stroke-linejoin="round"/>
<circle cx="186.80" cy="667.90" r="5.17" fill="none" stroke="#fff" stroke-width="1.66"/>
<circle cx="186.80" cy="667.90" r="5.17" fill="none" stroke="#00ACF0" stroke-width="0.85"/>
<line x1="186.80" y1="663.15" x2="186.80" y2="662.30" stroke="#fff" stroke-width="0.45" stroke-opacity="0.85"/>
<circle cx="186.80" cy="667.90" r="1.75" fill="#000"/>
<path d="M200.00 662.30 A5.60 5.60 0 1 1 194.74 669.82 L196.90 669.03 A3.30 3.30 0 1 0 200.00 664.60 Z" fill="#618D70" stroke="#fff" stroke-width="0.45" stroke-linejoin="round"/>
<path d="M194.74 669.82 A5.60 5.60 0 0 1 198.55 662.49 L199.15 664.71 A3.30 3.30 0 0 0 196.90 669.03 Z" fill="#00ACF0" stroke="#fff" stroke-width="0.45" stroke-linejoin="round"/>
<circle cx="212.60" cy="667.90" r="5.60" fill="#BABCF7" stroke="#fff" stroke-width="0.40"/>
<line x1="212.60" y1="667.90" x2="212.60" y2="662.30" stroke="#fff" stroke-width="0.40" stroke-opacity="0.85"/>
<circle cx="146.90" cy="677.70" r="5.17" fill="none" stroke="#fff" stroke-width="1.66"/>
<circle cx="146.90" cy="677.70" r="5.17" fill="none" stroke="#BABCF7" stroke-width="0.85"/>
<line x1="146.90" y1="672.95" x2="146.90" y2="672.10" stroke="#fff" stroke-width="0.45" stroke-opacity="0.85"/>
<circle cx="146.90" cy="677.70" r="1.75" fill="#000"/>
<path d="M159.40 672.10 A5.60 5.60 0 1 1 154.55 680.50 L156.54 679.35 A3.30 3.30 0 1 0 159.40 674.40 Z" fill="#618D70" stroke="#fff" stroke-width="0.45" stroke-linejoin="round"/>
<path d="M154.55 680.50 A5.60 5.60 0 0 1 157.48 672.44 L158.27 674.60 A3.30 3.30 0 0 0 156.54 679.35 Z" fill="#00ACF0" stroke="#fff" stroke-width="0.45" stroke-linejoin="round"/>
<circle cx="302.70" cy="667.90" r="5.17" fill="none" stroke="#fff" stroke-width="1.66"/>
<circle cx="302.70" cy="667.90" r="5.17" fill="none" stroke="#F7C4AC" stroke-width="0.85"/>
<line x1="302.70" y1="663.15" x2="302.70" y2="662.30" stroke="#fff" stroke-width="0.45" stroke-opacity="0.85"/>
<circle cx="302.70" cy="667.90" r="1.75" fill="#000"/>
<circle cx="314.60" cy="667.90" r="5.17" fill="none" stroke="#fff" stroke-width="1.66"/>
<circle cx="314.60" cy="667.90" r="5.17" fill="none" stroke="#F7C4AC" stroke-width="0.85"/>
<line x1="314.60" y1="663.15" x2="314.60" y2="662.30" stroke="#fff" stroke-width="0.45" stroke-opacity="0.85"/>
<path d="M332.10 657.10 A10.80 10.80 0 1 1 322.75 662.50 L326.90 664.90 A6.00 6.00 0 1 0 332.10 661.90 Z" fill="#F7C4AC" stroke="#fff" stroke-width="0.45" stroke-linejoin="round"/>
<path d="M322.75 662.50 A10.80 10.80 0 0 1 332.10 657.10 L332.10 661.90 A6.00 6.00 0 0 0 326.90 664.90 Z" fill="#618D70" stroke="#fff" stroke-width="0.45" stroke-linejoin="round"/>
<path d="M349.80 667.90 L349.80 662.30 A5.60 5.60 0 0 1 355.06 669.82 Z" fill="#F7C4AC" stroke="#fff" stroke-width="0.40" stroke-linejoin="round"/>
<path d="M349.80 667.90 L355.06 669.82 A5.60 5.60 0 1 1 349.80 662.30 Z" fill="#BABCF7" stroke="#fff" stroke-width="0.40" stroke-linejoin="round"/>
<circle cx="383.40" cy="698.60" r="5.17" fill="none" stroke="#fff" stroke-width="1.66"/>
<circle cx="383.40" cy="698.60" r="5.17" fill="none" stroke="#F7C4AC" stroke-width="0.85"/>
<line x1="383.40" y1="693.85" x2="383.40" y2="693.00" stroke="#fff" stroke-width="0.45" stroke-opacity="0.85"/>
<circle cx="395.50" cy="698.60" r="4.45" fill="none" stroke="#fff" stroke-width="3.11"/>
<circle cx="395.50" cy="698.60" r="4.45" fill="none" stroke="#F7C4AC" stroke-width="2.30"/>
<line x1="395.50" y1="695.30" x2="395.50" y2="693.00" stroke="#fff" stroke-width="0.45" stroke-opacity="0.85"/>
<path d="M413.50 698.60 L413.50 687.80 A10.80 10.80 0 0 1 418.06 708.39 Z" fill="#DE6E07" stroke="#fff" stroke-width="0.40" stroke-linejoin="round"/>
<path d="M413.50 698.60 L418.06 708.39 A10.80 10.80 0 0 1 404.65 692.41 Z" fill="#F7C4AC" stroke="#fff" stroke-width="0.40" stroke-linejoin="round"/>
<path d="M413.50 698.60 L404.65 692.41 A10.80 10.80 0 0 1 413.50 687.80 Z" fill="#618D70" stroke="#fff" stroke-width="0.40" stroke-linejoin="round"/>
<text transform="translate(185.4 555.7) scale(1.050 1)" font-size="14.67" text-anchor="start" stroke="#fff" stroke-width="1.8" stroke-opacity="0.55" paint-order="stroke" stroke-linejoin="round">U.K.</text>
<text transform="translate(224.7 549.0) scale(1.050 1)" font-size="14.67" text-anchor="start" stroke="#fff" stroke-width="1.8" stroke-opacity="0.55" paint-order="stroke" stroke-linejoin="round">Netherlands</text>
<text transform="translate(254.3 518.0) scale(1.050 1)" font-size="14.67" text-anchor="start" stroke="#fff" stroke-width="1.8" stroke-opacity="0.55" paint-order="stroke" stroke-linejoin="round">Denmark</text>
<text transform="translate(342.4 456.7) scale(1.050 1)" font-size="14.67" text-anchor="start" stroke="#fff" stroke-width="1.8" stroke-opacity="0.55" paint-order="stroke" stroke-linejoin="round">Finland</text>
<text transform="translate(349.6 507.1) scale(1.050 1)" font-size="14.67" text-anchor="start" stroke="#fff" stroke-width="1.8" stroke-opacity="0.55" paint-order="stroke" stroke-linejoin="round">Estonia</text>
<text transform="translate(325.7 547.0) scale(1.050 1)" font-size="14.67" text-anchor="start" stroke="#fff" stroke-width="1.8" stroke-opacity="0.55" paint-order="stroke" stroke-linejoin="round">Poland</text>
<text transform="translate(306.6 572.7) scale(1.050 1)" font-size="14.67" text-anchor="start" stroke="#fff" stroke-width="1.8" stroke-opacity="0.55" paint-order="stroke" stroke-linejoin="round">Czechia</text>
<text transform="translate(258.3 606.0) scale(1.050 1)" font-size="14.67" text-anchor="start" stroke="#fff" stroke-width="1.8" stroke-opacity="0.55" paint-order="stroke" stroke-linejoin="round">Germany</text>
<text transform="translate(415.8 584.9) scale(1.050 1)" font-size="14.67" text-anchor="start" stroke="#fff" stroke-width="1.8" stroke-opacity="0.55" paint-order="stroke" stroke-linejoin="round">Ukraine</text>
<text transform="translate(329.9 603.1) scale(1.050 1)" font-size="14.67" text-anchor="start" stroke="#fff" stroke-width="1.8" stroke-opacity="0.55" paint-order="stroke" stroke-linejoin="round">Hungary</text>
<text transform="translate(378.2 632.5) scale(1.050 1)" font-size="14.67" text-anchor="start" stroke="#fff" stroke-width="1.8" stroke-opacity="0.55" paint-order="stroke" stroke-linejoin="round">Romania</text>
<text transform="translate(221.6 615.3) scale(1.050 1)" font-size="14.67" text-anchor="start" stroke="#fff" stroke-width="1.8" stroke-opacity="0.55" paint-order="stroke" stroke-linejoin="round">France</text>
<text transform="translate(180.7 659.9) scale(1.050 1)" font-size="14.67" text-anchor="start" stroke="#fff" stroke-width="1.8" stroke-opacity="0.55" paint-order="stroke" stroke-linejoin="round">Spain</text>
<text transform="translate(126.2 693.7) scale(1.050 1)" font-size="14.67" text-anchor="start" stroke="#fff" stroke-width="1.8" stroke-opacity="0.55" paint-order="stroke" stroke-linejoin="round">Portugal</text>
<text transform="translate(309.5 652.8) scale(1.050 1)" font-size="14.67" text-anchor="start" stroke="#fff" stroke-width="1.8" stroke-opacity="0.55" paint-order="stroke" stroke-linejoin="round">Italy</text>
<text transform="translate(374.3 685.4) scale(1.050 1)" font-size="14.67" text-anchor="start" stroke="#fff" stroke-width="1.8" stroke-opacity="0.55" paint-order="stroke" stroke-linejoin="round">Greece</text>
<circle cx="590.70" cy="492.10" r="5.60" fill="#F7C4AC" stroke="#fff" stroke-width="0.40"/>
<line x1="590.70" y1="492.10" x2="590.70" y2="486.50" stroke="#fff" stroke-width="0.40" stroke-opacity="0.85"/>
<circle cx="581.00" cy="528.00" r="5.60" fill="#F7C4AC" stroke="#fff" stroke-width="0.40"/>
<line x1="581.00" y1="528.00" x2="581.00" y2="522.40" stroke="#fff" stroke-width="0.40" stroke-opacity="0.85"/>
<circle cx="618.50" cy="553.50" r="5.17" fill="none" stroke="#fff" stroke-width="1.66"/>
<circle cx="618.50" cy="553.50" r="5.17" fill="none" stroke="#00ACF0" stroke-width="0.85"/>
<line x1="618.50" y1="548.75" x2="618.50" y2="547.90" stroke="#fff" stroke-width="0.45" stroke-opacity="0.85"/>
<circle cx="618.50" cy="553.50" r="1.75" fill="#000"/>
<circle cx="631.00" cy="553.50" r="4.45" fill="none" stroke="#fff" stroke-width="3.11"/>
<circle cx="631.00" cy="553.50" r="4.45" fill="none" stroke="#F7C4AC" stroke-width="2.30"/>
<line x1="631.00" y1="550.20" x2="631.00" y2="547.90" stroke="#fff" stroke-width="0.45" stroke-opacity="0.85"/>
<circle cx="642.80" cy="553.50" r="5.60" fill="#F7C4AC" stroke="#fff" stroke-width="0.40"/>
<line x1="642.80" y1="553.50" x2="642.80" y2="547.90" stroke="#fff" stroke-width="0.40" stroke-opacity="0.85"/>
<circle cx="755.50" cy="574.20" r="5.60" fill="#F7C4AC" stroke="#fff" stroke-width="0.40"/>
<line x1="755.50" y1="574.20" x2="755.50" y2="568.60" stroke="#fff" stroke-width="0.40" stroke-opacity="0.85"/>
<circle cx="604.20" cy="628.30" r="4.45" fill="none" stroke="#fff" stroke-width="3.11"/>
<circle cx="604.20" cy="628.30" r="4.45" fill="none" stroke="#618D70" stroke-width="2.30"/>
<line x1="604.20" y1="625.00" x2="604.20" y2="622.70" stroke="#fff" stroke-width="0.45" stroke-opacity="0.85"/>
<circle cx="670.70" cy="618.30" r="5.60" fill="#F7C4AC" stroke="#fff" stroke-width="0.40"/>
<line x1="670.70" y1="618.30" x2="670.70" y2="612.70" stroke="#fff" stroke-width="0.40" stroke-opacity="0.85"/>
<path d="M665.10 646.50 A5.60 5.60 0 1 1 660.81 655.70 L662.57 654.22 A3.30 3.30 0 1 0 665.10 648.80 Z" fill="#618D70" stroke="#fff" stroke-width="0.45" stroke-linejoin="round"/>
<path d="M660.81 655.70 A5.60 5.60 0 0 1 665.10 646.50 L665.10 648.80 A3.30 3.30 0 0 0 662.57 654.22 Z" fill="#F7C4AC" stroke="#fff" stroke-width="0.45" stroke-linejoin="round"/>
<path d="M677.40 652.10 L677.40 646.50 A5.60 5.60 0 1 1 671.80 652.10 Z" fill="#F7C4AC" stroke="#fff" stroke-width="0.40" stroke-linejoin="round"/>
<path d="M677.40 652.10 L671.80 652.10 A5.60 5.60 0 0 1 677.40 646.50 Z" fill="#618D70" stroke="#fff" stroke-width="0.40" stroke-linejoin="round"/>
<text transform="translate(571.3 484.3) scale(1.050 1)" font-size="14.67" text-anchor="start" stroke="#fff" stroke-width="1.8" stroke-opacity="0.55" paint-order="stroke" stroke-linejoin="round">Laos</text>
<text transform="translate(550.5 521.6) scale(1.050 1)" font-size="14.67" text-anchor="start" stroke="#fff" stroke-width="1.8" stroke-opacity="0.55" paint-order="stroke" stroke-linejoin="round">Thailand</text>
<text transform="translate(601.4 546.8) scale(1.050 1)" font-size="14.67" text-anchor="start" stroke="#fff" stroke-width="1.8" stroke-opacity="0.55" paint-order="stroke" stroke-linejoin="round">Vietnam</text>
<text transform="translate(721.1 565.8) scale(1.050 1)" font-size="14.67" text-anchor="start" stroke="#fff" stroke-width="1.8" stroke-opacity="0.55" paint-order="stroke" stroke-linejoin="round">Philippines</text>
<text transform="translate(570.2 618.4) scale(1.050 1)" font-size="14.67" text-anchor="start" stroke="#fff" stroke-width="1.8" stroke-opacity="0.55" paint-order="stroke" stroke-linejoin="round">Singapore</text>
<text transform="translate(642.4 610.7) scale(1.050 1)" font-size="14.67" text-anchor="start" stroke="#fff" stroke-width="1.8" stroke-opacity="0.55" paint-order="stroke" stroke-linejoin="round">Malaysia</text>
<text transform="translate(636.0 644.9) scale(1.050 1)" font-size="14.67" text-anchor="start" stroke="#fff" stroke-width="1.8" stroke-opacity="0.55" paint-order="stroke" stroke-linejoin="round">Indonesia</text>
</svg></body></html>
